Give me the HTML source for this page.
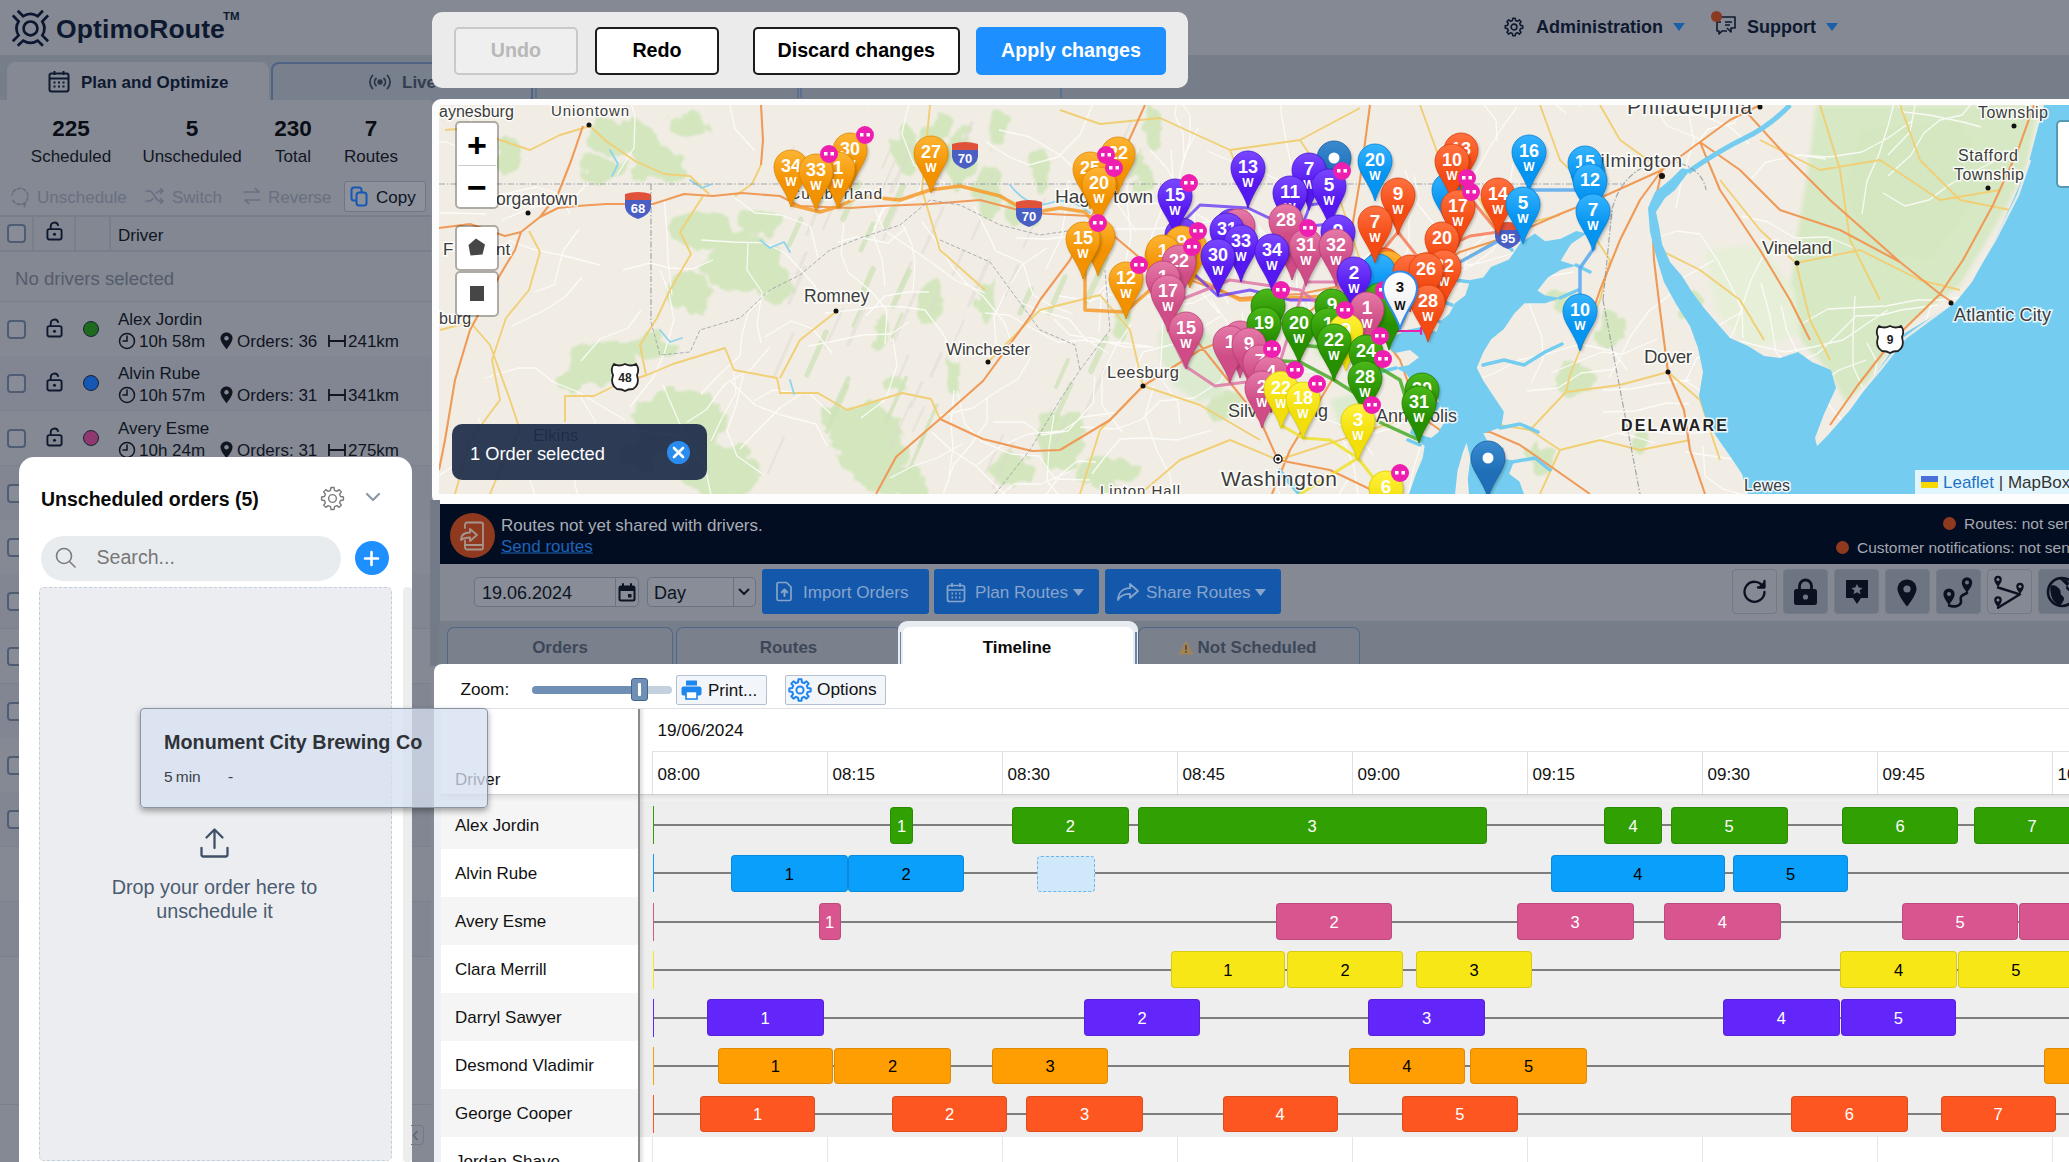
<!DOCTYPE html><html><head><meta charset="utf-8"><title>OptimoRoute</title><style>
*{box-sizing:border-box;margin:0;padding:0}
html,body{width:2069px;height:1162px;overflow:hidden;background:#848994;font-family:"Liberation Sans",sans-serif;}
.a{position:absolute}
.t{position:absolute;white-space:nowrap;line-height:1}
svg{position:absolute;overflow:visible}
</style></head><body><div id="root" style="position:relative;width:2069px;height:1162px;overflow:hidden">
<div class="a" style="left:0px;top:0px;width:2069px;height:55px;background:#848994"></div>
<div class="a" style="left:0px;top:55px;width:2069px;height:45px;background:#767e8a"></div>
<svg style="left:0px;top:0px" width="60" height="56" viewBox="0 0 60 56" fill="none" stroke="#0b1730" stroke-width="2.700" stroke-linecap="butt" stroke-linejoin="miter">
<circle cx="30.500" cy="28.400" r="6.900"/>
<path d="M17.700 10.700 L23.200 16.200 Q30.500 11.600 37.700 16.200 L42.900 10.700"/>
<path d="M17.700 45.800 L23.200 40.600 Q30.500 45.200 37.700 40.600 L42.900 45.800"/>
<path d="M12.800 15.400 L18.600 21.500 Q14.200 28.400 18.600 35.400 L12.800 41.200"/>
<path d="M48.100 15.400 L42.300 21.500 Q46.700 28.400 42.300 35.400 L48.100 41.200"/>
</svg>
<div class="t" style="left:56px;top:29px;font-size:26.5px;color:#0e1930;font-weight:bold;transform:translate(0,-50%);letter-spacing:0.1px">OptimoRoute</div>
<div class="t" style="left:223px;top:17px;font-size:11.5px;color:#0e1930;font-weight:bold;transform:translate(0,-50%);">TM</div>
<svg style="left:1504px;top:16.500px" width="20" height="20" viewBox="0 0 24 24" fill="none" stroke="#0e1930" stroke-width="1.900" stroke-linejoin="round"><circle cx="12" cy="12" r="3.500"/><path d="M10.07 4.24 L10.51 1.51 L13.49 1.51 L13.93 4.24 L16.13 5.15 L18.36 3.52 L20.48 5.64 L18.85 7.87 L19.76 10.07 L22.49 10.51 L22.49 13.49 L19.76 13.93 L18.85 16.13 L20.48 18.36 L18.36 20.48 L16.13 18.85 L13.93 19.76 L13.49 22.49 L10.51 22.49 L10.07 19.76 L7.87 18.85 L5.64 20.48 L3.52 18.36 L5.15 16.13 L4.24 13.93 L1.51 13.49 L1.51 10.51 L4.24 10.07 L5.15 7.87 L3.52 5.64 L5.64 3.52 L7.87 5.15 Z"/></svg>
<div class="t" style="left:1536px;top:27px;font-size:18px;color:#0e1930;font-weight:bold;transform:translate(0,-50%);">Administration</div>
<svg style="left:1673px;top:23px" width="12" height="8" viewBox="0 0 12 8"><path d="M0 0h12l-6 8z" fill="#1b5fa8"/></svg>
<svg style="left:1714px;top:14px" width="24" height="24" viewBox="0 0 24 24" fill="none" stroke="#0e1930" stroke-width="1.6" stroke-linejoin="round"><path d="M7 3h14v11h-4v4l-4-4"/><path d="M11 8h7M11 11h5"/><path d="M3 8h4M3 8v9h2v3l3-3h5"/></svg>
<div class="a" style="left:1711px;top:11px;width:11px;height:11px;background:#8b3a22;border-radius:50%"></div>
<div class="t" style="left:1747px;top:27px;font-size:18px;color:#0e1930;font-weight:bold;transform:translate(0,-50%);">Support</div>
<svg style="left:1826px;top:23px" width="12" height="8" viewBox="0 0 12 8"><path d="M0 0h12l-6 8z" fill="#1b5fa8"/></svg>
<div class="a" style="left:7px;top:62px;width:262px;height:40px;background:#848994;border-radius:8px 8px 0 0"></div>
<svg style="left:47px;top:69px" width="24" height="24" viewBox="0 0 24 24" fill="none" stroke="#0e1930" stroke-width="2" stroke-linejoin="round"><rect x="2.5" y="4.5" width="19" height="18" rx="2"/><path d="M2.5 9.5h19M7.5 2v4M16.5 2v4"/><path d="M6.5 13.5h2M11 13.5h2M15.5 13.5h2M6.5 17.5h2M11 17.5h2M15.5 17.5h2" stroke-width="2.2"/></svg>
<div class="t" style="left:81px;top:82px;font-size:17px;color:#0e1930;font-weight:bold;transform:translate(0,-50%);">Plan and Optimize</div>
<div class="a" style="left:271px;top:62px;width:262px;height:40px;background:#78808d;border:2px solid #4f6485;border-bottom:none;border-radius:8px 8px 0 0"></div>
<svg style="left:367px;top:72px" width="26" height="20" viewBox="0 0 26 20" fill="none" stroke="#2b3548" stroke-width="1.800" stroke-linecap="round"><circle cx="13" cy="10" r="1.800" fill="#2b3548"/><path d="M9 6.500a5 5 0 0 0 0 7M17 6.500a5 5 0 0 1 0 7M5.500 3.500a9.500 9.500 0 0 0 0 13M20.500 3.500a9.500 9.500 0 0 1 0 13"/></svg>
<div class="t" style="left:402px;top:82px;font-size:17px;color:#333d50;font-weight:bold;transform:translate(0,-50%);">Live</div>
<div class="a" style="left:535px;top:88px;width:2px;height:10px;background:#5a7090"></div>
<div class="a" style="left:800px;top:88px;width:2px;height:10px;background:#5a7090"></div>
<div class="a" style="left:1060px;top:88px;width:2px;height:10px;background:#5a7090"></div>
<div class="a" style="left:797px;top:88px;width:2px;height:10px;background:#5a7090"></div>
<div class="a" style="left:0px;top:100px;width:431px;height:1062px;background:#848994"></div>
<div class="t" style="left:71px;top:128.5px;font-size:22.5px;color:#0a0d14;font-weight:bold;transform:translate(-50%,-50%);">225</div>
<div class="t" style="left:71px;top:156px;font-size:17px;color:#12161f;font-weight:normal;transform:translate(-50%,-50%);">Scheduled</div>
<div class="t" style="left:192px;top:128.5px;font-size:22.5px;color:#0a0d14;font-weight:bold;transform:translate(-50%,-50%);">5</div>
<div class="t" style="left:192px;top:156px;font-size:17px;color:#12161f;font-weight:normal;transform:translate(-50%,-50%);">Unscheduled</div>
<div class="t" style="left:293px;top:128.5px;font-size:22.5px;color:#0a0d14;font-weight:bold;transform:translate(-50%,-50%);">230</div>
<div class="t" style="left:293px;top:156px;font-size:17px;color:#12161f;font-weight:normal;transform:translate(-50%,-50%);">Total</div>
<div class="t" style="left:371px;top:128.5px;font-size:22.5px;color:#0a0d14;font-weight:bold;transform:translate(-50%,-50%);">7</div>
<div class="t" style="left:371px;top:156px;font-size:17px;color:#12161f;font-weight:normal;transform:translate(-50%,-50%);">Routes</div>
<svg style="left:9px;top:185px" width="22" height="22" viewBox="0 0 22 22" fill="none" stroke="#687080" stroke-width="1.7" stroke-linecap="round"><path d="M4 15.5A8 8 0 1 0 3 10" stroke-dasharray="3.2 2.2"/><path d="M13 19.5l3.5-1.2-1.2 3.5" stroke-linejoin="round"/></svg>
<div class="t" style="left:37px;top:197px;font-size:17px;color:#687080;font-weight:normal;transform:translate(0,-50%);">Unschedule</div>
<svg style="left:145px;top:187px" width="20" height="18" viewBox="0 0 20 18" fill="none" stroke="#687080" stroke-width="1.7" stroke-linecap="round" stroke-linejoin="round"><path d="M1 4h3.5c4 0 6 10 10 10H18M1 14h3.5c1.3 0 2.3-1 3.2-2.3M11.5 6.2C12.400 5 13.300 4 14.500 4H18M15.500 1.500L18 4l-2.500 2.500M15.500 11.500L18 14l-2.500 2.500"/></svg>
<div class="t" style="left:172px;top:197px;font-size:17px;color:#687080;font-weight:normal;transform:translate(0,-50%);">Switch</div>
<svg style="left:242px;top:187px" width="20" height="18" viewBox="0 0 20 18" fill="none" stroke="#687080" stroke-width="1.7" stroke-linecap="round" stroke-linejoin="round"><path d="M2 5h15M13.500 1.500L17 5M18 13H3M6.500 16.500L3 13"/></svg>
<div class="t" style="left:268px;top:197px;font-size:17px;color:#687080;font-weight:normal;transform:translate(0,-50%);">Reverse</div>
<div class="a" style="left:344px;top:181px;width:82px;height:31px;background:#8c919b;border:1px solid #6f7786;border-radius:3px"></div>
<svg style="left:350px;top:186px" width="20" height="22" viewBox="0 0 20 22" fill="none" stroke="#1459b3" stroke-width="2" stroke-linejoin="round"><rect x="1.500" y="1.500" width="10" height="13" rx="2.500"/><rect x="6.500" y="6.500" width="10" height="13" rx="2.500" fill="#8c919b"/></svg>
<div class="t" style="left:376px;top:197px;font-size:17px;color:#0c1424;font-weight:normal;transform:translate(0,-50%);">Copy</div>
<div class="a" style="left:0px;top:215px;width:431px;height:37px;background:#828792;border-top:2px solid #787f8c;border-bottom:2px solid #787f8c"></div>
<div class="a" style="left:32px;top:216px;width:2px;height:35px;background:#787f8c"></div>
<div class="a" style="left:74px;top:216px;width:2px;height:35px;background:#787f8c"></div>
<div class="a" style="left:109px;top:216px;width:2px;height:35px;background:#787f8c"></div>
<div class="a" style="left:7px;top:224px;width:19px;height:19px;border:2px solid #4f5c74;border-radius:4px;background:#878c97"></div>
<svg style="left:46px;top:221px" width="17" height="20" viewBox="0 0 18 21" fill="none" stroke="#0e1930" stroke-width="2"><rect x="1.500" y="8.500" width="15" height="11" rx="2"/><path d="M5 8.500V5.500a4 4 0 0 1 7.800 -1.200" stroke-linecap="round"/><circle cx="9" cy="14" r="1.600" fill="#0e1930" stroke="none"/></svg>
<div class="t" style="left:118px;top:235px;font-size:17px;color:#10151f;font-weight:normal;transform:translate(0,-50%);">Driver</div>
<div class="a" style="left:0px;top:252px;width:431px;height:50px;background:#838893"></div>
<div class="t" style="left:15px;top:278.5px;font-size:18.6px;color:#545c6b;font-weight:normal;transform:translate(0,-50%);">No drivers selected</div>
<div class="a" style="left:0px;top:301px;width:431px;height:1px;background:#7a808c"></div>
<div class="a" style="left:0px;top:302px;width:431px;height:55px;background:#848994;border-bottom:1px solid #7a808c"></div>
<div class="a" style="left:7px;top:320px;width:19px;height:19px;border:2px solid #4f5c74;border-radius:4px;background:#878c97"></div>
<svg style="left:46px;top:318px" width="17" height="20" viewBox="0 0 18 21" fill="none" stroke="#0e1930" stroke-width="2"><rect x="1.500" y="8.500" width="15" height="11" rx="2"/><path d="M5 8.500V5.500a4 4 0 0 1 7.800 -1.200" stroke-linecap="round"/><circle cx="9" cy="14" r="1.600" fill="#0e1930" stroke="none"/></svg>
<div class="a" style="left:83px;top:320.5px;width:16px;height:16px;background:#1e6b1e;border-radius:50%;border:1px solid #1a2233"></div>
<div class="t" style="left:118px;top:319px;font-size:17px;color:#10151f;font-weight:normal;transform:translate(0,-50%);">Alex Jordin</div>
<svg style="left:118px;top:332px" width="18" height="18" viewBox="0 0 18 18" fill="none" stroke="#10151f" stroke-width="1.500"><circle cx="9" cy="9" r="7.500"/><path d="M9 4v5H5" stroke-linecap="round"/></svg>
<div class="t" style="left:139px;top:341px;font-size:17px;color:#10151f;font-weight:normal;transform:translate(0,-50%);">10h 58m</div>
<svg style="left:220px;top:332px" width="13" height="18" viewBox="0 0 13 18"><path d="M6.500 0.500C3 0.500 0.500 3 0.500 6.300c0 4 6 11 6 11s6-7 6-11C12.500 3 10 0.500 6.500 0.500z" fill="#10151f"/><circle cx="6.500" cy="6.300" r="2.200" fill="#848994"/></svg>
<div class="t" style="left:237px;top:341px;font-size:17px;color:#10151f;font-weight:normal;transform:translate(0,-50%);">Orders: 36</div>
<svg style="left:328px;top:335px" width="18" height="12" viewBox="0 0 18 12" fill="none" stroke="#10151f" stroke-width="1.800"><path d="M1 0v12M17 0v12M1 6h16"/></svg>
<div class="t" style="left:348px;top:341px;font-size:17px;color:#10151f;font-weight:normal;transform:translate(0,-50%);">241km</div>
<div class="a" style="left:0px;top:356px;width:431px;height:55px;background:#818692;border-bottom:1px solid #7a808c"></div>
<div class="a" style="left:7px;top:374px;width:19px;height:19px;border:2px solid #4f5c74;border-radius:4px;background:#878c97"></div>
<svg style="left:46px;top:372px" width="17" height="20" viewBox="0 0 18 21" fill="none" stroke="#0e1930" stroke-width="2"><rect x="1.500" y="8.500" width="15" height="11" rx="2"/><path d="M5 8.500V5.500a4 4 0 0 1 7.800 -1.200" stroke-linecap="round"/><circle cx="9" cy="14" r="1.600" fill="#0e1930" stroke="none"/></svg>
<div class="a" style="left:83px;top:374.5px;width:16px;height:16px;background:#1457b5;border-radius:50%;border:1px solid #1a2233"></div>
<div class="t" style="left:118px;top:373px;font-size:17px;color:#10151f;font-weight:normal;transform:translate(0,-50%);">Alvin Rube</div>
<svg style="left:118px;top:386px" width="18" height="18" viewBox="0 0 18 18" fill="none" stroke="#10151f" stroke-width="1.500"><circle cx="9" cy="9" r="7.500"/><path d="M9 4v5H5" stroke-linecap="round"/></svg>
<div class="t" style="left:139px;top:395px;font-size:17px;color:#10151f;font-weight:normal;transform:translate(0,-50%);">10h 57m</div>
<svg style="left:220px;top:386px" width="13" height="18" viewBox="0 0 13 18"><path d="M6.500 0.500C3 0.500 0.500 3 0.500 6.300c0 4 6 11 6 11s6-7 6-11C12.500 3 10 0.500 6.500 0.500z" fill="#10151f"/><circle cx="6.500" cy="6.300" r="2.200" fill="#848994"/></svg>
<div class="t" style="left:237px;top:395px;font-size:17px;color:#10151f;font-weight:normal;transform:translate(0,-50%);">Orders: 31</div>
<svg style="left:328px;top:389px" width="18" height="12" viewBox="0 0 18 12" fill="none" stroke="#10151f" stroke-width="1.800"><path d="M1 0v12M17 0v12M1 6h16"/></svg>
<div class="t" style="left:348px;top:395px;font-size:17px;color:#10151f;font-weight:normal;transform:translate(0,-50%);">341km</div>
<div class="a" style="left:0px;top:411px;width:431px;height:55px;background:#848994;border-bottom:1px solid #7a808c"></div>
<div class="a" style="left:7px;top:429px;width:19px;height:19px;border:2px solid #4f5c74;border-radius:4px;background:#878c97"></div>
<svg style="left:46px;top:427px" width="17" height="20" viewBox="0 0 18 21" fill="none" stroke="#0e1930" stroke-width="2"><rect x="1.500" y="8.500" width="15" height="11" rx="2"/><path d="M5 8.500V5.500a4 4 0 0 1 7.800 -1.200" stroke-linecap="round"/><circle cx="9" cy="14" r="1.600" fill="#0e1930" stroke="none"/></svg>
<div class="a" style="left:83px;top:429.5px;width:16px;height:16px;background:#8e3a70;border-radius:50%;border:1px solid #1a2233"></div>
<div class="t" style="left:118px;top:428px;font-size:17px;color:#10151f;font-weight:normal;transform:translate(0,-50%);">Avery Esme</div>
<svg style="left:118px;top:441px" width="18" height="18" viewBox="0 0 18 18" fill="none" stroke="#10151f" stroke-width="1.500"><circle cx="9" cy="9" r="7.500"/><path d="M9 4v5H5" stroke-linecap="round"/></svg>
<div class="t" style="left:139px;top:450px;font-size:17px;color:#10151f;font-weight:normal;transform:translate(0,-50%);">10h 24m</div>
<svg style="left:220px;top:441px" width="13" height="18" viewBox="0 0 13 18"><path d="M6.500 0.500C3 0.500 0.500 3 0.500 6.300c0 4 6 11 6 11s6-7 6-11C12.500 3 10 0.500 6.500 0.500z" fill="#10151f"/><circle cx="6.500" cy="6.300" r="2.200" fill="#848994"/></svg>
<div class="t" style="left:237px;top:450px;font-size:17px;color:#10151f;font-weight:normal;transform:translate(0,-50%);">Orders: 31</div>
<svg style="left:328px;top:444px" width="18" height="12" viewBox="0 0 18 12" fill="none" stroke="#10151f" stroke-width="1.800"><path d="M1 0v12M17 0v12M1 6h16"/></svg>
<div class="t" style="left:348px;top:450px;font-size:17px;color:#10151f;font-weight:normal;transform:translate(0,-50%);">275km</div>
<div class="a" style="left:0px;top:466px;width:431px;height:55px;background:#818692;border-bottom:1px solid #7a808c"></div>
<div class="a" style="left:7px;top:484px;width:19px;height:19px;border:2px solid #4f5c74;border-radius:4px;background:#878c97"></div>
<div class="a" style="left:0px;top:520px;width:431px;height:55px;background:#848994;border-bottom:1px solid #7a808c"></div>
<div class="a" style="left:7px;top:538px;width:19px;height:19px;border:2px solid #4f5c74;border-radius:4px;background:#878c97"></div>
<div class="a" style="left:0px;top:574px;width:431px;height:55px;background:#818692;border-bottom:1px solid #7a808c"></div>
<div class="a" style="left:7px;top:592px;width:19px;height:19px;border:2px solid #4f5c74;border-radius:4px;background:#878c97"></div>
<div class="a" style="left:0px;top:629px;width:431px;height:55px;background:#848994;border-bottom:1px solid #7a808c"></div>
<div class="a" style="left:7px;top:647px;width:19px;height:19px;border:2px solid #4f5c74;border-radius:4px;background:#878c97"></div>
<div class="a" style="left:0px;top:684px;width:431px;height:55px;background:#818692;border-bottom:1px solid #7a808c"></div>
<div class="a" style="left:7px;top:702px;width:19px;height:19px;border:2px solid #4f5c74;border-radius:4px;background:#878c97"></div>
<div class="a" style="left:0px;top:738px;width:431px;height:55px;background:#848994;border-bottom:1px solid #7a808c"></div>
<div class="a" style="left:7px;top:756px;width:19px;height:19px;border:2px solid #4f5c74;border-radius:4px;background:#878c97"></div>
<div class="a" style="left:0px;top:792px;width:431px;height:55px;background:#818692;border-bottom:1px solid #7a808c"></div>
<div class="a" style="left:7px;top:810px;width:19px;height:19px;border:2px solid #4f5c74;border-radius:4px;background:#878c97"></div>
<div class="a" style="left:0px;top:847px;width:431px;height:55px;background:#848994;border-bottom:1px solid #7a808c"></div>
<div class="a" style="left:0px;top:902px;width:431px;height:55px;background:#818692;border-bottom:1px solid #7a808c"></div>
<div class="a" style="left:0px;top:1105px;width:431px;height:57px;background:#848994"></div>
<div class="a" style="left:0px;top:1104px;width:431px;height:1px;background:#7a808c"></div>
<div class="a" style="left:432px;top:98.5px;width:1637px;height:406px;background:#fdfdfd;border-radius:9px 0 0 9px"></div>
<svg style="left:439px;top:105px;overflow:hidden" width="1630" height="389" viewBox="439 105 1630 389">
<defs>
<filter id="bl8"><feGaussianBlur stdDeviation="5"/></filter>
<filter id="bl3"><feGaussianBlur stdDeviation="2"/></filter>
<filter id="rough" x="-10%" y="-10%" width="120%" height="120%"><feTurbulence type="fractalNoise" baseFrequency="0.045" numOctaves="3" seed="4" result="n"/><feDisplacementMap in="SourceGraphic" in2="n" scale="26" xChannelSelector="R" yChannelSelector="G" result="d"/><feGaussianBlur in="d" stdDeviation="1.200"/></filter>
<filter id="ps" x="-30%" y="-20%" width="160%" height="150%"><feGaussianBlur stdDeviation="1.500"/></filter>

<linearGradient id="go" x1="0" y1="0" x2="0" y2="1"><stop offset="0" stop-color="#fdb534"/><stop offset="0.550" stop-color="#f39200"/><stop offset="1" stop-color="#f39200"/></linearGradient>
<linearGradient id="gp" x1="0" y1="0" x2="0" y2="1"><stop offset="0" stop-color="#7a48ff"/><stop offset="0.550" stop-color="#5518f0"/><stop offset="1" stop-color="#5518f0"/></linearGradient>
<linearGradient id="gk" x1="0" y1="0" x2="0" y2="1"><stop offset="0" stop-color="#e57aa8"/><stop offset="0.550" stop-color="#cf4c86"/><stop offset="1" stop-color="#cf4c86"/></linearGradient>
<linearGradient id="gg" x1="0" y1="0" x2="0" y2="1"><stop offset="0" stop-color="#4bb81a"/><stop offset="0.550" stop-color="#279000"/><stop offset="1" stop-color="#279000"/></linearGradient>
<linearGradient id="gy" x1="0" y1="0" x2="0" y2="1"><stop offset="0" stop-color="#fff23a"/><stop offset="0.550" stop-color="#f2de0a"/><stop offset="1" stop-color="#f2de0a"/></linearGradient>
<linearGradient id="gr" x1="0" y1="0" x2="0" y2="1"><stop offset="0" stop-color="#ff7240"/><stop offset="0.550" stop-color="#f44b14"/><stop offset="1" stop-color="#f44b14"/></linearGradient>
<linearGradient id="gb" x1="0" y1="0" x2="0" y2="1"><stop offset="0" stop-color="#36b3ff"/><stop offset="0.550" stop-color="#0594f0"/><stop offset="1" stop-color="#0594f0"/></linearGradient>
<linearGradient id="gw" x1="0" y1="0" x2="0" y2="1"><stop offset="0" stop-color="#ffffff"/><stop offset="0.550" stop-color="#f4f4f4"/><stop offset="1" stop-color="#f4f4f4"/></linearGradient>
<linearGradient id="gd" x1="0" y1="0" x2="0" y2="1"><stop offset="0" stop-color="#3a8ad0"/><stop offset="0.550" stop-color="#1f6fb8"/><stop offset="1" stop-color="#1f6fb8"/></linearGradient>
</defs>
<rect x="439" y="105" width="1630" height="389" fill="#f1ede5"/>
<g filter="url(#rough)" opacity="0.950">
<ellipse cx="509" cy="155" rx="10" ry="16" fill="#d2e6bc"/>
<ellipse cx="620" cy="135" rx="32" ry="18" fill="#d2e6bc"/>
<ellipse cx="660" cy="165" rx="28" ry="18" fill="#d2e6bc"/>
<ellipse cx="690" cy="125" rx="22" ry="13" fill="#d2e6bc"/>
<ellipse cx="600" cy="170" rx="22" ry="15" fill="#d2e6bc"/>
<ellipse cx="640" cy="150" rx="20" ry="14" fill="#d2e6bc"/>
<ellipse cx="700" cy="232" rx="30" ry="20" fill="#d2e6bc"/>
<ellipse cx="742" cy="262" rx="36" ry="30" fill="#d2e6bc"/>
<ellipse cx="690" cy="290" rx="22" ry="22" fill="#d2e6bc"/>
<ellipse cx="762" cy="222" rx="22" ry="13" fill="#d2e6bc"/>
<ellipse cx="775" cy="285" rx="18" ry="22" fill="#d2e6bc"/>
<ellipse cx="600" cy="362" rx="36" ry="22" fill="#d2e6bc"/>
<ellipse cx="650" cy="347" rx="28" ry="13" fill="#d2e6bc"/>
<ellipse cx="575" cy="380" rx="18" ry="14" fill="#d2e6bc"/>
<ellipse cx="680" cy="425" rx="46" ry="36" fill="#d2e6bc"/>
<ellipse cx="722" cy="472" rx="38" ry="26" fill="#d2e6bc"/>
<ellipse cx="640" cy="455" rx="22" ry="16" fill="#d2e6bc"/>
<ellipse cx="870" cy="445" rx="34" ry="44" fill="#d2e6bc"/>
<ellipse cx="902" cy="482" rx="26" ry="16" fill="#d2e6bc"/>
<ellipse cx="895" cy="386" rx="14" ry="9" fill="#d2e6bc"/>
<ellipse cx="835" cy="420" rx="14" ry="12" fill="#d2e6bc"/>
<ellipse cx="905" cy="150" rx="14" ry="26" fill="#d2e6bc"/>
<ellipse cx="935" cy="135" rx="12" ry="22" fill="#d2e6bc"/>
<ellipse cx="960" cy="160" rx="12" ry="30" fill="#d2e6bc"/>
<ellipse cx="990" cy="190" rx="14" ry="26" fill="#d2e6bc"/>
<ellipse cx="1000" cy="130" rx="12" ry="20" fill="#d2e6bc"/>
<ellipse cx="1040" cy="170" rx="10" ry="22" fill="#d2e6bc"/>
<ellipse cx="1020" cy="215" rx="16" ry="10" fill="#d2e6bc"/>
<ellipse cx="880" cy="330" rx="8" ry="20" fill="#d2e6bc"/>
<ellipse cx="930" cy="300" rx="8" ry="22" fill="#d2e6bc"/>
<ellipse cx="985" cy="300" rx="8" ry="20" fill="#d2e6bc"/>
<ellipse cx="950" cy="380" rx="8" ry="16" fill="#d2e6bc"/>
<ellipse cx="1142" cy="180" rx="9" ry="26" fill="#d2e6bc"/>
<ellipse cx="1150" cy="125" rx="10" ry="20" fill="#d2e6bc"/>
<ellipse cx="1120" cy="320" rx="8" ry="18" fill="#d2e6bc"/>
<ellipse cx="1060" cy="440" rx="26" ry="30" fill="#d2e6bc"/>
<ellipse cx="1105" cy="472" rx="30" ry="18" fill="#d2e6bc"/>
<ellipse cx="1010" cy="470" rx="20" ry="16" fill="#d2e6bc"/>
<ellipse cx="1180" cy="330" rx="14" ry="22" fill="#d2e6bc"/>
<ellipse cx="1225" cy="405" rx="18" ry="14" fill="#d2e6bc"/>
<ellipse cx="1560" cy="300" rx="14" ry="10" fill="#d2e6bc"/>
<ellipse cx="1575" cy="380" rx="20" ry="14" fill="#d2e6bc"/>
<ellipse cx="1610" cy="330" rx="14" ry="18" fill="#d2e6bc"/>
<ellipse cx="1540" cy="455" rx="14" ry="12" fill="#d2e6bc"/>
<ellipse cx="1640" cy="440" rx="12" ry="16" fill="#d2e6bc"/>
<ellipse cx="1690" cy="305" rx="10" ry="14" fill="#d2e6bc"/>
</g>
<g filter="url(#bl3)"><path d="M1158 332 L1184 318 L1212 336 L1226 372 L1222 396 L1198 402 L1172 384 L1160 358 Z" fill="#dcebd0"/><path d="M1300 330 L1330 322 L1345 345 L1320 360Z M1330 400 L1360 392 L1370 420 L1340 428Z" fill="#dcebd0"/></g>
<g filter="url(#bl3)"><path d="M1816 105 L2040 105 L2025 170 L2005 210 L1960 285 L1900 330 L1870 380 L1845 402 L1830 372 L1802 342 L1790 290 L1798 230 L1808 170 Z" fill="#d7e8c4"/><path d="M1705 250 L1760 245 L1795 290 L1800 335 L1750 350 L1715 310Z" fill="#e7efd8"/><path d="M1860 130 L1960 120 L1990 180 L1930 260 L1870 250 L1845 190Z" fill="#d4e7c0"/></g>
<path d="M877 201 l18 -40" stroke="#dedad2" stroke-width="2.1" opacity="0.450" stroke-linecap="round"/>
<path d="M953 274 l10 -22" stroke="#dedad2" stroke-width="3.0" opacity="0.450" stroke-linecap="round"/>
<path d="M773 297 l10 -22" stroke="#dedad2" stroke-width="2.2" opacity="0.450" stroke-linecap="round"/>
<path d="M913 431 l11 -24" stroke="#dedad2" stroke-width="2.4" opacity="0.450" stroke-linecap="round"/>
<path d="M986 472 l17 -37" stroke="#dedad2" stroke-width="2.8" opacity="0.450" stroke-linecap="round"/>
<path d="M1111 166 l21 -46" stroke="#dedad2" stroke-width="2.6" opacity="0.450" stroke-linecap="round"/>
<path d="M812 190 l13 -29" stroke="#dedad2" stroke-width="3.6" opacity="0.450" stroke-linecap="round"/>
<path d="M825 348 l18 -39" stroke="#dedad2" stroke-width="2.7" opacity="0.450" stroke-linecap="round"/>
<path d="M957 171 l10 -22" stroke="#dedad2" stroke-width="2.4" opacity="0.450" stroke-linecap="round"/>
<path d="M1005 295 l13 -29" stroke="#dedad2" stroke-width="3.2" opacity="0.450" stroke-linecap="round"/>
<path d="M923 252 l20 -44" stroke="#dedad2" stroke-width="3.4" opacity="0.450" stroke-linecap="round"/>
<path d="M848 345 l16 -36" stroke="#dedad2" stroke-width="3.8" opacity="0.450" stroke-linecap="round"/>
<path d="M1023 248 l22 -49" stroke="#dedad2" stroke-width="2.2" opacity="0.450" stroke-linecap="round"/>
<path d="M911 407 l11 -25" stroke="#dedad2" stroke-width="3.0" opacity="0.450" stroke-linecap="round"/>
<path d="M774 377 l19 -43" stroke="#dedad2" stroke-width="3.1" opacity="0.450" stroke-linecap="round"/>
<path d="M1075 257 l18 -41" stroke="#dedad2" stroke-width="3.2" opacity="0.450" stroke-linecap="round"/>
<path d="M969 305 l20 -45" stroke="#dedad2" stroke-width="3.9" opacity="0.450" stroke-linecap="round"/>
<path d="M931 376 l10 -22" stroke="#dedad2" stroke-width="3.4" opacity="0.450" stroke-linecap="round"/>
<path d="M993 488 l20 -45" stroke="#dedad2" stroke-width="2.6" opacity="0.450" stroke-linecap="round"/>
<path d="M899 377 l9 -21" stroke="#dedad2" stroke-width="2.9" opacity="0.450" stroke-linecap="round"/>
<path d="M820 190 l10 -22" stroke="#dedad2" stroke-width="3.5" opacity="0.450" stroke-linecap="round"/>
<path d="M807 234 l14 -32" stroke="#dedad2" stroke-width="3.7" opacity="0.450" stroke-linecap="round"/>
<path d="M789 303 l16 -36" stroke="#dedad2" stroke-width="3.8" opacity="0.450" stroke-linecap="round"/>
<path d="M1055 444 l13 -28" stroke="#dedad2" stroke-width="2.8" opacity="0.450" stroke-linecap="round"/>
<path d="M889 451 l22 -49" stroke="#dedad2" stroke-width="2.3" opacity="0.450" stroke-linecap="round"/>
<path d="M823 229 l12 -27" stroke="#dedad2" stroke-width="3.0" opacity="0.450" stroke-linecap="round"/>
<path d="M972 239 l9 -20" stroke="#dedad2" stroke-width="2.8" opacity="0.450" stroke-linecap="round"/>
<path d="M893 343 l22 -49" stroke="#dedad2" stroke-width="3.4" opacity="0.450" stroke-linecap="round"/>
<path d="M946 360 l18 -40" stroke="#dedad2" stroke-width="2.1" opacity="0.450" stroke-linecap="round"/>
<path d="M1084 415 l21 -46" stroke="#dedad2" stroke-width="3.6" opacity="0.450" stroke-linecap="round"/>
<path d="M901 286 l10 -23" stroke="#dedad2" stroke-width="3.3" opacity="0.450" stroke-linecap="round"/>
<path d="M782 173 l12 -26" stroke="#dedad2" stroke-width="2.3" opacity="0.450" stroke-linecap="round"/>
<path d="M882 168 l9 -20" stroke="#dedad2" stroke-width="2.3" opacity="0.450" stroke-linecap="round"/>
<path d="M797 274 l9 -21" stroke="#dedad2" stroke-width="3.7" opacity="0.450" stroke-linecap="round"/>
<path d="M981 201 l12 -28" stroke="#dedad2" stroke-width="2.7" opacity="0.450" stroke-linecap="round"/>
<path d="M891 192 l20 -45" stroke="#dedad2" stroke-width="4.0" opacity="0.450" stroke-linecap="round"/>
<path d="M928 315 l10 -23" stroke="#dedad2" stroke-width="2.2" opacity="0.450" stroke-linecap="round"/>
<path d="M883 240 l20 -45" stroke="#dedad2" stroke-width="2.3" opacity="0.450" stroke-linecap="round"/>
<path d="M768 473 l16 -36" stroke="#dedad2" stroke-width="2.3" opacity="0.450" stroke-linecap="round"/>
<path d="M956 159 l16 -36" stroke="#dedad2" stroke-width="4.0" opacity="0.450" stroke-linecap="round"/>
<path d="M1056 387 l12 -27" stroke="#cfe3b9" stroke-width="4.1" opacity="0.750" stroke-linecap="round"/>
<path d="M833 412 l15 -33" stroke="#cfe3b9" stroke-width="5.3" opacity="0.750" stroke-linecap="round"/>
<path d="M885 226 l18 -40" stroke="#cfe3b9" stroke-width="6.0" opacity="0.750" stroke-linecap="round"/>
<path d="M1053 424 l18 -40" stroke="#cfe3b9" stroke-width="5.2" opacity="0.750" stroke-linecap="round"/>
<path d="M853 326 l13 -29" stroke="#cfe3b9" stroke-width="3.1" opacity="0.750" stroke-linecap="round"/>
<path d="M789 245 l12 -26" stroke="#cfe3b9" stroke-width="5.1" opacity="0.750" stroke-linecap="round"/>
<path d="M1086 302 l20 -43" stroke="#cfe3b9" stroke-width="6.0" opacity="0.750" stroke-linecap="round"/>
<path d="M1086 274 l11 -26" stroke="#cfe3b9" stroke-width="3.7" opacity="0.750" stroke-linecap="round"/>
<path d="M843 219 l16 -36" stroke="#cfe3b9" stroke-width="5.7" opacity="0.750" stroke-linecap="round"/>
<path d="M1049 313 l16 -36" stroke="#cfe3b9" stroke-width="5.4" opacity="0.750" stroke-linecap="round"/>
<path d="M807 375 l19 -43" stroke="#cfe3b9" stroke-width="5.3" opacity="0.750" stroke-linecap="round"/>
<path d="M1020 313 l11 -24" stroke="#cfe3b9" stroke-width="5.4" opacity="0.750" stroke-linecap="round"/>
<path d="M886 422 l20 -44" stroke="#cfe3b9" stroke-width="4.2" opacity="0.750" stroke-linecap="round"/>
<path d="M908 472 l17 -38" stroke="#cfe3b9" stroke-width="3.5" opacity="0.750" stroke-linecap="round"/>
<path d="M821 201 l19 -43" stroke="#cfe3b9" stroke-width="5.4" opacity="0.750" stroke-linecap="round"/>
<path d="M827 431 l20 -45" stroke="#cfe3b9" stroke-width="5.0" opacity="0.750" stroke-linecap="round"/>
<path d="M892 337 l10 -23" stroke="#cfe3b9" stroke-width="3.0" opacity="0.750" stroke-linecap="round"/>
<path d="M1091 371 l15 -33" stroke="#cfe3b9" stroke-width="5.8" opacity="0.750" stroke-linecap="round"/>
<path d="M919 446 l18 -41" stroke="#cfe3b9" stroke-width="3.6" opacity="0.750" stroke-linecap="round"/>
<path d="M861 250 l12 -26" stroke="#cfe3b9" stroke-width="4.8" opacity="0.750" stroke-linecap="round"/>
<path d="M863 292 l10 -23" stroke="#cfe3b9" stroke-width="5.7" opacity="0.750" stroke-linecap="round"/>
<path d="M893 306 l16 -35" stroke="#cfe3b9" stroke-width="5.7" opacity="0.750" stroke-linecap="round"/>
<path d="M1096 462 L1077 461 L1061 474 L1043 499 L1025 519 M1306 410 L1328 420 L1356 431 L1373 455 M1228 304 L1217 278 L1198 251 L1194 215 L1181 192 L1166 167 L1150 150 M630 407 L653 378 L664 354 L674 320 L669 293 L660 270 M1566 113 L1545 96 L1510 89 L1497 61 L1475 49 L1442 52 L1412 39 M1073 314 L1054 307 L1033 295 L1023 263 L996 251 L985 228 L974 206 M641 310 L628 328 L600 339 L581 361 M861 418 L886 399 L897 365 L893 339 M1212 430 L1177 440 L1145 438 L1120 439 L1104 458 L1092 474 M1752 444 L1741 426 L1724 413 L1704 393 L1686 381 L1664 383 M570 214 L560 194 L536 187 L513 192 L485 197 M1465 384 L1495 373 L1519 360 L1550 353 L1580 344 L1613 351 L1627 370 M1685 382 L1697 358 L1722 353 L1734 331 L1743 306 M548 468 L566 454 L580 438 L600 424 M1962 297 L1939 300 L1917 300 L1886 306 L1866 307 L1828 309 L1803 323 M885 286 L882 259 L873 234 L882 209 L909 196 M580 396 L595 421 L591 444 L574 458 L575 485 L582 509 M932 432 L950 449 L976 466 L997 487 L1016 505 L1033 513 M1742 216 L1768 222 L1795 238 L1828 237 L1854 248 M565 468 L543 475 L523 468 L499 468 L481 448 M909 322 L891 334 L862 335 L830 342 L808 346 M1307 229 L1275 237 L1249 247 L1233 261 L1213 260 M1422 441 L1413 470 L1407 503 L1391 519 L1359 531 L1340 542 M1888 310 L1871 321 L1843 340 L1813 347 L1785 352 L1763 347 L1740 341 M832 353 L813 329 L791 321 L765 337 M874 228 L885 208 L915 199 L928 171 L937 142 M1883 193 L1905 206 L1929 200 L1949 185 L1969 174 L1995 161 M1412 342 L1435 317 L1443 295 L1460 285 L1469 251 L1495 227 L1519 226 M1900 395 L1929 412 L1949 415 L1984 415 L2008 427 L2042 430 L2062 441 M1136 231 L1118 205 L1111 188 L1081 175 L1060 155 L1030 137 L999 130 M869 106 L856 84 L856 59 L847 32 M1888 176 L1911 155 L1924 133 L1940 120 L1962 115 L1979 95 M1969 449 L1991 451 L2018 466 L2044 476 L2073 472 L2105 479 M875 209 L884 230 L912 249 L935 265 L955 280 L985 293 M1180 424 L1178 403 L1160 377 L1162 342 L1163 309 L1175 285 M1407 190 L1403 208 L1387 239 L1367 256 L1350 265 M1213 293 L1193 303 L1167 306 L1140 292 L1108 295 L1090 301 L1059 296 M1071 471 L1041 484 L1014 484 L991 503 L972 506 M1018 301 L1037 310 L1069 319 L1087 341 L1123 343 L1153 347 M1551 373 L1577 362 L1602 352 L1623 354 L1657 339 M740 449 L757 431 L781 407 L801 394 M1047 248 L1022 265 L1005 293 L994 317 L996 344 M582 277 L565 297 L543 311 L512 326 M1663 115 L1701 115 L1730 127 L1749 144 M987 399 L987 422 L970 446 L954 464 L944 492 L942 518 M1676 208 L1683 174 L1694 141 L1688 111 M1054 415 L1049 448 L1047 481 L1064 501 L1075 529 L1078 547 M492 163 L471 152 L446 142 L417 142 L388 142 L368 149 L347 145 M1690 380 L1655 384 L1632 389 L1603 390 M1447 278 L1473 265 L1493 250 L1501 232 L1513 213 L1510 185 L1513 163 M922 222 L937 242 L953 268 L967 284 L983 296 L1004 322 L1014 349 M1120 412 L1083 417 L1062 431 L1028 434 L999 447 L977 465 M1769 464 L1797 461 L1823 444 L1855 437 L1884 434 L1898 412 L1908 381 M487 159 L475 141 L468 108 L474 89 M1794 461 L1810 449 L1847 446 L1873 427 M1184 157 L1183 133 L1175 115 L1179 82 L1187 59 M1603 412 L1635 411 L1667 403 L1689 404 M754 401 L773 390 L810 394 L831 414 M687 422 L706 410 L725 384 L750 370 L770 347 M574 451 L600 447 L631 430 L652 432 L681 437 M1347 308 L1374 296 L1400 277 L1409 244 L1409 220 L1419 199 L1414 175 M1254 168 L1248 205 L1258 226 L1273 243 L1294 252 M1862 214 L1867 181 L1879 154 L1888 126 L1897 91 L1902 59 L1904 27 M1813 406 L1811 379 L1801 360 L1787 331 L1781 305 M1150 347 L1125 347 L1092 338 L1070 335 L1054 319 M1761 283 L1770 316 L1776 352 L1795 373 L1800 409 L1809 430 L1819 451 M1095 377 L1093 403 L1068 431 L1042 435 L1024 422 L993 422 M1711 162 L1698 138 L1667 126 L1654 105 L1632 93 L1600 94 L1578 106 M1108 353 L1087 340 L1058 342 L1033 329 L1009 315 L985 313 M1342 437 L1354 467 L1359 502 L1361 533 L1345 564 L1343 592 L1332 625 M1305 208 L1309 235 L1296 256 L1297 289 L1309 317 M1216 220 L1181 227 L1150 229 L1118 229 L1082 235 L1047 239 L1016 238 M1784 247 L1762 258 L1751 280 L1740 313 L1719 325 M1207 151 L1236 163 L1241 192 L1250 217 L1265 239 L1291 251 M1221 316 L1194 333 L1174 344 L1143 352 L1131 377 M1866 360 L1839 370 L1819 385 L1797 412 L1793 430 M625 420 L608 410 L576 391 L553 382 L536 368 L518 368 L485 378 M1796 155 L1829 157 L1862 152 L1888 138 L1912 121 M1828 460 L1845 450 L1865 452 L1885 466 M1198 128 L1184 157 L1179 178 L1163 206 L1152 235 L1145 264 L1129 290 M1796 387 L1820 394 L1838 416 L1860 443 L1874 457 M1099 333 L1101 298 L1116 272 L1143 260 M1219 313 L1202 293 L1195 264 L1194 242 L1181 210 L1173 180 L1171 150 M1839 449 L1817 446 L1786 456 L1762 466 L1740 460 L1705 455 L1685 452 M486 214 L449 213 L419 213 L395 199 M1637 424 L1661 433 L1679 434 L1711 432 L1744 445 L1775 462 M579 229 L563 251 L554 285 L534 292 M838 242 L857 237 L888 243 L906 228 M1905 368 L1893 388 L1886 414 L1889 434 L1887 467 L1893 501 L1917 528 M1826 159 L1801 155 L1766 162 L1751 179 M957 391 L965 424 L981 441 L1011 454 L1039 456 L1055 479 L1090 480 M769 291 L748 313 L742 335 L740 356 L720 374 L701 394 M1236 277 L1231 242 L1215 224 L1186 208 L1167 206 L1140 200 M761 343 L757 324 L762 292 L747 270 L748 242 M463 459 L437 477 L424 504 L404 526 L385 526 L352 538 M1655 443 L1635 437 L1617 433 L1596 440 M1405 170 L1416 202 L1436 227 L1450 248 M986 142 L1009 157 L1029 165 L1058 157 L1080 135 L1094 101 M1046 269 L1061 238 L1065 214 L1069 180 M1864 422 L1871 393 L1877 362 L1867 343 M945 183 L914 165 L902 134 L906 115 L914 86 M866 316 L885 296 L908 292 L929 292 M1931 305 L1923 331 L1914 366 L1905 397 L1890 417 L1871 432 L1849 450 M913 291 L915 263 L912 245 L902 223 M1308 296 L1310 317 L1332 338 L1357 346 L1374 359 M1936 392 L1944 413 L1949 447 L1973 473 L1975 503 L1972 530 M600 265 L565 256 L532 249 L508 240 M1154 386 L1145 416 L1157 451 L1170 475 L1173 501 L1190 522 L1185 545 M948 483 L953 448 L951 424 L954 390 M1574 272 L1549 276 L1521 273 L1495 273 M1335 447 L1366 435 L1397 427 L1415 408 L1419 387 L1428 364 L1451 344 M1424 309 L1433 289 L1450 268 L1480 263 L1511 254 M1517 107 L1503 126 L1490 147 L1473 177 M1336 265 L1356 278 L1392 284 L1418 289 L1448 299 M664 198 L667 233 L668 260 L672 295 M1349 478 L1334 503 L1311 511 L1287 505 L1269 477 M818 257 L810 226 L781 215 L755 213 L735 198 M962 444 L937 458 L913 466 L890 478 M478 418 L492 446 L517 461 L530 480 L541 514 M764 475 L737 456 L727 431 L736 406 L743 376 M1497 141 L1496 120 L1476 95 L1469 75 L1473 39 L1494 22 L1510 9 M1714 260 L1683 278 L1671 294 L1649 311 L1630 337 L1619 360 L1609 378 M1864 391 L1853 366 L1853 333 L1855 296 M1320 194 L1294 177 L1287 146 L1281 111 L1279 74 L1283 50 M1652 239 L1677 231 L1700 234 L1718 261 L1734 292 L1742 310 L1743 338 M1888 155 L1910 132 L1916 100 L1913 63 M701 240 L733 242 L765 243 L785 253 L802 271 L819 291 M623 270 L650 263 L669 268 L692 269 L713 260 M1138 149 L1126 174 L1128 211 L1131 236 L1125 266 L1104 287 L1089 303 M885 344 L887 311 L873 293 L848 272 L841 253 L844 223 M1031 357 L1018 379 L999 390 L973 408 L938 416 M1211 299 L1224 318 L1239 339 L1270 359 L1288 373 L1318 371 M1237 161 L1261 172 L1290 185 L1302 204 M1131 324 L1115 348 L1102 375 L1102 405 L1122 432 M957 361 L943 334 L925 310 L903 307 L883 306 L854 310 L825 313 M617 175 L634 148 L635 116 L626 88 M1527 391 L1558 388 L1581 373 L1618 369 M1938 305 L1901 310 L1882 315 L1856 316 L1832 340 L1817 354 L1797 361 M754 150 L735 129 L728 96 L710 72 L706 53 L706 24 M1693 149 L1708 129 L1735 123 L1746 94 L1750 70 M1512 253 L1530 281 L1530 306 L1542 338 L1543 359 L1531 383 M1182 167 L1190 139 L1190 115 L1176 95 L1174 71 L1171 46 L1162 25 M827 446 L816 424 L781 415 L755 405 L729 380 M588 183 L569 203 L533 207 L502 220 M1233 352 L1221 381 L1194 398 L1160 401 L1141 420 L1116 429 L1080 427 M663 385 L676 415 L686 438 L705 466 L712 500 L721 532 M1292 400 L1282 377 L1258 355 L1244 331 L1242 311 M1703 446 L1705 476 L1723 489 L1754 498 L1780 515 M711 441 L723 416 L736 393 L733 364 M1981 127 L1963 122 L1929 115 L1904 112 L1887 91 L1870 71" stroke="#fdfcfa" stroke-width="1.300" fill="none" stroke-linejoin="round" opacity="0.900"/>
<path d="M590 126 L606 141 L635 161 L664 174 L690 176 L709 194 M590 126 L560 135 L530 150 L500 140 L470 128 L445 130 M529 231 L540 252 L529 290 L506 318 L492 360 L500 400 L470 440 L455 494 M703 196 L680 232 L691 254 L670 290 L657 318 L640 345 L646 375 M565 422 L565 396 L594 396 L618 384 L647 375 L673 364 L725 348 L734 370 L777 378 L780 393 L818 393 L847 410 L902 393 L931 399 L940 419 M761 165 L752 184 L735 196 M440 330 L470 322 L490 345 L510 400 L520 430 L500 470 L490 494 M837 311 L800 340 L780 378 M988 362 L1040 310 L1100 295 L1130 330 L1143 386 M1143 386 L1200 405 L1260 440 M930 105 L922 190 L940 250 L985 290 M1060 110 L1100 124 L1160 118 L1230 150 L1300 140 L1360 108 M1230 150 L1250 200 L1230 260 M1300 140 L1340 200 L1360 260 M1420 105 L1440 160 L1480 200 L1500 240 M1540 105 L1560 160 L1600 200 M1600 105 L1620 140 L1662 170 M1580 350 L1570 375 L1566 392 L1620 385 L1668 372 L1700 400 L1720 460 M1500 425 L1530 430 L1566 392 M1540 494 L1560 450 L1530 430 M1560 450 L1600 440 L1640 450 L1690 440 M1720 180 L1760 230 L1796 263 L1810 320 L1830 360 M1796 263 L1860 250 L1920 280 L1960 290 M1760 140 L1820 170 L1880 160 L1940 200 L2000 190 M1820 105 L1840 170 L1850 240 L1880 300 M1900 105 L1920 160 L1960 200 L2010 210 M1278 460 L1340 440 L1400 420 L1420 416 M1278 460 L1230 440 L1180 460 L1140 494 M1143 386 L1100 430 L1080 494 M1660 250 L1700 270 L1740 300 L1764 340 M1590 230 L1610 260 L1600 300 L1580 350 M1460 262 L1480 250 L1520 225 L1560 215" stroke="#f0cf75" stroke-width="1.900" fill="none" stroke-linejoin="round"/>
<path d="M439 228 L470 224 L505 236 L521 232 L540 217 L558 208 L577 206 L606 204 L653 204 L684 194 L713 196 L742 193 L780 196 L800 206 L850 208 L880 206 L930 204 L980 200 L1030 213 L1090 216 L1140 258 L1190 280 L1240 298 L1300 294 L1340 286 M583 126 L571 161 L558 194 L540 217 L521 232 L515 250 L500 275 L470 330 L455 380 L445 440 L439 470 M761 105 L763 140 L761 165 M1145 105 L1120 160 L1100 200 L1070 260 L1040 300 L1032 314 L983 381 L940 419 L896 457 L876 494 M940 419 L983 439 L1032 451 L1060 450 M1272 494 L1290 450 L1320 400 L1350 350 L1380 310 L1410 285 L1460 252 L1510 236 L1560 214 L1600 198 L1662 170 L1700 142 L1730 120 L1760 105 M1140 258 L1180 320 L1220 370 L1260 420 L1278 460 M1700 142 L1740 170 L1780 210 L1840 230 L1900 262 L1940 294 L1952 302 M2034 105 L2018 150 L1993 205 L1963 260 L1940 294 L1893 340 L1858 385 L1830 425 M1662 170 L1652 215 L1654 260 L1660 310 L1668 372 L1684 410 L1690 450 L1705 494 M1700 142 L1720 190 L1760 250 L1790 300 L1810 340 M1740 105 L1790 160 L1830 200 L1900 262 M1340 286 L1370 320 L1400 360 L1420 416 L1440 430 L1490 432 L1520 445 L1570 480 L1590 494 M1060 450 L1110 420 L1143 386 L1200 350 L1250 330 L1300 320 L1340 286 M1340 286 L1350 240 L1360 180 L1370 105 M1278 460 L1330 470 L1380 494 M1662 170 L1640 200 L1620 240 L1600 290 L1580 350" stroke="#f09a58" stroke-width="2.100" fill="none" stroke-linejoin="round"/>
<path fill="#74cdf0" d="M2069 105 L2044 105 L2036 135 L2028 165 L2014 198 L1992 245 L1972 282 L1955 303 L1930 318 L1905 333 L1888 356 L1868 385 L1850 410 L1828 435 L1817 446 L1815 438 L1824 414 L1836 388 L1831 370 L1812 362 L1798 352 L1780 358 L1764 356 L1748 346 L1730 338 L1716 322 L1704 308 L1692 292 L1682 276 L1670 262 L1662 244 L1659 226 L1656 212 L1665 198 L1675 190 L1684 178 L1690 170 L1682 168 L1670 180 L1655 192 L1648 208 L1650 232 L1656 256 L1664 282 L1676 304 L1690 326 L1698 348 L1703 372 L1699 396 L1705 416 L1716 436 L1730 456 L1742 474 L1748 494 L2069 494 Z"/>
<path d="M1688 172 Q1720 150 1745 138 T1790 105" stroke="#74cdf0" stroke-width="5" fill="none"/>
<path d="M2030 160 L2018 195 L1995 240 L1972 278 M1950 305 L1905 338 L1880 370 L1850 405" stroke="#f1ede5" stroke-width="2.500" fill="none" opacity="0.900"/>
<path fill="#74cdf0" d="M1520.7 242.6 L1509.1 259.4 L1491.0 267.1 L1483.3 277.5 L1470.4 280.0 L1465.2 295.5 L1454.9 303.3 L1449.7 313.6 L1440.7 321.3 L1435.5 334.3 L1426.5 344.6 L1418.7 357.5 L1408.4 365.2 L1395.5 367.8 L1405.8 373.0 L1411.0 380.7 L1423.9 375.6 L1435.5 391.0 L1440.7 406.5 L1444.5 422.0 L1438.1 432.4 L1425.2 442.7 L1422.6 458.2 L1416.1 473.7 L1408.4 495.6 L1454.9 495.6 L1457.5 471.1 L1462.6 453.0 L1466.5 442.7 L1470.4 458.2 L1467.8 478.8 L1469.1 495.6 L1524.6 495.6 L1519.4 481.4 L1509.1 473.7 L1514.3 460.8 L1501.3 458.2 L1503.9 447.8 L1491.0 447.8 L1483.3 433.6 L1501.3 427.2 L1503.9 411.7 L1493.6 396.2 L1483.3 380.7 L1476.8 367.8 L1483.3 352.3 L1491.0 339.4 L1503.9 329.1 L1514.3 313.6 L1524.6 303.3 L1545.2 303.3 L1560.7 298.1 L1545.2 295.5 L1537.5 290.4 L1547.8 277.5 L1560.7 269.7 L1576.2 265.8 L1560.7 260.7 L1571.0 243.9 L1586.5 233.6 L1576.2 231.0 L1560.7 238.7 L1545.2 241.3 L1534.9 233.6 Z"/>
<path d="M1483 365 L1504 360 L1524 365 L1545 352 L1562 344 M1560 298 L1578 290 M1576 265 L1590 272 M1586 233 L1600 225 M1512 250 L1500 240 M1470 282 L1455 280 M1452 305 L1438 300 M1440 322 L1428 316 M1500 428 L1520 424 L1538 432 M1512 462 L1535 458 L1550 470 M1396 368 L1380 372 M1420 445 L1408 440 M1470 330 L1485 322 M1455 350 L1470 345" stroke="#74cdf0" stroke-width="3.500" fill="none" stroke-linecap="round" stroke-linejoin="round"/>
<path fill="#74cdf0" d="M1437 332 L1422 327 L1406 330 L1393 337 L1387 346 L1395 353 L1410 350 L1420 358 L1432 364 Z M1442 404 L1428 396 L1414 386 L1410 390 L1422 400 L1436 412 Z M1440 440 L1424 436 L1412 428 L1410 433 L1422 442 L1436 448Z"/>
<path d="M1278 470 Q1290 482 1300 494" stroke="#74cdf0" stroke-width="5" fill="none"/>
<path d="M1420 440 L1436 452 L1428 470 L1440 494" stroke="#74cdf0" stroke-width="4" fill="none"/>
<path d="M610 150 l8 14 l-6 12 M760 240 l10 8 l14 -6 l6 10 M660 330 l10 12 l12 -4 M690 180 l12 8 l10 -4 M1010 185 q20 25 40 18 t40 10 M790 380 l4 14" stroke="#8fd3ee" stroke-width="1.800" fill="none" stroke-linecap="round" stroke-linejoin="round"/>
<path d="M439 184 L1625 184 M651 184 L651 322 M1603 300 L1640 494 M1603 300 L1612 210 Q1622 168 1665 160 Q1702 165 1706 190" stroke="#8d949e" stroke-width="1.200" stroke-dasharray="6 2 1.500 2" fill="none" opacity="0.800"/>
<path d="M651 322 L660 355 L690 352 L700 330 L740 318 L770 290 L800 275 L830 250 L860 238 L900 225 L930 200 L960 205 L1000 225 L1040 235 L1075 230 L1100 240 M940 240 L990 262 L1040 330 L1075 345 L1080 370 M995 494 L1030 450 L1060 400 L1080 370 L1110 330 L1105 270" stroke="#9da1a8" stroke-width="1" stroke-dasharray="4 2" fill="none" opacity="0.850"/>
<path d="M792 205 L820 212 L840 206 L860 196 L900 200 L930 190 L960 186 L1000 196 L1030 213 L1060 208 L1085 212 L1100 230 L1085 270 L1085 310 L1125 312 L1150 290 L1180 270 L1240 300 L1330 296" stroke="#f79a2a" stroke-width="3.5" fill="none" opacity="0.85" stroke-linejoin="round" stroke-linecap="round"/>
<path d="M1175 230 L1200 205 L1248 208 L1290 228 L1330 224 L1340 200 L1310 205 L1300 232 L1340 262 L1354 300 L1290 300 L1250 290 L1218 296 L1190 270 L1175 230" stroke="#6a3cf5" stroke-width="3" fill="none" opacity="0.8" stroke-linejoin="round" stroke-linecap="round"/>
<path d="M1168 330 L1185 366 L1215 386 L1262 380 L1262 420 L1290 330 L1306 282 L1336 282 L1366 340 L1300 290 L1230 280 L1180 300 L1168 330" stroke="#dd6fa3" stroke-width="3" fill="none" opacity="0.8" stroke-linejoin="round" stroke-linecap="round"/>
<path d="M1264 360 L1300 362 L1334 380 L1366 400 L1366 416 L1419 440 L1400 380 L1350 350 L1300 345" stroke="#3fa51c" stroke-width="3.5" fill="none" opacity="0.8" stroke-linejoin="round" stroke-linecap="round"/>
<path d="M1281 425 L1303 438 L1330 440 L1358 458 L1386 494 M1358 458 L1300 494" stroke="#efe02a" stroke-width="3" fill="none" opacity="0.85" stroke-linejoin="round" stroke-linecap="round"/>
<path d="M1375 260 L1398 232 L1428 270 L1442 276 L1458 244 L1452 200 L1462 188 L1498 232 L1470 236 L1440 250 L1400 260" stroke="#f7734a" stroke-width="3" fill="none" opacity="0.8" stroke-linejoin="round" stroke-linecap="round"/>
<path d="M1380 300 L1420 292 L1460 262 L1500 240 L1523 240 L1530 190 L1590 190 L1594 248 L1580 268 L1580 348" stroke="#58a8f0" stroke-width="3.5" fill="none" opacity="0.85" stroke-linejoin="round" stroke-linecap="round"/>
<path d="M1380 265 L1416 265 M1382 331 L1421 331 M1416 262 L1416 268 M1421 328 L1421 334" stroke="#ee22aa" stroke-width="2.2" fill="none" opacity="1" stroke-linejoin="round" stroke-linecap="round"/>
<text x="436" y="117" font-family="Liberation Sans, sans-serif" font-size="16" font-weight="normal" fill="#3c3c3c" stroke="#ffffff" stroke-width="3" stroke-opacity="0.850" paint-order="stroke" >'aynesburg</text>
<text x="551" y="116" font-family="Liberation Sans, sans-serif" font-size="15" font-weight="normal" fill="#3c3c3c" stroke="#ffffff" stroke-width="3" stroke-opacity="0.850" paint-order="stroke" textLength="78">Uniontown</text>
<circle cx="589" cy="125" r="2.5" fill="#111"/>
<text x="496" y="205" font-family="Liberation Sans, sans-serif" font-size="17.5" font-weight="normal" fill="#3c3c3c" stroke="#ffffff" stroke-width="3" stroke-opacity="0.850" paint-order="stroke" >organtown</text>
<circle cx="528" cy="213" r="2.5" fill="#111"/>
<text x="443" y="255" font-family="Liberation Sans, sans-serif" font-size="17" font-weight="normal" fill="#3c3c3c" stroke="#ffffff" stroke-width="3" stroke-opacity="0.850" paint-order="stroke" >F</text>
<text x="496" y="255" font-family="Liberation Sans, sans-serif" font-size="17" font-weight="normal" fill="#3c3c3c" stroke="#ffffff" stroke-width="3" stroke-opacity="0.850" paint-order="stroke" >nt</text>
<text x="439" y="324" font-family="Liberation Sans, sans-serif" font-size="16" font-weight="normal" fill="#3c3c3c" stroke="#ffffff" stroke-width="3" stroke-opacity="0.850" paint-order="stroke" >burg</text>
<text x="804" y="302" font-family="Liberation Sans, sans-serif" font-size="17.5" font-weight="normal" fill="#3c3c3c" stroke="#ffffff" stroke-width="3" stroke-opacity="0.850" paint-order="stroke" >Romney</text>
<circle cx="836" cy="311" r="2.5" fill="#111"/>
<text x="946" y="355" font-family="Liberation Sans, sans-serif" font-size="17" font-weight="normal" fill="#3c3c3c" stroke="#ffffff" stroke-width="3" stroke-opacity="0.850" paint-order="stroke" textLength="84">Winchester</text>
<circle cx="988" cy="362" r="2.5" fill="#111"/>
<text x="1107" y="378" font-family="Liberation Sans, sans-serif" font-size="16.5" font-weight="normal" fill="#3c3c3c" stroke="#ffffff" stroke-width="3" stroke-opacity="0.850" paint-order="stroke" textLength="72">Leesburg</text>
<circle cx="1143" cy="386" r="2.5" fill="#111"/>
<text x="1221" y="486" font-family="Liberation Sans, sans-serif" font-size="21" font-weight="normal" fill="#3c3c3c" stroke="#ffffff" stroke-width="3" stroke-opacity="0.850" paint-order="stroke" textLength="116">Washington</text>
<circle cx="1278" cy="459" r="4" fill="#fff" stroke="#111" stroke-width="1.300"/><circle cx="1278" cy="459" r="1.800" fill="#111"/>
<text x="1100" y="496" font-family="Liberation Sans, sans-serif" font-size="15" font-weight="normal" fill="#3c3c3c" stroke="#ffffff" stroke-width="3" stroke-opacity="0.850" paint-order="stroke" textLength="80">Linton Hall</text>
<text x="533" y="441" font-family="Liberation Sans, sans-serif" font-size="17" font-weight="normal" fill="#3c3c3c" stroke="#ffffff" stroke-width="3" stroke-opacity="0.850" paint-order="stroke" >Elkins</text>
<text x="1055" y="203" font-family="Liberation Sans, sans-serif" font-size="19" font-weight="normal" fill="#3c3c3c" stroke="#ffffff" stroke-width="3" stroke-opacity="0.850" paint-order="stroke" >Hag</text>
<text x="1113" y="203" font-family="Liberation Sans, sans-serif" font-size="19" font-weight="normal" fill="#3c3c3c" stroke="#ffffff" stroke-width="3" stroke-opacity="0.850" paint-order="stroke" >town</text>
<text x="789" y="199" font-family="Liberation Sans, sans-serif" font-size="15.5" font-weight="normal" fill="#3c3c3c" stroke="#ffffff" stroke-width="3" stroke-opacity="0.850" paint-order="stroke" textLength="93">Cumberland</text>
<text x="1582" y="167" font-family="Liberation Sans, sans-serif" font-size="19" font-weight="normal" fill="#3c3c3c" stroke="#ffffff" stroke-width="3" stroke-opacity="0.850" paint-order="stroke" textLength="100">Wilmington</text>
<circle cx="1662" cy="176" r="3" fill="#111"/>
<text x="1627" y="114" font-family="Liberation Sans, sans-serif" font-size="21" font-weight="normal" fill="#3c3c3c" stroke="#ffffff" stroke-width="3" stroke-opacity="0.850" paint-order="stroke" textLength="125">Philadelphia</text>
<circle cx="1760" cy="107" r="2.5" fill="#111"/>
<text x="1762" y="254" font-family="Liberation Sans, sans-serif" font-size="19" font-weight="normal" fill="#3c3c3c" stroke="#ffffff" stroke-width="3" stroke-opacity="0.850" paint-order="stroke" textLength="70">Vineland</text>
<circle cx="1797" cy="263" r="2.5" fill="#111"/>
<text x="1644" y="363" font-family="Liberation Sans, sans-serif" font-size="19" font-weight="normal" fill="#3c3c3c" stroke="#ffffff" stroke-width="3" stroke-opacity="0.850" paint-order="stroke" textLength="48">Dover</text>
<circle cx="1668" cy="372" r="2.5" fill="#111"/>
<text x="1621" y="431" font-family="Liberation Sans, sans-serif" font-size="16" font-weight="bold" fill="#222" stroke="#ffffff" stroke-width="3" stroke-opacity="0.850" paint-order="stroke" textLength="106">DELAWARE</text>
<text x="1954" y="321" font-family="Liberation Sans, sans-serif" font-size="18" font-weight="normal" fill="#3c3c3c" stroke="#ffffff" stroke-width="3" stroke-opacity="0.850" paint-order="stroke" textLength="97">Atlantic City</text>
<circle cx="1951" cy="303" r="2.5" fill="#111"/>
<text x="1958" y="161" font-family="Liberation Sans, sans-serif" font-size="16" font-weight="normal" fill="#3c3c3c" stroke="#ffffff" stroke-width="3" stroke-opacity="0.850" paint-order="stroke" textLength="60">Stafford</text>
<text x="1954" y="180" font-family="Liberation Sans, sans-serif" font-size="16" font-weight="normal" fill="#3c3c3c" stroke="#ffffff" stroke-width="3" stroke-opacity="0.850" paint-order="stroke" textLength="70">Township</text>
<circle cx="1988" cy="188" r="2.5" fill="#111"/>
<text x="1978" y="118" font-family="Liberation Sans, sans-serif" font-size="16" font-weight="normal" fill="#3c3c3c" stroke="#ffffff" stroke-width="3" stroke-opacity="0.850" paint-order="stroke" textLength="70">Township</text>
<circle cx="2014" cy="126" r="2.5" fill="#111"/>
<text x="1744" y="491" font-family="Liberation Sans, sans-serif" font-size="16" font-weight="normal" fill="#3c3c3c" stroke="#ffffff" stroke-width="3" stroke-opacity="0.850" paint-order="stroke" textLength="46">Lewes</text>
<text x="1228" y="417" font-family="Liberation Sans, sans-serif" font-size="18" font-weight="normal" fill="#3c3c3c" stroke="#ffffff" stroke-width="3" stroke-opacity="0.850" paint-order="stroke" >Silv</text>
<text x="1308" y="417" font-family="Liberation Sans, sans-serif" font-size="18" font-weight="normal" fill="#3c3c3c" stroke="#ffffff" stroke-width="3" stroke-opacity="0.850" paint-order="stroke" >ng</text>
<text x="1376" y="422" font-family="Liberation Sans, sans-serif" font-size="18" font-weight="normal" fill="#3c3c3c" stroke="#ffffff" stroke-width="3" stroke-opacity="0.850" paint-order="stroke" >Ann</text>
<text x="1430" y="422" font-family="Liberation Sans, sans-serif" font-size="18" font-weight="normal" fill="#3c3c3c" stroke="#ffffff" stroke-width="3" stroke-opacity="0.850" paint-order="stroke" >olis</text>
<g transform="translate(638,205)"><path d="M-13 -11 Q0 -6 13 -11 L13 2 Q12 10 0 14 Q-12 10 -13 2Z" fill="#4a5fc4"/><path d="M-13 -11 Q0 -15 13 -11 L13 -5 L-13 -5Z" fill="#e0523a"/><text x="0" y="8" text-anchor="middle" font-family="Liberation Sans" font-weight="bold" font-size="13" fill="#fff">68</text></g>
<g transform="translate(965,155)"><path d="M-13 -11 Q0 -6 13 -11 L13 2 Q12 10 0 14 Q-12 10 -13 2Z" fill="#4a5fc4"/><path d="M-13 -11 Q0 -15 13 -11 L13 -5 L-13 -5Z" fill="#e0523a"/><text x="0" y="8" text-anchor="middle" font-family="Liberation Sans" font-weight="bold" font-size="13" fill="#fff">70</text></g>
<g transform="translate(1029,213)"><path d="M-13 -11 Q0 -6 13 -11 L13 2 Q12 10 0 14 Q-12 10 -13 2Z" fill="#4a5fc4"/><path d="M-13 -11 Q0 -15 13 -11 L13 -5 L-13 -5Z" fill="#e0523a"/><text x="0" y="8" text-anchor="middle" font-family="Liberation Sans" font-weight="bold" font-size="13" fill="#fff">70</text></g>
<g transform="translate(1508,235)"><path d="M-13 -11 Q0 -6 13 -11 L13 2 Q12 10 0 14 Q-12 10 -13 2Z" fill="#4a5fc4"/><path d="M-13 -11 Q0 -15 13 -11 L13 -5 L-13 -5Z" fill="#e0523a"/><text x="0" y="8" text-anchor="middle" font-family="Liberation Sans" font-weight="bold" font-size="13" fill="#fff">95</text></g>
<g transform="translate(625,377)"><path d="M-11 -13 Q-6 -10 0 -13 Q6 -10 11 -13 Q15 -8 12 -2 Q15 8 8 12 Q3 12 0 14 Q-3 12 -8 12 Q-15 8 -12 -2 Q-15 -8 -11 -13Z" fill="#fff" stroke="#222" stroke-width="1.800"/><text x="0" y="5" text-anchor="middle" font-family="Liberation Sans" font-weight="bold" font-size="12" fill="#222">48</text></g>
<g transform="translate(1890,339)"><path d="M-11 -13 Q-6 -10 0 -13 Q6 -10 11 -13 Q15 -8 12 -2 Q15 8 8 12 Q3 12 0 14 Q-3 12 -8 12 Q-15 8 -12 -2 Q-15 -8 -11 -13Z" fill="#fff" stroke="#222" stroke-width="1.800"/><text x="0" y="5" text-anchor="middle" font-family="Liberation Sans" font-weight="bold" font-size="12" fill="#222">9</text></g>
<g transform="translate(1588.0,172.0)"><path d="M0 40 C-2.500 31 -7 24 -11.500 16 C-15 10 -17 5.500 -17 0 A17 17 0 1 1 17 0 C17 5.500 15 10 11.500 16 C7 24 2.500 31 0 40Z" fill="#000" opacity="0.250" transform="translate(1.500,2)" filter="url(#ps)"/><path d="M0 40 C-2.500 31 -7 24 -11.500 16 C-15 10 -17 5.500 -17 0 A17 17 0 1 1 17 0 C17 5.500 15 10 11.500 16 C7 24 2.500 31 0 40Z" fill="url(#gb)" stroke="#0482d8" stroke-width="0.8"/></g>
<g transform="translate(1449.0,190.0)"><path d="M0 40 C-2.500 31 -7 24 -11.500 16 C-15 10 -17 5.500 -17 0 A17 17 0 1 1 17 0 C17 5.500 15 10 11.500 16 C7 24 2.500 31 0 40Z" fill="#000" opacity="0.250" transform="translate(1.500,2)" filter="url(#ps)"/><path d="M0 40 C-2.500 31 -7 24 -11.500 16 C-15 10 -17 5.500 -17 0 A17 17 0 1 1 17 0 C17 5.500 15 10 11.500 16 C7 24 2.500 31 0 40Z" fill="url(#gb)" stroke="#0482d8" stroke-width="0.8"/></g>
<g transform="translate(1232.0,226.0)"><path d="M0 40 C-2.500 31 -7 24 -11.500 16 C-15 10 -17 5.500 -17 0 A17 17 0 1 1 17 0 C17 5.500 15 10 11.500 16 C7 24 2.500 31 0 40Z" fill="#000" opacity="0.250" transform="translate(1.500,2)" filter="url(#ps)"/><path d="M0 40 C-2.500 31 -7 24 -11.500 16 C-15 10 -17 5.500 -17 0 A17 17 0 1 1 17 0 C17 5.500 15 10 11.500 16 C7 24 2.500 31 0 40Z" fill="url(#gp)" stroke="#4a14d6" stroke-width="0.8"/></g>
<g transform="translate(1238.0,226.0)"><path d="M0 40 C-2.500 31 -7 24 -11.500 16 C-15 10 -17 5.500 -17 0 A17 17 0 1 1 17 0 C17 5.500 15 10 11.500 16 C7 24 2.500 31 0 40Z" fill="#000" opacity="0.250" transform="translate(1.500,2)" filter="url(#ps)"/><path d="M0 40 C-2.500 31 -7 24 -11.500 16 C-15 10 -17 5.500 -17 0 A17 17 0 1 1 17 0 C17 5.500 15 10 11.500 16 C7 24 2.500 31 0 40Z" fill="url(#gk)" stroke="#bd3f77" stroke-width="0.8"/></g>
<g transform="translate(1182.0,235.0)"><path d="M0 40 C-2.500 31 -7 24 -11.500 16 C-15 10 -17 5.500 -17 0 A17 17 0 1 1 17 0 C17 5.500 15 10 11.500 16 C7 24 2.500 31 0 40Z" fill="#000" opacity="0.250" transform="translate(1.500,2)" filter="url(#ps)"/><path d="M0 40 C-2.500 31 -7 24 -11.500 16 C-15 10 -17 5.500 -17 0 A17 17 0 1 1 17 0 C17 5.500 15 10 11.500 16 C7 24 2.500 31 0 40Z" fill="url(#gp)" stroke="#4a14d6" stroke-width="0.8"/></g>
<g transform="translate(1098.0,236.0)"><path d="M0 40 C-2.500 31 -7 24 -11.500 16 C-15 10 -17 5.500 -17 0 A17 17 0 1 1 17 0 C17 5.500 15 10 11.500 16 C7 24 2.500 31 0 40Z" fill="#000" opacity="0.250" transform="translate(1.500,2)" filter="url(#ps)"/><path d="M0 40 C-2.500 31 -7 24 -11.500 16 C-15 10 -17 5.500 -17 0 A17 17 0 1 1 17 0 C17 5.500 15 10 11.500 16 C7 24 2.500 31 0 40Z" fill="url(#go)" stroke="#e08600" stroke-width="0.8"/></g>
<g transform="translate(1292.0,240.0)"><path d="M0 40 C-2.500 31 -7 24 -11.500 16 C-15 10 -17 5.500 -17 0 A17 17 0 1 1 17 0 C17 5.500 15 10 11.500 16 C7 24 2.500 31 0 40Z" fill="#000" opacity="0.250" transform="translate(1.500,2)" filter="url(#ps)"/><path d="M0 40 C-2.500 31 -7 24 -11.500 16 C-15 10 -17 5.500 -17 0 A17 17 0 1 1 17 0 C17 5.500 15 10 11.500 16 C7 24 2.500 31 0 40Z" fill="url(#gk)" stroke="#bd3f77" stroke-width="0.8"/></g>
<g transform="translate(1190.0,248.0)"><path d="M0 40 C-2.500 31 -7 24 -11.500 16 C-15 10 -17 5.500 -17 0 A17 17 0 1 1 17 0 C17 5.500 15 10 11.500 16 C7 24 2.500 31 0 40Z" fill="#000" opacity="0.250" transform="translate(1.500,2)" filter="url(#ps)"/><path d="M0 40 C-2.500 31 -7 24 -11.500 16 C-15 10 -17 5.500 -17 0 A17 17 0 1 1 17 0 C17 5.500 15 10 11.500 16 C7 24 2.500 31 0 40Z" fill="url(#go)" stroke="#e08600" stroke-width="0.8"/></g>
<g transform="translate(1162.0,256.0)"><path d="M0 40 C-2.500 31 -7 24 -11.500 16 C-15 10 -17 5.500 -17 0 A17 17 0 1 1 17 0 C17 5.500 15 10 11.500 16 C7 24 2.500 31 0 40Z" fill="#000" opacity="0.250" transform="translate(1.500,2)" filter="url(#ps)"/><path d="M0 40 C-2.500 31 -7 24 -11.500 16 C-15 10 -17 5.500 -17 0 A17 17 0 1 1 17 0 C17 5.500 15 10 11.500 16 C7 24 2.500 31 0 40Z" fill="url(#go)" stroke="#e08600" stroke-width="0.8"/></g>
<g transform="translate(1384.0,265.0)"><path d="M0 40 C-2.500 31 -7 24 -11.500 16 C-15 10 -17 5.500 -17 0 A17 17 0 1 1 17 0 C17 5.500 15 10 11.500 16 C7 24 2.500 31 0 40Z" fill="#000" opacity="0.250" transform="translate(1.500,2)" filter="url(#ps)"/><path d="M0 40 C-2.500 31 -7 24 -11.500 16 C-15 10 -17 5.500 -17 0 A17 17 0 1 1 17 0 C17 5.500 15 10 11.500 16 C7 24 2.500 31 0 40Z" fill="url(#gr)" stroke="#dd3e0b" stroke-width="0.8"/></g>
<g transform="translate(1388.0,268.0)"><path d="M0 40 C-2.500 31 -7 24 -11.500 16 C-15 10 -17 5.500 -17 0 A17 17 0 1 1 17 0 C17 5.500 15 10 11.500 16 C7 24 2.500 31 0 40Z" fill="#000" opacity="0.250" transform="translate(1.500,2)" filter="url(#ps)"/><path d="M0 40 C-2.500 31 -7 24 -11.500 16 C-15 10 -17 5.500 -17 0 A17 17 0 1 1 17 0 C17 5.500 15 10 11.500 16 C7 24 2.500 31 0 40Z" fill="url(#go)" stroke="#e08600" stroke-width="0.8"/></g>
<g transform="translate(1378.0,271.0)"><path d="M0 40 C-2.500 31 -7 24 -11.500 16 C-15 10 -17 5.500 -17 0 A17 17 0 1 1 17 0 C17 5.500 15 10 11.500 16 C7 24 2.500 31 0 40Z" fill="#000" opacity="0.250" transform="translate(1.500,2)" filter="url(#ps)"/><path d="M0 40 C-2.500 31 -7 24 -11.500 16 C-15 10 -17 5.500 -17 0 A17 17 0 1 1 17 0 C17 5.500 15 10 11.500 16 C7 24 2.500 31 0 40Z" fill="url(#gb)" stroke="#0482d8" stroke-width="0.8"/></g>
<g transform="translate(1410.0,272.0)"><path d="M0 40 C-2.500 31 -7 24 -11.500 16 C-15 10 -17 5.500 -17 0 A17 17 0 1 1 17 0 C17 5.500 15 10 11.500 16 C7 24 2.500 31 0 40Z" fill="#000" opacity="0.250" transform="translate(1.500,2)" filter="url(#ps)"/><path d="M0 40 C-2.500 31 -7 24 -11.500 16 C-15 10 -17 5.500 -17 0 A17 17 0 1 1 17 0 C17 5.500 15 10 11.500 16 C7 24 2.500 31 0 40Z" fill="url(#gr)" stroke="#dd3e0b" stroke-width="0.8"/></g>
<g transform="translate(1380.0,300.0)"><path d="M0 40 C-2.500 31 -7 24 -11.500 16 C-15 10 -17 5.500 -17 0 A17 17 0 1 1 17 0 C17 5.500 15 10 11.500 16 C7 24 2.500 31 0 40Z" fill="#000" opacity="0.250" transform="translate(1.500,2)" filter="url(#ps)"/><path d="M0 40 C-2.500 31 -7 24 -11.500 16 C-15 10 -17 5.500 -17 0 A17 17 0 1 1 17 0 C17 5.500 15 10 11.500 16 C7 24 2.500 31 0 40Z" fill="url(#gg)" stroke="#1f7d00" stroke-width="0.8"/></g>
<g transform="translate(1268.0,306.0)"><path d="M0 40 C-2.500 31 -7 24 -11.500 16 C-15 10 -17 5.500 -17 0 A17 17 0 1 1 17 0 C17 5.500 15 10 11.500 16 C7 24 2.500 31 0 40Z" fill="#000" opacity="0.250" transform="translate(1.500,2)" filter="url(#ps)"/><path d="M0 40 C-2.500 31 -7 24 -11.500 16 C-15 10 -17 5.500 -17 0 A17 17 0 1 1 17 0 C17 5.500 15 10 11.500 16 C7 24 2.500 31 0 40Z" fill="url(#gg)" stroke="#1f7d00" stroke-width="0.8"/></g>
<g transform="translate(1389.0,310.0)"><path d="M0 40 C-2.500 31 -7 24 -11.500 16 C-15 10 -17 5.500 -17 0 A17 17 0 1 1 17 0 C17 5.500 15 10 11.500 16 C7 24 2.500 31 0 40Z" fill="#000" opacity="0.250" transform="translate(1.500,2)" filter="url(#ps)"/><path d="M0 40 C-2.500 31 -7 24 -11.500 16 C-15 10 -17 5.500 -17 0 A17 17 0 1 1 17 0 C17 5.500 15 10 11.500 16 C7 24 2.500 31 0 40Z" fill="url(#gg)" stroke="#1f7d00" stroke-width="0.8"/></g>
<g transform="translate(1240.0,338.0)"><path d="M0 40 C-2.500 31 -7 24 -11.500 16 C-15 10 -17 5.500 -17 0 A17 17 0 1 1 17 0 C17 5.500 15 10 11.500 16 C7 24 2.500 31 0 40Z" fill="#000" opacity="0.250" transform="translate(1.500,2)" filter="url(#ps)"/><path d="M0 40 C-2.500 31 -7 24 -11.500 16 C-15 10 -17 5.500 -17 0 A17 17 0 1 1 17 0 C17 5.500 15 10 11.500 16 C7 24 2.500 31 0 40Z" fill="url(#gk)" stroke="#bd3f77" stroke-width="0.8"/></g>
<g transform="translate(850.0,150.0)"><path d="M0 40 C-2.500 31 -7 24 -11.500 16 C-15 10 -17 5.500 -17 0 A17 17 0 1 1 17 0 C17 5.500 15 10 11.500 16 C7 24 2.500 31 0 40Z" fill="#000" opacity="0.250" transform="translate(1.500,2)" filter="url(#ps)"/><path d="M0 40 C-2.500 31 -7 24 -11.500 16 C-15 10 -17 5.500 -17 0 A17 17 0 1 1 17 0 C17 5.500 15 10 11.500 16 C7 24 2.500 31 0 40Z" fill="url(#go)" stroke="#e08600" stroke-width="0.8"/><text x="0" y="5" text-anchor="middle" font-family="Liberation Sans" font-weight="bold" font-size="19" fill="#fff" textLength='20' lengthAdjust='spacingAndGlyphs'>30</text><text x="0" y="19" text-anchor="middle" font-family="Liberation Sans" font-weight="bold" font-size="12" fill="#fff">W</text></g>
<g transform="translate(1461.0,150.0)"><path d="M0 40 C-2.500 31 -7 24 -11.500 16 C-15 10 -17 5.500 -17 0 A17 17 0 1 1 17 0 C17 5.500 15 10 11.500 16 C7 24 2.500 31 0 40Z" fill="#000" opacity="0.250" transform="translate(1.500,2)" filter="url(#ps)"/><path d="M0 40 C-2.500 31 -7 24 -11.500 16 C-15 10 -17 5.500 -17 0 A17 17 0 1 1 17 0 C17 5.500 15 10 11.500 16 C7 24 2.500 31 0 40Z" fill="url(#gr)" stroke="#dd3e0b" stroke-width="0.8"/><text x="0" y="5" text-anchor="middle" font-family="Liberation Sans" font-weight="bold" font-size="19" fill="#fff" textLength='20' lengthAdjust='spacingAndGlyphs'>13</text></g>
<g transform="translate(1529.0,152.0)"><path d="M0 40 C-2.500 31 -7 24 -11.500 16 C-15 10 -17 5.500 -17 0 A17 17 0 1 1 17 0 C17 5.500 15 10 11.500 16 C7 24 2.500 31 0 40Z" fill="#000" opacity="0.250" transform="translate(1.500,2)" filter="url(#ps)"/><path d="M0 40 C-2.500 31 -7 24 -11.500 16 C-15 10 -17 5.500 -17 0 A17 17 0 1 1 17 0 C17 5.500 15 10 11.500 16 C7 24 2.500 31 0 40Z" fill="url(#gb)" stroke="#0482d8" stroke-width="0.8"/><text x="0" y="5" text-anchor="middle" font-family="Liberation Sans" font-weight="bold" font-size="19" fill="#fff" textLength='20' lengthAdjust='spacingAndGlyphs'>16</text><text x="0" y="19" text-anchor="middle" font-family="Liberation Sans" font-weight="bold" font-size="12" fill="#fff">W</text></g>
<g transform="translate(931.0,153.0)"><path d="M0 40 C-2.500 31 -7 24 -11.500 16 C-15 10 -17 5.500 -17 0 A17 17 0 1 1 17 0 C17 5.500 15 10 11.500 16 C7 24 2.500 31 0 40Z" fill="#000" opacity="0.250" transform="translate(1.500,2)" filter="url(#ps)"/><path d="M0 40 C-2.500 31 -7 24 -11.500 16 C-15 10 -17 5.500 -17 0 A17 17 0 1 1 17 0 C17 5.500 15 10 11.500 16 C7 24 2.500 31 0 40Z" fill="url(#go)" stroke="#e08600" stroke-width="0.8"/><text x="0" y="5" text-anchor="middle" font-family="Liberation Sans" font-weight="bold" font-size="19" fill="#fff" textLength='20' lengthAdjust='spacingAndGlyphs'>27</text><text x="0" y="19" text-anchor="middle" font-family="Liberation Sans" font-weight="bold" font-size="12" fill="#fff">W</text></g>
<g transform="translate(1118.0,154.0)"><path d="M0 40 C-2.500 31 -7 24 -11.500 16 C-15 10 -17 5.500 -17 0 A17 17 0 1 1 17 0 C17 5.500 15 10 11.500 16 C7 24 2.500 31 0 40Z" fill="#000" opacity="0.250" transform="translate(1.500,2)" filter="url(#ps)"/><path d="M0 40 C-2.500 31 -7 24 -11.500 16 C-15 10 -17 5.500 -17 0 A17 17 0 1 1 17 0 C17 5.500 15 10 11.500 16 C7 24 2.500 31 0 40Z" fill="url(#go)" stroke="#e08600" stroke-width="0.8"/><text x="0" y="5" text-anchor="middle" font-family="Liberation Sans" font-weight="bold" font-size="19" fill="#fff" textLength='20' lengthAdjust='spacingAndGlyphs'>22</text></g>
<g transform="translate(1334.0,158.0)"><path d="M0 40 C-2.500 31 -7 24 -11.500 16 C-15 10 -17 5.500 -17 0 A17 17 0 1 1 17 0 C17 5.500 15 10 11.500 16 C7 24 2.500 31 0 40Z" fill="#000" opacity="0.250" transform="translate(1.500,2)" filter="url(#ps)"/><path d="M0 40 C-2.500 31 -7 24 -11.500 16 C-15 10 -17 5.500 -17 0 A17 17 0 1 1 17 0 C17 5.500 15 10 11.500 16 C7 24 2.500 31 0 40Z" fill="url(#gd)" stroke="#1b5e9e" stroke-width="0.8"/><circle cx="0" cy="0" r="5.500" fill="#fff"/></g>
<g transform="translate(1452.0,161.0)"><path d="M0 40 C-2.500 31 -7 24 -11.500 16 C-15 10 -17 5.500 -17 0 A17 17 0 1 1 17 0 C17 5.500 15 10 11.500 16 C7 24 2.500 31 0 40Z" fill="#000" opacity="0.250" transform="translate(1.500,2)" filter="url(#ps)"/><path d="M0 40 C-2.500 31 -7 24 -11.500 16 C-15 10 -17 5.500 -17 0 A17 17 0 1 1 17 0 C17 5.500 15 10 11.500 16 C7 24 2.500 31 0 40Z" fill="url(#gr)" stroke="#dd3e0b" stroke-width="0.8"/><text x="0" y="5" text-anchor="middle" font-family="Liberation Sans" font-weight="bold" font-size="19" fill="#fff" textLength='20' lengthAdjust='spacingAndGlyphs'>10</text><text x="0" y="19" text-anchor="middle" font-family="Liberation Sans" font-weight="bold" font-size="12" fill="#fff">W</text></g>
<g transform="translate(1375.0,161.0)"><path d="M0 40 C-2.500 31 -7 24 -11.500 16 C-15 10 -17 5.500 -17 0 A17 17 0 1 1 17 0 C17 5.500 15 10 11.500 16 C7 24 2.500 31 0 40Z" fill="#000" opacity="0.250" transform="translate(1.500,2)" filter="url(#ps)"/><path d="M0 40 C-2.500 31 -7 24 -11.500 16 C-15 10 -17 5.500 -17 0 A17 17 0 1 1 17 0 C17 5.500 15 10 11.500 16 C7 24 2.500 31 0 40Z" fill="url(#gb)" stroke="#0482d8" stroke-width="0.8"/><text x="0" y="5" text-anchor="middle" font-family="Liberation Sans" font-weight="bold" font-size="19" fill="#fff" textLength='20' lengthAdjust='spacingAndGlyphs'>20</text><text x="0" y="19" text-anchor="middle" font-family="Liberation Sans" font-weight="bold" font-size="12" fill="#fff">W</text></g>
<g transform="translate(1585.0,163.0)"><path d="M0 40 C-2.500 31 -7 24 -11.500 16 C-15 10 -17 5.500 -17 0 A17 17 0 1 1 17 0 C17 5.500 15 10 11.500 16 C7 24 2.500 31 0 40Z" fill="#000" opacity="0.250" transform="translate(1.500,2)" filter="url(#ps)"/><path d="M0 40 C-2.500 31 -7 24 -11.500 16 C-15 10 -17 5.500 -17 0 A17 17 0 1 1 17 0 C17 5.500 15 10 11.500 16 C7 24 2.500 31 0 40Z" fill="url(#gb)" stroke="#0482d8" stroke-width="0.8"/><text x="0" y="5" text-anchor="middle" font-family="Liberation Sans" font-weight="bold" font-size="19" fill="#fff" textLength='20' lengthAdjust='spacingAndGlyphs'>15</text></g>
<g transform="translate(791.0,167.0)"><path d="M0 40 C-2.500 31 -7 24 -11.500 16 C-15 10 -17 5.500 -17 0 A17 17 0 1 1 17 0 C17 5.500 15 10 11.500 16 C7 24 2.500 31 0 40Z" fill="#000" opacity="0.250" transform="translate(1.500,2)" filter="url(#ps)"/><path d="M0 40 C-2.500 31 -7 24 -11.500 16 C-15 10 -17 5.500 -17 0 A17 17 0 1 1 17 0 C17 5.500 15 10 11.500 16 C7 24 2.500 31 0 40Z" fill="url(#go)" stroke="#e08600" stroke-width="0.8"/><text x="0" y="5" text-anchor="middle" font-family="Liberation Sans" font-weight="bold" font-size="19" fill="#fff" textLength='20' lengthAdjust='spacingAndGlyphs'>34</text><text x="0" y="19" text-anchor="middle" font-family="Liberation Sans" font-weight="bold" font-size="12" fill="#fff">W</text></g>
<g transform="translate(1248.0,168.0)"><path d="M0 40 C-2.500 31 -7 24 -11.500 16 C-15 10 -17 5.500 -17 0 A17 17 0 1 1 17 0 C17 5.500 15 10 11.500 16 C7 24 2.500 31 0 40Z" fill="#000" opacity="0.250" transform="translate(1.500,2)" filter="url(#ps)"/><path d="M0 40 C-2.500 31 -7 24 -11.500 16 C-15 10 -17 5.500 -17 0 A17 17 0 1 1 17 0 C17 5.500 15 10 11.500 16 C7 24 2.500 31 0 40Z" fill="url(#gp)" stroke="#4a14d6" stroke-width="0.8"/><text x="0" y="5" text-anchor="middle" font-family="Liberation Sans" font-weight="bold" font-size="19" fill="#fff" textLength='20' lengthAdjust='spacingAndGlyphs'>13</text><text x="0" y="19" text-anchor="middle" font-family="Liberation Sans" font-weight="bold" font-size="12" fill="#fff">W</text></g>
<g transform="translate(838.0,169.0)"><path d="M0 40 C-2.500 31 -7 24 -11.500 16 C-15 10 -17 5.500 -17 0 A17 17 0 1 1 17 0 C17 5.500 15 10 11.500 16 C7 24 2.500 31 0 40Z" fill="#000" opacity="0.250" transform="translate(1.500,2)" filter="url(#ps)"/><path d="M0 40 C-2.500 31 -7 24 -11.500 16 C-15 10 -17 5.500 -17 0 A17 17 0 1 1 17 0 C17 5.500 15 10 11.500 16 C7 24 2.500 31 0 40Z" fill="url(#go)" stroke="#e08600" stroke-width="0.8"/><text x="0" y="5" text-anchor="middle" font-family="Liberation Sans" font-weight="bold" font-size="19" fill="#fff" >1</text><text x="0" y="19" text-anchor="middle" font-family="Liberation Sans" font-weight="bold" font-size="12" fill="#fff">W</text></g>
<g transform="translate(1090.0,169.0)"><path d="M0 40 C-2.500 31 -7 24 -11.500 16 C-15 10 -17 5.500 -17 0 A17 17 0 1 1 17 0 C17 5.500 15 10 11.500 16 C7 24 2.500 31 0 40Z" fill="#000" opacity="0.250" transform="translate(1.500,2)" filter="url(#ps)"/><path d="M0 40 C-2.500 31 -7 24 -11.500 16 C-15 10 -17 5.500 -17 0 A17 17 0 1 1 17 0 C17 5.500 15 10 11.500 16 C7 24 2.500 31 0 40Z" fill="url(#go)" stroke="#e08600" stroke-width="0.8"/><text x="0" y="5" text-anchor="middle" font-family="Liberation Sans" font-weight="bold" font-size="19" fill="#fff" textLength='20' lengthAdjust='spacingAndGlyphs'>25</text></g>
<g transform="translate(1309.0,170.0)"><path d="M0 40 C-2.500 31 -7 24 -11.500 16 C-15 10 -17 5.500 -17 0 A17 17 0 1 1 17 0 C17 5.500 15 10 11.500 16 C7 24 2.500 31 0 40Z" fill="#000" opacity="0.250" transform="translate(1.500,2)" filter="url(#ps)"/><path d="M0 40 C-2.500 31 -7 24 -11.500 16 C-15 10 -17 5.500 -17 0 A17 17 0 1 1 17 0 C17 5.500 15 10 11.500 16 C7 24 2.500 31 0 40Z" fill="url(#gp)" stroke="#4a14d6" stroke-width="0.8"/><text x="0" y="5" text-anchor="middle" font-family="Liberation Sans" font-weight="bold" font-size="19" fill="#fff" >7</text><text x="0" y="19" text-anchor="middle" font-family="Liberation Sans" font-weight="bold" font-size="12" fill="#fff">W</text></g>
<g transform="translate(816.0,171.0)"><path d="M0 40 C-2.500 31 -7 24 -11.500 16 C-15 10 -17 5.500 -17 0 A17 17 0 1 1 17 0 C17 5.500 15 10 11.500 16 C7 24 2.500 31 0 40Z" fill="#000" opacity="0.250" transform="translate(1.500,2)" filter="url(#ps)"/><path d="M0 40 C-2.500 31 -7 24 -11.500 16 C-15 10 -17 5.500 -17 0 A17 17 0 1 1 17 0 C17 5.500 15 10 11.500 16 C7 24 2.500 31 0 40Z" fill="url(#go)" stroke="#e08600" stroke-width="0.8"/><text x="0" y="5" text-anchor="middle" font-family="Liberation Sans" font-weight="bold" font-size="19" fill="#fff" textLength='20' lengthAdjust='spacingAndGlyphs'>33</text><text x="0" y="19" text-anchor="middle" font-family="Liberation Sans" font-weight="bold" font-size="12" fill="#fff">W</text></g>
<g transform="translate(1590.0,181.0)"><path d="M0 40 C-2.500 31 -7 24 -11.500 16 C-15 10 -17 5.500 -17 0 A17 17 0 1 1 17 0 C17 5.500 15 10 11.500 16 C7 24 2.500 31 0 40Z" fill="#000" opacity="0.250" transform="translate(1.500,2)" filter="url(#ps)"/><path d="M0 40 C-2.500 31 -7 24 -11.500 16 C-15 10 -17 5.500 -17 0 A17 17 0 1 1 17 0 C17 5.500 15 10 11.500 16 C7 24 2.500 31 0 40Z" fill="url(#gb)" stroke="#0482d8" stroke-width="0.8"/><text x="0" y="5" text-anchor="middle" font-family="Liberation Sans" font-weight="bold" font-size="19" fill="#fff" textLength='20' lengthAdjust='spacingAndGlyphs'>12</text></g>
<g transform="translate(1099.0,184.0)"><path d="M0 40 C-2.500 31 -7 24 -11.500 16 C-15 10 -17 5.500 -17 0 A17 17 0 1 1 17 0 C17 5.500 15 10 11.500 16 C7 24 2.500 31 0 40Z" fill="#000" opacity="0.250" transform="translate(1.500,2)" filter="url(#ps)"/><path d="M0 40 C-2.500 31 -7 24 -11.500 16 C-15 10 -17 5.500 -17 0 A17 17 0 1 1 17 0 C17 5.500 15 10 11.500 16 C7 24 2.500 31 0 40Z" fill="url(#go)" stroke="#e08600" stroke-width="0.8"/><text x="0" y="5" text-anchor="middle" font-family="Liberation Sans" font-weight="bold" font-size="19" fill="#fff" textLength='20' lengthAdjust='spacingAndGlyphs'>20</text><text x="0" y="19" text-anchor="middle" font-family="Liberation Sans" font-weight="bold" font-size="12" fill="#fff">W</text></g>
<g transform="translate(1329.0,186.0)"><path d="M0 40 C-2.500 31 -7 24 -11.500 16 C-15 10 -17 5.500 -17 0 A17 17 0 1 1 17 0 C17 5.500 15 10 11.500 16 C7 24 2.500 31 0 40Z" fill="#000" opacity="0.250" transform="translate(1.500,2)" filter="url(#ps)"/><path d="M0 40 C-2.500 31 -7 24 -11.500 16 C-15 10 -17 5.500 -17 0 A17 17 0 1 1 17 0 C17 5.500 15 10 11.500 16 C7 24 2.500 31 0 40Z" fill="url(#gp)" stroke="#4a14d6" stroke-width="0.8"/><text x="0" y="5" text-anchor="middle" font-family="Liberation Sans" font-weight="bold" font-size="19" fill="#fff" >5</text><text x="0" y="19" text-anchor="middle" font-family="Liberation Sans" font-weight="bold" font-size="12" fill="#fff">W</text></g>
<g transform="translate(1290.0,193.0)"><path d="M0 40 C-2.500 31 -7 24 -11.500 16 C-15 10 -17 5.500 -17 0 A17 17 0 1 1 17 0 C17 5.500 15 10 11.500 16 C7 24 2.500 31 0 40Z" fill="#000" opacity="0.250" transform="translate(1.500,2)" filter="url(#ps)"/><path d="M0 40 C-2.500 31 -7 24 -11.500 16 C-15 10 -17 5.500 -17 0 A17 17 0 1 1 17 0 C17 5.500 15 10 11.500 16 C7 24 2.500 31 0 40Z" fill="url(#gp)" stroke="#4a14d6" stroke-width="0.8"/><text x="0" y="5" text-anchor="middle" font-family="Liberation Sans" font-weight="bold" font-size="19" fill="#fff" textLength='20' lengthAdjust='spacingAndGlyphs'>11</text><text x="0" y="19" text-anchor="middle" font-family="Liberation Sans" font-weight="bold" font-size="12" fill="#fff">W</text></g>
<g transform="translate(1398.0,195.0)"><path d="M0 40 C-2.500 31 -7 24 -11.500 16 C-15 10 -17 5.500 -17 0 A17 17 0 1 1 17 0 C17 5.500 15 10 11.500 16 C7 24 2.500 31 0 40Z" fill="#000" opacity="0.250" transform="translate(1.500,2)" filter="url(#ps)"/><path d="M0 40 C-2.500 31 -7 24 -11.500 16 C-15 10 -17 5.500 -17 0 A17 17 0 1 1 17 0 C17 5.500 15 10 11.500 16 C7 24 2.500 31 0 40Z" fill="url(#gr)" stroke="#dd3e0b" stroke-width="0.8"/><text x="0" y="5" text-anchor="middle" font-family="Liberation Sans" font-weight="bold" font-size="19" fill="#fff" >9</text><text x="0" y="19" text-anchor="middle" font-family="Liberation Sans" font-weight="bold" font-size="12" fill="#fff">W</text></g>
<g transform="translate(1498.0,195.0)"><path d="M0 40 C-2.500 31 -7 24 -11.500 16 C-15 10 -17 5.500 -17 0 A17 17 0 1 1 17 0 C17 5.500 15 10 11.500 16 C7 24 2.500 31 0 40Z" fill="#000" opacity="0.250" transform="translate(1.500,2)" filter="url(#ps)"/><path d="M0 40 C-2.500 31 -7 24 -11.500 16 C-15 10 -17 5.500 -17 0 A17 17 0 1 1 17 0 C17 5.500 15 10 11.500 16 C7 24 2.500 31 0 40Z" fill="url(#gr)" stroke="#dd3e0b" stroke-width="0.8"/><text x="0" y="5" text-anchor="middle" font-family="Liberation Sans" font-weight="bold" font-size="19" fill="#fff" textLength='20' lengthAdjust='spacingAndGlyphs'>14</text><text x="0" y="19" text-anchor="middle" font-family="Liberation Sans" font-weight="bold" font-size="12" fill="#fff">W</text></g>
<g transform="translate(1175.0,196.0)"><path d="M0 40 C-2.500 31 -7 24 -11.500 16 C-15 10 -17 5.500 -17 0 A17 17 0 1 1 17 0 C17 5.500 15 10 11.500 16 C7 24 2.500 31 0 40Z" fill="#000" opacity="0.250" transform="translate(1.500,2)" filter="url(#ps)"/><path d="M0 40 C-2.500 31 -7 24 -11.500 16 C-15 10 -17 5.500 -17 0 A17 17 0 1 1 17 0 C17 5.500 15 10 11.500 16 C7 24 2.500 31 0 40Z" fill="url(#gp)" stroke="#4a14d6" stroke-width="0.8"/><text x="0" y="5" text-anchor="middle" font-family="Liberation Sans" font-weight="bold" font-size="19" fill="#fff" textLength='20' lengthAdjust='spacingAndGlyphs'>15</text><text x="0" y="19" text-anchor="middle" font-family="Liberation Sans" font-weight="bold" font-size="12" fill="#fff">W</text></g>
<g transform="translate(1523.0,204.0)"><path d="M0 40 C-2.500 31 -7 24 -11.500 16 C-15 10 -17 5.500 -17 0 A17 17 0 1 1 17 0 C17 5.500 15 10 11.500 16 C7 24 2.500 31 0 40Z" fill="#000" opacity="0.250" transform="translate(1.500,2)" filter="url(#ps)"/><path d="M0 40 C-2.500 31 -7 24 -11.500 16 C-15 10 -17 5.500 -17 0 A17 17 0 1 1 17 0 C17 5.500 15 10 11.500 16 C7 24 2.500 31 0 40Z" fill="url(#gb)" stroke="#0482d8" stroke-width="0.8"/><text x="0" y="5" text-anchor="middle" font-family="Liberation Sans" font-weight="bold" font-size="19" fill="#fff" >5</text><text x="0" y="19" text-anchor="middle" font-family="Liberation Sans" font-weight="bold" font-size="12" fill="#fff">W</text></g>
<g transform="translate(1458.0,207.0)"><path d="M0 40 C-2.500 31 -7 24 -11.500 16 C-15 10 -17 5.500 -17 0 A17 17 0 1 1 17 0 C17 5.500 15 10 11.500 16 C7 24 2.500 31 0 40Z" fill="#000" opacity="0.250" transform="translate(1.500,2)" filter="url(#ps)"/><path d="M0 40 C-2.500 31 -7 24 -11.500 16 C-15 10 -17 5.500 -17 0 A17 17 0 1 1 17 0 C17 5.500 15 10 11.500 16 C7 24 2.500 31 0 40Z" fill="url(#gr)" stroke="#dd3e0b" stroke-width="0.8"/><text x="0" y="5" text-anchor="middle" font-family="Liberation Sans" font-weight="bold" font-size="19" fill="#fff" textLength='20' lengthAdjust='spacingAndGlyphs'>17</text><text x="0" y="19" text-anchor="middle" font-family="Liberation Sans" font-weight="bold" font-size="12" fill="#fff">W</text></g>
<g transform="translate(1593.0,211.0)"><path d="M0 40 C-2.500 31 -7 24 -11.500 16 C-15 10 -17 5.500 -17 0 A17 17 0 1 1 17 0 C17 5.500 15 10 11.500 16 C7 24 2.500 31 0 40Z" fill="#000" opacity="0.250" transform="translate(1.500,2)" filter="url(#ps)"/><path d="M0 40 C-2.500 31 -7 24 -11.500 16 C-15 10 -17 5.500 -17 0 A17 17 0 1 1 17 0 C17 5.500 15 10 11.500 16 C7 24 2.500 31 0 40Z" fill="url(#gb)" stroke="#0482d8" stroke-width="0.8"/><text x="0" y="5" text-anchor="middle" font-family="Liberation Sans" font-weight="bold" font-size="19" fill="#fff" >7</text><text x="0" y="19" text-anchor="middle" font-family="Liberation Sans" font-weight="bold" font-size="12" fill="#fff">W</text></g>
<g transform="translate(1286.0,221.0)"><path d="M0 40 C-2.500 31 -7 24 -11.500 16 C-15 10 -17 5.500 -17 0 A17 17 0 1 1 17 0 C17 5.500 15 10 11.500 16 C7 24 2.500 31 0 40Z" fill="#000" opacity="0.250" transform="translate(1.500,2)" filter="url(#ps)"/><path d="M0 40 C-2.500 31 -7 24 -11.500 16 C-15 10 -17 5.500 -17 0 A17 17 0 1 1 17 0 C17 5.500 15 10 11.500 16 C7 24 2.500 31 0 40Z" fill="url(#gk)" stroke="#bd3f77" stroke-width="0.8"/><text x="0" y="5" text-anchor="middle" font-family="Liberation Sans" font-weight="bold" font-size="19" fill="#fff" textLength='20' lengthAdjust='spacingAndGlyphs'>28</text></g>
<g transform="translate(1375.0,223.0)"><path d="M0 40 C-2.500 31 -7 24 -11.500 16 C-15 10 -17 5.500 -17 0 A17 17 0 1 1 17 0 C17 5.500 15 10 11.500 16 C7 24 2.500 31 0 40Z" fill="#000" opacity="0.250" transform="translate(1.500,2)" filter="url(#ps)"/><path d="M0 40 C-2.500 31 -7 24 -11.500 16 C-15 10 -17 5.500 -17 0 A17 17 0 1 1 17 0 C17 5.500 15 10 11.500 16 C7 24 2.500 31 0 40Z" fill="url(#gr)" stroke="#dd3e0b" stroke-width="0.8"/><text x="0" y="5" text-anchor="middle" font-family="Liberation Sans" font-weight="bold" font-size="19" fill="#fff" >7</text><text x="0" y="19" text-anchor="middle" font-family="Liberation Sans" font-weight="bold" font-size="12" fill="#fff">W</text></g>
<g transform="translate(1227.0,230.0)"><path d="M0 40 C-2.500 31 -7 24 -11.500 16 C-15 10 -17 5.500 -17 0 A17 17 0 1 1 17 0 C17 5.500 15 10 11.500 16 C7 24 2.500 31 0 40Z" fill="#000" opacity="0.250" transform="translate(1.500,2)" filter="url(#ps)"/><path d="M0 40 C-2.500 31 -7 24 -11.500 16 C-15 10 -17 5.500 -17 0 A17 17 0 1 1 17 0 C17 5.500 15 10 11.500 16 C7 24 2.500 31 0 40Z" fill="url(#gp)" stroke="#4a14d6" stroke-width="0.8"/><text x="0" y="5" text-anchor="middle" font-family="Liberation Sans" font-weight="bold" font-size="19" fill="#fff" textLength='20' lengthAdjust='spacingAndGlyphs'>31</text></g>
<g transform="translate(1338.0,232.0)"><path d="M0 40 C-2.500 31 -7 24 -11.500 16 C-15 10 -17 5.500 -17 0 A17 17 0 1 1 17 0 C17 5.500 15 10 11.500 16 C7 24 2.500 31 0 40Z" fill="#000" opacity="0.250" transform="translate(1.500,2)" filter="url(#ps)"/><path d="M0 40 C-2.500 31 -7 24 -11.500 16 C-15 10 -17 5.500 -17 0 A17 17 0 1 1 17 0 C17 5.500 15 10 11.500 16 C7 24 2.500 31 0 40Z" fill="url(#gp)" stroke="#4a14d6" stroke-width="0.8"/><text x="0" y="5" text-anchor="middle" font-family="Liberation Sans" font-weight="bold" font-size="19" fill="#fff" >9</text></g>
<g transform="translate(1083.0,239.0)"><path d="M0 40 C-2.500 31 -7 24 -11.500 16 C-15 10 -17 5.500 -17 0 A17 17 0 1 1 17 0 C17 5.500 15 10 11.500 16 C7 24 2.500 31 0 40Z" fill="#000" opacity="0.250" transform="translate(1.500,2)" filter="url(#ps)"/><path d="M0 40 C-2.500 31 -7 24 -11.500 16 C-15 10 -17 5.500 -17 0 A17 17 0 1 1 17 0 C17 5.500 15 10 11.500 16 C7 24 2.500 31 0 40Z" fill="url(#go)" stroke="#e08600" stroke-width="0.8"/><text x="0" y="5" text-anchor="middle" font-family="Liberation Sans" font-weight="bold" font-size="19" fill="#fff" textLength='20' lengthAdjust='spacingAndGlyphs'>15</text><text x="0" y="19" text-anchor="middle" font-family="Liberation Sans" font-weight="bold" font-size="12" fill="#fff">W</text></g>
<g transform="translate(1442.0,239.0)"><path d="M0 40 C-2.500 31 -7 24 -11.500 16 C-15 10 -17 5.500 -17 0 A17 17 0 1 1 17 0 C17 5.500 15 10 11.500 16 C7 24 2.500 31 0 40Z" fill="#000" opacity="0.250" transform="translate(1.500,2)" filter="url(#ps)"/><path d="M0 40 C-2.500 31 -7 24 -11.500 16 C-15 10 -17 5.500 -17 0 A17 17 0 1 1 17 0 C17 5.500 15 10 11.500 16 C7 24 2.500 31 0 40Z" fill="url(#gr)" stroke="#dd3e0b" stroke-width="0.8"/><text x="0" y="5" text-anchor="middle" font-family="Liberation Sans" font-weight="bold" font-size="19" fill="#fff" textLength='20' lengthAdjust='spacingAndGlyphs'>20</text></g>
<g transform="translate(1241.0,242.0)"><path d="M0 40 C-2.500 31 -7 24 -11.500 16 C-15 10 -17 5.500 -17 0 A17 17 0 1 1 17 0 C17 5.500 15 10 11.500 16 C7 24 2.500 31 0 40Z" fill="#000" opacity="0.250" transform="translate(1.500,2)" filter="url(#ps)"/><path d="M0 40 C-2.500 31 -7 24 -11.500 16 C-15 10 -17 5.500 -17 0 A17 17 0 1 1 17 0 C17 5.500 15 10 11.500 16 C7 24 2.500 31 0 40Z" fill="url(#gp)" stroke="#4a14d6" stroke-width="0.8"/><text x="0" y="5" text-anchor="middle" font-family="Liberation Sans" font-weight="bold" font-size="19" fill="#fff" textLength='20' lengthAdjust='spacingAndGlyphs'>33</text><text x="0" y="19" text-anchor="middle" font-family="Liberation Sans" font-weight="bold" font-size="12" fill="#fff">W</text></g>
<g transform="translate(1182.0,243.0)"><path d="M0 40 C-2.500 31 -7 24 -11.500 16 C-15 10 -17 5.500 -17 0 A17 17 0 1 1 17 0 C17 5.500 15 10 11.500 16 C7 24 2.500 31 0 40Z" fill="#000" opacity="0.250" transform="translate(1.500,2)" filter="url(#ps)"/><path d="M0 40 C-2.500 31 -7 24 -11.500 16 C-15 10 -17 5.500 -17 0 A17 17 0 1 1 17 0 C17 5.500 15 10 11.500 16 C7 24 2.500 31 0 40Z" fill="url(#go)" stroke="#e08600" stroke-width="0.8"/><text x="0" y="5" text-anchor="middle" font-family="Liberation Sans" font-weight="bold" font-size="19" fill="#fff" >9</text></g>
<g transform="translate(1306.0,246.0)"><path d="M0 40 C-2.500 31 -7 24 -11.500 16 C-15 10 -17 5.500 -17 0 A17 17 0 1 1 17 0 C17 5.500 15 10 11.500 16 C7 24 2.500 31 0 40Z" fill="#000" opacity="0.250" transform="translate(1.500,2)" filter="url(#ps)"/><path d="M0 40 C-2.500 31 -7 24 -11.500 16 C-15 10 -17 5.500 -17 0 A17 17 0 1 1 17 0 C17 5.500 15 10 11.500 16 C7 24 2.500 31 0 40Z" fill="url(#gk)" stroke="#bd3f77" stroke-width="0.8"/><text x="0" y="5" text-anchor="middle" font-family="Liberation Sans" font-weight="bold" font-size="19" fill="#fff" textLength='20' lengthAdjust='spacingAndGlyphs'>31</text><text x="0" y="19" text-anchor="middle" font-family="Liberation Sans" font-weight="bold" font-size="12" fill="#fff">W</text></g>
<g transform="translate(1336.0,246.0)"><path d="M0 40 C-2.500 31 -7 24 -11.500 16 C-15 10 -17 5.500 -17 0 A17 17 0 1 1 17 0 C17 5.500 15 10 11.500 16 C7 24 2.500 31 0 40Z" fill="#000" opacity="0.250" transform="translate(1.500,2)" filter="url(#ps)"/><path d="M0 40 C-2.500 31 -7 24 -11.500 16 C-15 10 -17 5.500 -17 0 A17 17 0 1 1 17 0 C17 5.500 15 10 11.500 16 C7 24 2.500 31 0 40Z" fill="url(#gk)" stroke="#bd3f77" stroke-width="0.8"/><text x="0" y="5" text-anchor="middle" font-family="Liberation Sans" font-weight="bold" font-size="19" fill="#fff" textLength='20' lengthAdjust='spacingAndGlyphs'>32</text><text x="0" y="19" text-anchor="middle" font-family="Liberation Sans" font-weight="bold" font-size="12" fill="#fff">W</text></g>
<g transform="translate(1272.0,251.0)"><path d="M0 40 C-2.500 31 -7 24 -11.500 16 C-15 10 -17 5.500 -17 0 A17 17 0 1 1 17 0 C17 5.500 15 10 11.500 16 C7 24 2.500 31 0 40Z" fill="#000" opacity="0.250" transform="translate(1.500,2)" filter="url(#ps)"/><path d="M0 40 C-2.500 31 -7 24 -11.500 16 C-15 10 -17 5.500 -17 0 A17 17 0 1 1 17 0 C17 5.500 15 10 11.500 16 C7 24 2.500 31 0 40Z" fill="url(#gp)" stroke="#4a14d6" stroke-width="0.8"/><text x="0" y="5" text-anchor="middle" font-family="Liberation Sans" font-weight="bold" font-size="19" fill="#fff" textLength='20' lengthAdjust='spacingAndGlyphs'>34</text><text x="0" y="19" text-anchor="middle" font-family="Liberation Sans" font-weight="bold" font-size="12" fill="#fff">W</text></g>
<g transform="translate(1163.0,252.0)"><path d="M0 40 C-2.500 31 -7 24 -11.500 16 C-15 10 -17 5.500 -17 0 A17 17 0 1 1 17 0 C17 5.500 15 10 11.500 16 C7 24 2.500 31 0 40Z" fill="#000" opacity="0.250" transform="translate(1.500,2)" filter="url(#ps)"/><path d="M0 40 C-2.500 31 -7 24 -11.500 16 C-15 10 -17 5.500 -17 0 A17 17 0 1 1 17 0 C17 5.500 15 10 11.500 16 C7 24 2.500 31 0 40Z" fill="url(#go)" stroke="#e08600" stroke-width="0.8"/><text x="0" y="5" text-anchor="middle" font-family="Liberation Sans" font-weight="bold" font-size="19" fill="#fff" >1</text></g>
<g transform="translate(1218.0,256.0)"><path d="M0 40 C-2.500 31 -7 24 -11.500 16 C-15 10 -17 5.500 -17 0 A17 17 0 1 1 17 0 C17 5.500 15 10 11.500 16 C7 24 2.500 31 0 40Z" fill="#000" opacity="0.250" transform="translate(1.500,2)" filter="url(#ps)"/><path d="M0 40 C-2.500 31 -7 24 -11.500 16 C-15 10 -17 5.500 -17 0 A17 17 0 1 1 17 0 C17 5.500 15 10 11.500 16 C7 24 2.500 31 0 40Z" fill="url(#gp)" stroke="#4a14d6" stroke-width="0.8"/><text x="0" y="5" text-anchor="middle" font-family="Liberation Sans" font-weight="bold" font-size="19" fill="#fff" textLength='20' lengthAdjust='spacingAndGlyphs'>30</text><text x="0" y="19" text-anchor="middle" font-family="Liberation Sans" font-weight="bold" font-size="12" fill="#fff">W</text></g>
<g transform="translate(1179.0,262.0)"><path d="M0 40 C-2.500 31 -7 24 -11.500 16 C-15 10 -17 5.500 -17 0 A17 17 0 1 1 17 0 C17 5.500 15 10 11.500 16 C7 24 2.500 31 0 40Z" fill="#000" opacity="0.250" transform="translate(1.500,2)" filter="url(#ps)"/><path d="M0 40 C-2.500 31 -7 24 -11.500 16 C-15 10 -17 5.500 -17 0 A17 17 0 1 1 17 0 C17 5.500 15 10 11.500 16 C7 24 2.500 31 0 40Z" fill="url(#gk)" stroke="#bd3f77" stroke-width="0.8"/><text x="0" y="5" text-anchor="middle" font-family="Liberation Sans" font-weight="bold" font-size="19" fill="#fff" textLength='20' lengthAdjust='spacingAndGlyphs'>22</text></g>
<g transform="translate(1444.0,267.0)"><path d="M0 40 C-2.500 31 -7 24 -11.500 16 C-15 10 -17 5.500 -17 0 A17 17 0 1 1 17 0 C17 5.500 15 10 11.500 16 C7 24 2.500 31 0 40Z" fill="#000" opacity="0.250" transform="translate(1.500,2)" filter="url(#ps)"/><path d="M0 40 C-2.500 31 -7 24 -11.500 16 C-15 10 -17 5.500 -17 0 A17 17 0 1 1 17 0 C17 5.500 15 10 11.500 16 C7 24 2.500 31 0 40Z" fill="url(#gr)" stroke="#dd3e0b" stroke-width="0.8"/><text x="0" y="5" text-anchor="middle" font-family="Liberation Sans" font-weight="bold" font-size="19" fill="#fff" textLength='20' lengthAdjust='spacingAndGlyphs'>22</text><text x="0" y="19" text-anchor="middle" font-family="Liberation Sans" font-weight="bold" font-size="12" fill="#fff">W</text></g>
<g transform="translate(1426.0,270.0)"><path d="M0 40 C-2.500 31 -7 24 -11.500 16 C-15 10 -17 5.500 -17 0 A17 17 0 1 1 17 0 C17 5.500 15 10 11.500 16 C7 24 2.500 31 0 40Z" fill="#000" opacity="0.250" transform="translate(1.500,2)" filter="url(#ps)"/><path d="M0 40 C-2.500 31 -7 24 -11.500 16 C-15 10 -17 5.500 -17 0 A17 17 0 1 1 17 0 C17 5.500 15 10 11.500 16 C7 24 2.500 31 0 40Z" fill="url(#gr)" stroke="#dd3e0b" stroke-width="0.8"/><text x="0" y="5" text-anchor="middle" font-family="Liberation Sans" font-weight="bold" font-size="19" fill="#fff" textLength='20' lengthAdjust='spacingAndGlyphs'>26</text></g>
<g transform="translate(1354.0,274.0)"><path d="M0 40 C-2.500 31 -7 24 -11.500 16 C-15 10 -17 5.500 -17 0 A17 17 0 1 1 17 0 C17 5.500 15 10 11.500 16 C7 24 2.500 31 0 40Z" fill="#000" opacity="0.250" transform="translate(1.500,2)" filter="url(#ps)"/><path d="M0 40 C-2.500 31 -7 24 -11.500 16 C-15 10 -17 5.500 -17 0 A17 17 0 1 1 17 0 C17 5.500 15 10 11.500 16 C7 24 2.500 31 0 40Z" fill="url(#gp)" stroke="#4a14d6" stroke-width="0.8"/><text x="0" y="5" text-anchor="middle" font-family="Liberation Sans" font-weight="bold" font-size="19" fill="#fff" >2</text><text x="0" y="19" text-anchor="middle" font-family="Liberation Sans" font-weight="bold" font-size="12" fill="#fff">W</text></g>
<g transform="translate(1163.0,278.0)"><path d="M0 40 C-2.500 31 -7 24 -11.500 16 C-15 10 -17 5.500 -17 0 A17 17 0 1 1 17 0 C17 5.500 15 10 11.500 16 C7 24 2.500 31 0 40Z" fill="#000" opacity="0.250" transform="translate(1.500,2)" filter="url(#ps)"/><path d="M0 40 C-2.500 31 -7 24 -11.500 16 C-15 10 -17 5.500 -17 0 A17 17 0 1 1 17 0 C17 5.500 15 10 11.500 16 C7 24 2.500 31 0 40Z" fill="url(#gk)" stroke="#bd3f77" stroke-width="0.8"/><text x="0" y="5" text-anchor="middle" font-family="Liberation Sans" font-weight="bold" font-size="19" fill="#fff" >1</text></g>
<g transform="translate(1126.0,279.0)"><path d="M0 40 C-2.500 31 -7 24 -11.500 16 C-15 10 -17 5.500 -17 0 A17 17 0 1 1 17 0 C17 5.500 15 10 11.500 16 C7 24 2.500 31 0 40Z" fill="#000" opacity="0.250" transform="translate(1.500,2)" filter="url(#ps)"/><path d="M0 40 C-2.500 31 -7 24 -11.500 16 C-15 10 -17 5.500 -17 0 A17 17 0 1 1 17 0 C17 5.500 15 10 11.500 16 C7 24 2.500 31 0 40Z" fill="url(#go)" stroke="#e08600" stroke-width="0.8"/><text x="0" y="5" text-anchor="middle" font-family="Liberation Sans" font-weight="bold" font-size="19" fill="#fff" textLength='20' lengthAdjust='spacingAndGlyphs'>12</text><text x="0" y="19" text-anchor="middle" font-family="Liberation Sans" font-weight="bold" font-size="12" fill="#fff">W</text></g>
<g transform="translate(1168.0,292.0)"><path d="M0 40 C-2.500 31 -7 24 -11.500 16 C-15 10 -17 5.500 -17 0 A17 17 0 1 1 17 0 C17 5.500 15 10 11.500 16 C7 24 2.500 31 0 40Z" fill="#000" opacity="0.250" transform="translate(1.500,2)" filter="url(#ps)"/><path d="M0 40 C-2.500 31 -7 24 -11.500 16 C-15 10 -17 5.500 -17 0 A17 17 0 1 1 17 0 C17 5.500 15 10 11.500 16 C7 24 2.500 31 0 40Z" fill="url(#gk)" stroke="#bd3f77" stroke-width="0.8"/><text x="0" y="5" text-anchor="middle" font-family="Liberation Sans" font-weight="bold" font-size="19" fill="#fff" textLength='20' lengthAdjust='spacingAndGlyphs'>17</text><text x="0" y="19" text-anchor="middle" font-family="Liberation Sans" font-weight="bold" font-size="12" fill="#fff">W</text></g>
<g transform="translate(1428.0,302.0)"><path d="M0 40 C-2.500 31 -7 24 -11.500 16 C-15 10 -17 5.500 -17 0 A17 17 0 1 1 17 0 C17 5.500 15 10 11.500 16 C7 24 2.500 31 0 40Z" fill="#000" opacity="0.250" transform="translate(1.500,2)" filter="url(#ps)"/><path d="M0 40 C-2.500 31 -7 24 -11.500 16 C-15 10 -17 5.500 -17 0 A17 17 0 1 1 17 0 C17 5.500 15 10 11.500 16 C7 24 2.500 31 0 40Z" fill="url(#gr)" stroke="#dd3e0b" stroke-width="0.8"/><text x="0" y="5" text-anchor="middle" font-family="Liberation Sans" font-weight="bold" font-size="19" fill="#fff" textLength='20' lengthAdjust='spacingAndGlyphs'>28</text><text x="0" y="19" text-anchor="middle" font-family="Liberation Sans" font-weight="bold" font-size="12" fill="#fff">W</text></g>
<g transform="translate(1332.0,306.0)"><path d="M0 40 C-2.500 31 -7 24 -11.500 16 C-15 10 -17 5.500 -17 0 A17 17 0 1 1 17 0 C17 5.500 15 10 11.500 16 C7 24 2.500 31 0 40Z" fill="#000" opacity="0.250" transform="translate(1.500,2)" filter="url(#ps)"/><path d="M0 40 C-2.500 31 -7 24 -11.500 16 C-15 10 -17 5.500 -17 0 A17 17 0 1 1 17 0 C17 5.500 15 10 11.500 16 C7 24 2.500 31 0 40Z" fill="url(#gg)" stroke="#1f7d00" stroke-width="0.8"/><text x="0" y="5" text-anchor="middle" font-family="Liberation Sans" font-weight="bold" font-size="19" fill="#fff" >9</text></g>
<g transform="translate(1367.0,309.0)"><path d="M0 40 C-2.500 31 -7 24 -11.500 16 C-15 10 -17 5.500 -17 0 A17 17 0 1 1 17 0 C17 5.500 15 10 11.500 16 C7 24 2.500 31 0 40Z" fill="#000" opacity="0.250" transform="translate(1.500,2)" filter="url(#ps)"/><path d="M0 40 C-2.500 31 -7 24 -11.500 16 C-15 10 -17 5.500 -17 0 A17 17 0 1 1 17 0 C17 5.500 15 10 11.500 16 C7 24 2.500 31 0 40Z" fill="url(#gk)" stroke="#bd3f77" stroke-width="0.8"/><text x="0" y="5" text-anchor="middle" font-family="Liberation Sans" font-weight="bold" font-size="19" fill="#fff" >1</text><text x="0" y="19" text-anchor="middle" font-family="Liberation Sans" font-weight="bold" font-size="12" fill="#fff">W</text></g>
<g transform="translate(1580.0,311.0)"><path d="M0 40 C-2.500 31 -7 24 -11.500 16 C-15 10 -17 5.500 -17 0 A17 17 0 1 1 17 0 C17 5.500 15 10 11.500 16 C7 24 2.500 31 0 40Z" fill="#000" opacity="0.250" transform="translate(1.500,2)" filter="url(#ps)"/><path d="M0 40 C-2.500 31 -7 24 -11.500 16 C-15 10 -17 5.500 -17 0 A17 17 0 1 1 17 0 C17 5.500 15 10 11.500 16 C7 24 2.500 31 0 40Z" fill="url(#gb)" stroke="#0482d8" stroke-width="0.8"/><text x="0" y="5" text-anchor="middle" font-family="Liberation Sans" font-weight="bold" font-size="19" fill="#fff" textLength='20' lengthAdjust='spacingAndGlyphs'>10</text><text x="0" y="19" text-anchor="middle" font-family="Liberation Sans" font-weight="bold" font-size="12" fill="#fff">W</text></g>
<g transform="translate(1264.0,324.0)"><path d="M0 40 C-2.500 31 -7 24 -11.500 16 C-15 10 -17 5.500 -17 0 A17 17 0 1 1 17 0 C17 5.500 15 10 11.500 16 C7 24 2.500 31 0 40Z" fill="#000" opacity="0.250" transform="translate(1.500,2)" filter="url(#ps)"/><path d="M0 40 C-2.500 31 -7 24 -11.500 16 C-15 10 -17 5.500 -17 0 A17 17 0 1 1 17 0 C17 5.500 15 10 11.500 16 C7 24 2.500 31 0 40Z" fill="url(#gg)" stroke="#1f7d00" stroke-width="0.8"/><text x="0" y="5" text-anchor="middle" font-family="Liberation Sans" font-weight="bold" font-size="19" fill="#fff" textLength='20' lengthAdjust='spacingAndGlyphs'>19</text></g>
<g transform="translate(1299.0,324.0)"><path d="M0 40 C-2.500 31 -7 24 -11.500 16 C-15 10 -17 5.500 -17 0 A17 17 0 1 1 17 0 C17 5.500 15 10 11.500 16 C7 24 2.500 31 0 40Z" fill="#000" opacity="0.250" transform="translate(1.500,2)" filter="url(#ps)"/><path d="M0 40 C-2.500 31 -7 24 -11.500 16 C-15 10 -17 5.500 -17 0 A17 17 0 1 1 17 0 C17 5.500 15 10 11.500 16 C7 24 2.500 31 0 40Z" fill="url(#gg)" stroke="#1f7d00" stroke-width="0.8"/><text x="0" y="5" text-anchor="middle" font-family="Liberation Sans" font-weight="bold" font-size="19" fill="#fff" textLength='20' lengthAdjust='spacingAndGlyphs'>20</text><text x="0" y="19" text-anchor="middle" font-family="Liberation Sans" font-weight="bold" font-size="12" fill="#fff">W</text></g>
<g transform="translate(1328.0,325.0)"><path d="M0 40 C-2.500 31 -7 24 -11.500 16 C-15 10 -17 5.500 -17 0 A17 17 0 1 1 17 0 C17 5.500 15 10 11.500 16 C7 24 2.500 31 0 40Z" fill="#000" opacity="0.250" transform="translate(1.500,2)" filter="url(#ps)"/><path d="M0 40 C-2.500 31 -7 24 -11.500 16 C-15 10 -17 5.500 -17 0 A17 17 0 1 1 17 0 C17 5.500 15 10 11.500 16 C7 24 2.500 31 0 40Z" fill="url(#gg)" stroke="#1f7d00" stroke-width="0.8"/><text x="0" y="5" text-anchor="middle" font-family="Liberation Sans" font-weight="bold" font-size="19" fill="#fff" >1</text></g>
<g transform="translate(1186.0,329.0)"><path d="M0 40 C-2.500 31 -7 24 -11.500 16 C-15 10 -17 5.500 -17 0 A17 17 0 1 1 17 0 C17 5.500 15 10 11.500 16 C7 24 2.500 31 0 40Z" fill="#000" opacity="0.250" transform="translate(1.500,2)" filter="url(#ps)"/><path d="M0 40 C-2.500 31 -7 24 -11.500 16 C-15 10 -17 5.500 -17 0 A17 17 0 1 1 17 0 C17 5.500 15 10 11.500 16 C7 24 2.500 31 0 40Z" fill="url(#gk)" stroke="#bd3f77" stroke-width="0.8"/><text x="0" y="5" text-anchor="middle" font-family="Liberation Sans" font-weight="bold" font-size="19" fill="#fff" textLength='20' lengthAdjust='spacingAndGlyphs'>15</text><text x="0" y="19" text-anchor="middle" font-family="Liberation Sans" font-weight="bold" font-size="12" fill="#fff">W</text></g>
<g transform="translate(1346.0,331.0)"><path d="M0 40 C-2.500 31 -7 24 -11.500 16 C-15 10 -17 5.500 -17 0 A17 17 0 1 1 17 0 C17 5.500 15 10 11.500 16 C7 24 2.500 31 0 40Z" fill="#000" opacity="0.250" transform="translate(1.500,2)" filter="url(#ps)"/><path d="M0 40 C-2.500 31 -7 24 -11.500 16 C-15 10 -17 5.500 -17 0 A17 17 0 1 1 17 0 C17 5.500 15 10 11.500 16 C7 24 2.500 31 0 40Z" fill="url(#gy)" stroke="#dcca00" stroke-width="0.8"/><text x="0" y="5" text-anchor="middle" font-family="Liberation Sans" font-weight="bold" font-size="19" fill="#fff" >9</text></g>
<g transform="translate(1334.0,341.0)"><path d="M0 40 C-2.500 31 -7 24 -11.500 16 C-15 10 -17 5.500 -17 0 A17 17 0 1 1 17 0 C17 5.500 15 10 11.500 16 C7 24 2.500 31 0 40Z" fill="#000" opacity="0.250" transform="translate(1.500,2)" filter="url(#ps)"/><path d="M0 40 C-2.500 31 -7 24 -11.500 16 C-15 10 -17 5.500 -17 0 A17 17 0 1 1 17 0 C17 5.500 15 10 11.500 16 C7 24 2.500 31 0 40Z" fill="url(#gg)" stroke="#1f7d00" stroke-width="0.8"/><text x="0" y="5" text-anchor="middle" font-family="Liberation Sans" font-weight="bold" font-size="19" fill="#fff" textLength='20' lengthAdjust='spacingAndGlyphs'>22</text><text x="0" y="19" text-anchor="middle" font-family="Liberation Sans" font-weight="bold" font-size="12" fill="#fff">W</text></g>
<g transform="translate(1230.0,343.0)"><path d="M0 40 C-2.500 31 -7 24 -11.500 16 C-15 10 -17 5.500 -17 0 A17 17 0 1 1 17 0 C17 5.500 15 10 11.500 16 C7 24 2.500 31 0 40Z" fill="#000" opacity="0.250" transform="translate(1.500,2)" filter="url(#ps)"/><path d="M0 40 C-2.500 31 -7 24 -11.500 16 C-15 10 -17 5.500 -17 0 A17 17 0 1 1 17 0 C17 5.500 15 10 11.500 16 C7 24 2.500 31 0 40Z" fill="url(#gk)" stroke="#bd3f77" stroke-width="0.8"/><text x="0" y="5" text-anchor="middle" font-family="Liberation Sans" font-weight="bold" font-size="19" fill="#fff" >1</text></g>
<g transform="translate(1249.0,345.0)"><path d="M0 40 C-2.500 31 -7 24 -11.500 16 C-15 10 -17 5.500 -17 0 A17 17 0 1 1 17 0 C17 5.500 15 10 11.500 16 C7 24 2.500 31 0 40Z" fill="#000" opacity="0.250" transform="translate(1.500,2)" filter="url(#ps)"/><path d="M0 40 C-2.500 31 -7 24 -11.500 16 C-15 10 -17 5.500 -17 0 A17 17 0 1 1 17 0 C17 5.500 15 10 11.500 16 C7 24 2.500 31 0 40Z" fill="url(#gk)" stroke="#bd3f77" stroke-width="0.8"/><text x="0" y="5" text-anchor="middle" font-family="Liberation Sans" font-weight="bold" font-size="19" fill="#fff" >9</text></g>
<g transform="translate(1366.0,352.0)"><path d="M0 40 C-2.500 31 -7 24 -11.500 16 C-15 10 -17 5.500 -17 0 A17 17 0 1 1 17 0 C17 5.500 15 10 11.500 16 C7 24 2.500 31 0 40Z" fill="#000" opacity="0.250" transform="translate(1.500,2)" filter="url(#ps)"/><path d="M0 40 C-2.500 31 -7 24 -11.500 16 C-15 10 -17 5.500 -17 0 A17 17 0 1 1 17 0 C17 5.500 15 10 11.500 16 C7 24 2.500 31 0 40Z" fill="url(#gg)" stroke="#1f7d00" stroke-width="0.8"/><text x="0" y="5" text-anchor="middle" font-family="Liberation Sans" font-weight="bold" font-size="19" fill="#fff" textLength='20' lengthAdjust='spacingAndGlyphs'>24</text></g>
<g transform="translate(1260.0,362.0)"><path d="M0 40 C-2.500 31 -7 24 -11.500 16 C-15 10 -17 5.500 -17 0 A17 17 0 1 1 17 0 C17 5.500 15 10 11.500 16 C7 24 2.500 31 0 40Z" fill="#000" opacity="0.250" transform="translate(1.500,2)" filter="url(#ps)"/><path d="M0 40 C-2.500 31 -7 24 -11.500 16 C-15 10 -17 5.500 -17 0 A17 17 0 1 1 17 0 C17 5.500 15 10 11.500 16 C7 24 2.500 31 0 40Z" fill="url(#gk)" stroke="#bd3f77" stroke-width="0.8"/><text x="0" y="5" text-anchor="middle" font-family="Liberation Sans" font-weight="bold" font-size="19" fill="#fff" >7</text></g>
<g transform="translate(1271.0,373.0)"><path d="M0 40 C-2.500 31 -7 24 -11.500 16 C-15 10 -17 5.500 -17 0 A17 17 0 1 1 17 0 C17 5.500 15 10 11.500 16 C7 24 2.500 31 0 40Z" fill="#000" opacity="0.250" transform="translate(1.500,2)" filter="url(#ps)"/><path d="M0 40 C-2.500 31 -7 24 -11.500 16 C-15 10 -17 5.500 -17 0 A17 17 0 1 1 17 0 C17 5.500 15 10 11.500 16 C7 24 2.500 31 0 40Z" fill="url(#gk)" stroke="#bd3f77" stroke-width="0.8"/><text x="0" y="5" text-anchor="middle" font-family="Liberation Sans" font-weight="bold" font-size="19" fill="#fff" >4</text></g>
<g transform="translate(1365.0,378.0)"><path d="M0 40 C-2.500 31 -7 24 -11.500 16 C-15 10 -17 5.500 -17 0 A17 17 0 1 1 17 0 C17 5.500 15 10 11.500 16 C7 24 2.500 31 0 40Z" fill="#000" opacity="0.250" transform="translate(1.500,2)" filter="url(#ps)"/><path d="M0 40 C-2.500 31 -7 24 -11.500 16 C-15 10 -17 5.500 -17 0 A17 17 0 1 1 17 0 C17 5.500 15 10 11.500 16 C7 24 2.500 31 0 40Z" fill="url(#gg)" stroke="#1f7d00" stroke-width="0.8"/><text x="0" y="5" text-anchor="middle" font-family="Liberation Sans" font-weight="bold" font-size="19" fill="#fff" textLength='20' lengthAdjust='spacingAndGlyphs'>28</text><text x="0" y="19" text-anchor="middle" font-family="Liberation Sans" font-weight="bold" font-size="12" fill="#fff">W</text></g>
<g transform="translate(1262.0,388.0)"><path d="M0 40 C-2.500 31 -7 24 -11.500 16 C-15 10 -17 5.500 -17 0 A17 17 0 1 1 17 0 C17 5.500 15 10 11.500 16 C7 24 2.500 31 0 40Z" fill="#000" opacity="0.250" transform="translate(1.500,2)" filter="url(#ps)"/><path d="M0 40 C-2.500 31 -7 24 -11.500 16 C-15 10 -17 5.500 -17 0 A17 17 0 1 1 17 0 C17 5.500 15 10 11.500 16 C7 24 2.500 31 0 40Z" fill="url(#gk)" stroke="#bd3f77" stroke-width="0.8"/><text x="0" y="5" text-anchor="middle" font-family="Liberation Sans" font-weight="bold" font-size="19" fill="#fff" >2</text><text x="0" y="19" text-anchor="middle" font-family="Liberation Sans" font-weight="bold" font-size="12" fill="#fff">W</text></g>
<g transform="translate(1281.0,388.5)"><path d="M0 40 C-2.500 31 -7 24 -11.500 16 C-15 10 -17 5.500 -17 0 A17 17 0 1 1 17 0 C17 5.500 15 10 11.500 16 C7 24 2.500 31 0 40Z" fill="#000" opacity="0.250" transform="translate(1.500,2)" filter="url(#ps)"/><path d="M0 40 C-2.500 31 -7 24 -11.500 16 C-15 10 -17 5.500 -17 0 A17 17 0 1 1 17 0 C17 5.500 15 10 11.500 16 C7 24 2.500 31 0 40Z" fill="url(#gy)" stroke="#dcca00" stroke-width="0.8"/><text x="0" y="5" text-anchor="middle" font-family="Liberation Sans" font-weight="bold" font-size="19" fill="#fff" textLength='20' lengthAdjust='spacingAndGlyphs'>22</text><text x="0" y="19" text-anchor="middle" font-family="Liberation Sans" font-weight="bold" font-size="12" fill="#fff">W</text></g>
<g transform="translate(1422.0,390.0)"><path d="M0 40 C-2.500 31 -7 24 -11.500 16 C-15 10 -17 5.500 -17 0 A17 17 0 1 1 17 0 C17 5.500 15 10 11.500 16 C7 24 2.500 31 0 40Z" fill="#000" opacity="0.250" transform="translate(1.500,2)" filter="url(#ps)"/><path d="M0 40 C-2.500 31 -7 24 -11.500 16 C-15 10 -17 5.500 -17 0 A17 17 0 1 1 17 0 C17 5.500 15 10 11.500 16 C7 24 2.500 31 0 40Z" fill="url(#gg)" stroke="#1f7d00" stroke-width="0.8"/><text x="0" y="5" text-anchor="middle" font-family="Liberation Sans" font-weight="bold" font-size="19" fill="#fff" textLength='20' lengthAdjust='spacingAndGlyphs'>30</text></g>
<g transform="translate(1303.0,399.0)"><path d="M0 40 C-2.500 31 -7 24 -11.500 16 C-15 10 -17 5.500 -17 0 A17 17 0 1 1 17 0 C17 5.500 15 10 11.500 16 C7 24 2.500 31 0 40Z" fill="#000" opacity="0.250" transform="translate(1.500,2)" filter="url(#ps)"/><path d="M0 40 C-2.500 31 -7 24 -11.500 16 C-15 10 -17 5.500 -17 0 A17 17 0 1 1 17 0 C17 5.500 15 10 11.500 16 C7 24 2.500 31 0 40Z" fill="url(#gy)" stroke="#dcca00" stroke-width="0.8"/><text x="0" y="5" text-anchor="middle" font-family="Liberation Sans" font-weight="bold" font-size="19" fill="#fff" textLength='20' lengthAdjust='spacingAndGlyphs'>18</text><text x="0" y="19" text-anchor="middle" font-family="Liberation Sans" font-weight="bold" font-size="12" fill="#fff">W</text></g>
<g transform="translate(1419.0,403.0)"><path d="M0 40 C-2.500 31 -7 24 -11.500 16 C-15 10 -17 5.500 -17 0 A17 17 0 1 1 17 0 C17 5.500 15 10 11.500 16 C7 24 2.500 31 0 40Z" fill="#000" opacity="0.250" transform="translate(1.500,2)" filter="url(#ps)"/><path d="M0 40 C-2.500 31 -7 24 -11.500 16 C-15 10 -17 5.500 -17 0 A17 17 0 1 1 17 0 C17 5.500 15 10 11.500 16 C7 24 2.500 31 0 40Z" fill="url(#gg)" stroke="#1f7d00" stroke-width="0.8"/><text x="0" y="5" text-anchor="middle" font-family="Liberation Sans" font-weight="bold" font-size="19" fill="#fff" textLength='20' lengthAdjust='spacingAndGlyphs'>31</text><text x="0" y="19" text-anchor="middle" font-family="Liberation Sans" font-weight="bold" font-size="12" fill="#fff">W</text></g>
<g transform="translate(1358.0,421.0)"><path d="M0 40 C-2.500 31 -7 24 -11.500 16 C-15 10 -17 5.500 -17 0 A17 17 0 1 1 17 0 C17 5.500 15 10 11.500 16 C7 24 2.500 31 0 40Z" fill="#000" opacity="0.250" transform="translate(1.500,2)" filter="url(#ps)"/><path d="M0 40 C-2.500 31 -7 24 -11.500 16 C-15 10 -17 5.500 -17 0 A17 17 0 1 1 17 0 C17 5.500 15 10 11.500 16 C7 24 2.500 31 0 40Z" fill="url(#gy)" stroke="#dcca00" stroke-width="0.8"/><text x="0" y="5" text-anchor="middle" font-family="Liberation Sans" font-weight="bold" font-size="19" fill="#fff" >3</text><text x="0" y="19" text-anchor="middle" font-family="Liberation Sans" font-weight="bold" font-size="12" fill="#fff">W</text></g>
<g transform="translate(1488.0,458.0)"><path d="M0 40 C-2.500 31 -7 24 -11.500 16 C-15 10 -17 5.500 -17 0 A17 17 0 1 1 17 0 C17 5.500 15 10 11.500 16 C7 24 2.500 31 0 40Z" fill="#000" opacity="0.250" transform="translate(1.500,2)" filter="url(#ps)"/><path d="M0 40 C-2.500 31 -7 24 -11.500 16 C-15 10 -17 5.500 -17 0 A17 17 0 1 1 17 0 C17 5.500 15 10 11.500 16 C7 24 2.500 31 0 40Z" fill="url(#gd)" stroke="#1b5e9e" stroke-width="0.8"/><circle cx="0" cy="0" r="5.500" fill="#fff"/></g>
<g transform="translate(1386.0,488.0)"><path d="M0 40 C-2.500 31 -7 24 -11.500 16 C-15 10 -17 5.500 -17 0 A17 17 0 1 1 17 0 C17 5.500 15 10 11.500 16 C7 24 2.500 31 0 40Z" fill="#000" opacity="0.250" transform="translate(1.500,2)" filter="url(#ps)"/><path d="M0 40 C-2.500 31 -7 24 -11.500 16 C-15 10 -17 5.500 -17 0 A17 17 0 1 1 17 0 C17 5.500 15 10 11.500 16 C7 24 2.500 31 0 40Z" fill="url(#gy)" stroke="#dcca00" stroke-width="0.8"/><text x="0" y="5" text-anchor="middle" font-family="Liberation Sans" font-weight="bold" font-size="19" fill="#fff" >6</text></g>
<g transform="translate(1106.0,155.0)"><circle r="9" fill="#ee1fb0"/><rect x="-5" y="-2" width="3.500" height="3.500" fill="#fff"/><rect x="1.500" y="-2" width="3.500" height="3.500" fill="#fff"/></g>
<g transform="translate(1114.0,168.0)"><circle r="9" fill="#ee1fb0"/><rect x="-5" y="-2" width="3.500" height="3.500" fill="#fff"/><rect x="1.500" y="-2" width="3.500" height="3.500" fill="#fff"/></g>
<g transform="translate(1189.0,183.0)"><circle r="9" fill="#ee1fb0"/><rect x="-5" y="-2" width="3.500" height="3.500" fill="#fff"/><rect x="1.500" y="-2" width="3.500" height="3.500" fill="#fff"/></g>
<g transform="translate(1098.0,223.0)"><circle r="9" fill="#ee1fb0"/><rect x="-5" y="-2" width="3.500" height="3.500" fill="#fff"/><rect x="1.500" y="-2" width="3.500" height="3.500" fill="#fff"/></g>
<g transform="translate(1198.0,231.0)"><circle r="9" fill="#ee1fb0"/><rect x="-5" y="-2" width="3.500" height="3.500" fill="#fff"/><rect x="1.500" y="-2" width="3.500" height="3.500" fill="#fff"/></g>
<g transform="translate(1192.0,247.0)"><circle r="9" fill="#ee1fb0"/><rect x="-5" y="-2" width="3.500" height="3.500" fill="#fff"/><rect x="1.500" y="-2" width="3.500" height="3.500" fill="#fff"/></g>
<g transform="translate(1139.0,265.0)"><circle r="9" fill="#ee1fb0"/><rect x="-5" y="-2" width="3.500" height="3.500" fill="#fff"/><rect x="1.500" y="-2" width="3.500" height="3.500" fill="#fff"/></g>
<g transform="translate(1342.0,171.0)"><circle r="9" fill="#ee1fb0"/><rect x="-5" y="-2" width="3.500" height="3.500" fill="#fff"/><rect x="1.500" y="-2" width="3.500" height="3.500" fill="#fff"/></g>
<g transform="translate(1467.0,178.0)"><circle r="9" fill="#ee1fb0"/><rect x="-5" y="-2" width="3.500" height="3.500" fill="#fff"/><rect x="1.500" y="-2" width="3.500" height="3.500" fill="#fff"/></g>
<g transform="translate(1471.0,192.0)"><circle r="9" fill="#ee1fb0"/><rect x="-5" y="-2" width="3.500" height="3.500" fill="#fff"/><rect x="1.500" y="-2" width="3.500" height="3.500" fill="#fff"/></g>
<g transform="translate(1308.0,228.0)"><circle r="9" fill="#ee1fb0"/><rect x="-5" y="-2" width="3.500" height="3.500" fill="#fff"/><rect x="1.500" y="-2" width="3.500" height="3.500" fill="#fff"/></g>
<g transform="translate(1281.0,290.0)"><circle r="9" fill="#ee1fb0"/><rect x="-5" y="-2" width="3.500" height="3.500" fill="#fff"/><rect x="1.500" y="-2" width="3.500" height="3.500" fill="#fff"/></g>
<g transform="translate(1384.0,290.0)"><circle r="9" fill="#ee1fb0"/><rect x="-5" y="-2" width="3.500" height="3.500" fill="#fff"/><rect x="1.500" y="-2" width="3.500" height="3.500" fill="#fff"/></g>
<g transform="translate(1345.0,310.0)"><circle r="9" fill="#ee1fb0"/><rect x="-5" y="-2" width="3.500" height="3.500" fill="#fff"/><rect x="1.500" y="-2" width="3.500" height="3.500" fill="#fff"/></g>
<g transform="translate(1380.0,336.0)"><circle r="9" fill="#ee1fb0"/><rect x="-5" y="-2" width="3.500" height="3.500" fill="#fff"/><rect x="1.500" y="-2" width="3.500" height="3.500" fill="#fff"/></g>
<g transform="translate(1272.0,349.0)"><circle r="9" fill="#ee1fb0"/><rect x="-5" y="-2" width="3.500" height="3.500" fill="#fff"/><rect x="1.500" y="-2" width="3.500" height="3.500" fill="#fff"/></g>
<g transform="translate(1383.0,359.0)"><circle r="9" fill="#ee1fb0"/><rect x="-5" y="-2" width="3.500" height="3.500" fill="#fff"/><rect x="1.500" y="-2" width="3.500" height="3.500" fill="#fff"/></g>
<g transform="translate(1295.0,370.0)"><circle r="9" fill="#ee1fb0"/><rect x="-5" y="-2" width="3.500" height="3.500" fill="#fff"/><rect x="1.500" y="-2" width="3.500" height="3.500" fill="#fff"/></g>
<g transform="translate(1317.0,384.0)"><circle r="9" fill="#ee1fb0"/><rect x="-5" y="-2" width="3.500" height="3.500" fill="#fff"/><rect x="1.500" y="-2" width="3.500" height="3.500" fill="#fff"/></g>
<g transform="translate(1372.0,405.0)"><circle r="9" fill="#ee1fb0"/><rect x="-5" y="-2" width="3.500" height="3.500" fill="#fff"/><rect x="1.500" y="-2" width="3.500" height="3.500" fill="#fff"/></g>
<g transform="translate(1400.0,473.0)"><circle r="9" fill="#ee1fb0"/><rect x="-5" y="-2" width="3.500" height="3.500" fill="#fff"/><rect x="1.500" y="-2" width="3.500" height="3.500" fill="#fff"/></g>
<g transform="translate(829.0,154.0)"><circle r="9" fill="#ee1fb0"/><rect x="-5" y="-2" width="3.500" height="3.500" fill="#fff"/><rect x="1.500" y="-2" width="3.500" height="3.500" fill="#fff"/></g>
<g transform="translate(865.0,135.0)"><circle r="9" fill="#ee1fb0"/><rect x="-5" y="-2" width="3.500" height="3.500" fill="#fff"/><rect x="1.500" y="-2" width="3.500" height="3.500" fill="#fff"/></g>
<g transform="translate(1400.0,288.5)"><path d="M0 40 C-2.500 31 -7 24 -11.500 16 C-15 10 -17 5.500 -17 0 A17 17 0 1 1 17 0 C17 5.500 15 10 11.500 16 C7 24 2.500 31 0 40Z" fill="#000" opacity="0.250" transform="translate(1.500,2)" filter="url(#ps)"/><path d="M0 40 C-2.500 31 -7 24 -11.500 16 C-15 10 -17 5.500 -17 0 A17 17 0 1 1 17 0 C17 5.500 15 10 11.500 16 C7 24 2.500 31 0 40Z" fill="url(#gw)" stroke="#2b8cf0" stroke-width="2"/><text x="0" y="3" text-anchor="middle" font-family="Liberation Sans" font-weight="bold" font-size="15" fill="#111" >3</text><text x="0" y="21" text-anchor="middle" font-family="Liberation Sans" font-weight="bold" font-size="12" fill="#111">W</text></g>
</svg>
<div class="a" style="left:455px;top:121px;width:44px;height:88px;background:#fff;border-radius:5px;border:2.500px solid rgba(0,0,0,0.280);background-clip:padding-box"></div>
<div class="a" style="left:458px;top:165px;width:38px;height:1px;background:#ccc"></div>
<div class="t" style="left:477px;top:145px;font-size:34px;color:#000;font-weight:bold;transform:translate(-50%,-50%);">+</div>
<div class="t" style="left:477px;top:187px;font-size:34px;color:#000;font-weight:bold;transform:translate(-50%,-50%);">&minus;</div>
<div class="a" style="left:455px;top:225px;width:44px;height:46px;background:#fff;border-radius:5px;border:2.500px solid rgba(0,0,0,0.280);background-clip:padding-box"></div>
<div class="a" style="left:455px;top:271px;width:44px;height:46px;background:#fff;border-radius:5px;border:2.500px solid rgba(0,0,0,0.280);background-clip:padding-box"></div>
<svg style="left:467px;top:237px" width="20" height="20" viewBox="0 0 20 20"><path d="M9 1.500 L18 7.500 L15.500 17.500 L3.500 18.500 L1.500 8Z" fill="#464646"/></svg>
<div class="a" style="left:470px;top:286px;width:14px;height:15px;background:#464646"></div>
<div class="a" style="left:2056px;top:119.5px;width:20px;height:68px;background:#fff;border-radius:5px;border:2px solid rgba(0,0,0,0.250);background-clip:padding-box"></div>
<div class="a" style="left:452px;top:424px;width:255px;height:56px;background:rgba(28,43,73,0.920);border-radius:10px"></div>
<div class="t" style="left:470px;top:453.5px;font-size:18.25px;color:#fff;font-weight:normal;transform:translate(0,-50%);">1 Order selected</div>
<div class="a" style="left:667px;top:441px;width:23px;height:23px;background:#2b8cf0;border-radius:50%"></div>
<svg style="left:672px;top:446px" width="13" height="13" viewBox="0 0 13 13" stroke="#fff" stroke-width="2.600" stroke-linecap="round"><path d="M2 2L11 11M11 2L2 11"/></svg>
<div class="a" style="left:1915px;top:470px;width:154px;height:24px;background:rgba(255,255,255,0.800)"></div>
<div class="a" style="left:1921px;top:476px;width:17px;height:6px;background:#4a6fd8"></div>
<div class="a" style="left:1921px;top:482px;width:17px;height:6px;background:#f5d800"></div>
<div class="t" style="left:1943px;top:482px;font-size:17px;color:#333;font-weight:normal;transform:translate(0,-50%);"><span style="color:#1a73c7">Leaflet</span> <span style="color:#333">| MapBox</span></div>
<div class="a" style="left:439px;top:504px;width:1630px;height:60px;background:#030d21"></div>
<div class="a" style="left:450px;top:513px;width:45px;height:45px;background:#8f3a1f;border-radius:50%"></div>
<svg style="left:458px;top:520px" width="30" height="32" viewBox="0 0 30 32" fill="none" stroke="#a8948e" stroke-width="1.800" stroke-linejoin="round" stroke-linecap="round"><path d="M11 2.500h12a2 2 0 0 1 2 2v23a2 2 0 0 1-2 2H9a2 2 0 0 1-2-2v-7M7 8V4.500a2 2 0 0 1 2-2h2"/><path d="M7 25h18"/><path d="M3 20c0-5 3-7.500 9-7.500v-3.500l7 6-7 6v-3.500c-4 0-6.500 0.500-9 2.500z"/></svg>
<div class="t" style="left:501px;top:525px;font-size:17px;color:#a9adb6;font-weight:normal;transform:translate(0,-50%);">Routes not yet shared with drivers.</div>
<div class="t" style="left:501px;top:546px;font-size:17px;color:#1c64ba;font-weight:normal;transform:translate(0,-50%);"><span style="text-decoration:underline">Send routes</span></div>
<div class="a" style="left:1943px;top:517px;width:13px;height:13px;background:#8f3a1f;border-radius:50%"></div>
<div class="t" style="left:1964px;top:524px;font-size:15.5px;color:#a3a7b0;font-weight:normal;transform:translate(0,-50%);">Routes: not sent</div>
<div class="a" style="left:1836px;top:541px;width:13px;height:13px;background:#8f3a1f;border-radius:50%"></div>
<div class="t" style="left:1857px;top:548px;font-size:15.5px;color:#a3a7b0;font-weight:normal;transform:translate(0,-50%);">Customer notifications: not sent</div>
<div class="a" style="left:439px;top:564px;width:1630px;height:57px;background:#848994"></div>
<div class="a" style="left:430px;top:500px;width:9.5px;height:166px;background:#747b88"></div>
<div class="a" style="left:474px;top:577px;width:165px;height:30px;border:1px solid #6a7382;border-radius:5px;background:#888d98"></div>
<div class="a" style="left:615px;top:578px;width:1px;height:28px;background:#6a7382"></div>
<div class="t" style="left:482px;top:593px;font-size:18px;color:#0d1422;font-weight:normal;transform:translate(0,-50%);">19.06.2024</div>
<svg style="left:618px;top:583px" width="18" height="19" viewBox="0 0 18 19" fill="none" stroke="#0d1422" stroke-width="2"><rect x="1.500" y="3.500" width="15" height="14" rx="1.500"/><rect x="1.500" y="3.500" width="15" height="4.500" fill="#0d1422" stroke="none"/><path d="M5 1v3M13 1v3" stroke-linecap="round"/><rect x="10" y="11" width="3.500" height="3.500" fill="#0d1422" stroke="none"/></svg>
<div class="a" style="left:647px;top:577px;width:109px;height:30px;border:1px solid #6a7382;border-radius:5px;background:#888d98"></div>
<div class="a" style="left:733px;top:578px;width:1px;height:28px;background:#6a7382"></div>
<div class="t" style="left:654px;top:593px;font-size:18px;color:#0d1422;font-weight:normal;transform:translate(0,-50%);">Day</div>
<svg style="left:738px;top:588px" width="12" height="8" viewBox="0 0 12 8" fill="none" stroke="#0d1422" stroke-width="1.800" stroke-linecap="round" stroke-linejoin="round"><path d="M1.500 1.500L6 6l4.500-4.500"/></svg>
<div class="a" style="left:762px;top:569px;width:167px;height:45px;background:#1458ac;border-radius:3px"></div>
<svg style="left:776px;top:581px" width="17" height="21" viewBox="0 0 17 21" fill="none" stroke="#86a4cc" stroke-width="1.700" stroke-linejoin="round"><path d="M2.500 1.500h8l4.500 4.500v12a1.500 1.500 0 0 1-1.500 1.500h-11a1.500 1.500 0 0 1-1.500-1.500v-15a1.500 1.500 0 0 1 1.500-1.500z"/><path d="M8.500 15v-6M5.800 11.300l2.700-2.800 2.700 2.800" stroke-linecap="round" stroke-width="2"/></svg>
<div class="t" style="left:803px;top:593px;font-size:17.1px;color:#86a4cc;font-weight:normal;transform:translate(0,-50%);">Import Orders</div>
<div class="a" style="left:934px;top:569px;width:165px;height:45px;background:#1458ac;border-radius:3px"></div>
<svg style="left:946px;top:582px" width="20" height="21" viewBox="0 0 20 21" fill="none" stroke="#86a4cc" stroke-width="1.700" stroke-linejoin="round"><rect x="1.500" y="3.500" width="17" height="16" rx="2"/><path d="M1.500 8h17M6 1v4M14 1v4"/><path d="M5.500 11.500h1.500M9.300 11.500h1.500M13 11.500h1.500M5.500 15.500h1.500M9.300 15.500h1.500M13 15.500h1.500" stroke-width="2"/></svg>
<div class="t" style="left:975px;top:593px;font-size:17.1px;color:#86a4cc;font-weight:normal;transform:translate(0,-50%);">Plan Routes</div>
<svg style="left:1073px;top:589px" width="11" height="7" viewBox="0 0 11 7"><path d="M0 0h11L5.500 7z" fill="#86a4cc"/></svg>
<div class="a" style="left:1105px;top:569px;width:176px;height:45px;background:#1458ac;border-radius:3px"></div>
<svg style="left:1116px;top:582px" width="24" height="20" viewBox="0 0 24 20" fill="none" stroke="#86a4cc" stroke-width="1.800" stroke-linejoin="round" stroke-linecap="round"><path d="M14 2l8 7-8 7v-4.200C7.500 11.800 4 13.500 2 18c0-6.500 4-11.500 12-11.800z"/></svg>
<div class="t" style="left:1146px;top:593px;font-size:17.1px;color:#86a4cc;font-weight:normal;transform:translate(0,-50%);">Share Routes</div>
<svg style="left:1255px;top:589px" width="11" height="7" viewBox="0 0 11 7"><path d="M0 0h11L5.500 7z" fill="#86a4cc"/></svg>
<div class="a" style="left:1732px;top:569px;width:45px;height:45px;background:#848994;border:1px solid #717887;border-radius:4px"></div>
<div class="a" style="left:1783px;top:569px;width:45px;height:45px;background:#6e7582;border:1px solid #747b88;border-radius:4px"></div>
<div class="a" style="left:1834px;top:569px;width:45px;height:45px;background:#6e7582;border:1px solid #747b88;border-radius:4px"></div>
<div class="a" style="left:1885px;top:569px;width:45px;height:45px;background:#6e7582;border:1px solid #747b88;border-radius:4px"></div>
<div class="a" style="left:1936px;top:569px;width:45px;height:45px;background:#6e7582;border:1px solid #747b88;border-radius:4px"></div>
<div class="a" style="left:1987px;top:569px;width:45px;height:45px;background:#848994;border:1px solid #717887;border-radius:4px"></div>
<div class="a" style="left:2038px;top:569px;width:45px;height:45px;background:#6e7582;border:1px solid #747b88;border-radius:4px"></div>
<svg style="left:1741px;top:578px" width="27" height="27" viewBox="0 0 27 27" fill="none" stroke="#0b1120" stroke-width="2.300" stroke-linecap="round"><path d="M22 8.500A10 10 0 1 0 23.500 14"/><path d="M23.500 3v6.500h-6.500" fill="#0b1120" stroke-linejoin="round"/></svg>
<svg style="left:1793px;top:579px" width="25" height="27" viewBox="0 0 25 27"><rect x="1" y="10" width="23" height="16" rx="2.500" fill="#0b1120"/><path d="M6.500 10V7a6 6 0 0 1 12 0v3" fill="none" stroke="#0b1120" stroke-width="2.800"/><circle cx="12.500" cy="18" r="2.600" fill="#6e7582"/></svg>
<svg style="left:1845px;top:579px" width="24" height="27" viewBox="0 0 24 27"><path d="M1 1h22v18h-7l-4 6-4-6H1z" fill="#0b1120"/><path d="M12 5l1.700 3.600 3.800 0.400-2.900 2.500 0.900 3.800L12 13.300 8.500 15.300l0.900-3.800L6.500 9l3.800-0.400z" fill="#6e7582"/></svg>
<svg style="left:1897px;top:579px" width="20" height="28" viewBox="0 0 20 28"><path d="M10 0.500C4.700 0.500 0.500 4.600 0.500 9.800 0.500 16.500 10 27.500 10 27.500s9.500-11 9.500-17.700C19.500 4.600 15.300 0.500 10 0.500z" fill="#0b1120"/><circle cx="10" cy="10" r="3.600" fill="#6e7582"/></svg>
<svg style="left:1940px;top:574px" width="36" height="36" viewBox="0 0 36 36"><path d="M9 31.479999999999997 C7.04 27.56 3.4000000000000004 24.2 3.4000000000000004 20 A5.6 5.6 0 1 1 14.6 20 C14.6 24.2 10.959999999999999 27.56 9 31.479999999999997Z" fill="#0b1120"/><circle cx="9" cy="20" r="2.1" fill="#6e7582"/><path d="M27 19.16 C25.18 15.52 21.8 12.4 21.8 8.5 A5.2 5.2 0 1 1 32.2 8.5 C32.2 12.4 28.82 15.52 27 19.16Z" fill="#0b1120"/><circle cx="27" cy="8.5" r="2" fill="#6e7582"/><path d="M9 31.500 C14 33.500 21 32 21 27.500 C21 24 18.500 22.500 27 19" fill="none" stroke="#0b1120" stroke-width="2.600" stroke-linecap="round"/></svg>
<svg style="left:1990px;top:573px" width="38" height="38" viewBox="0 0 38 38"><path d="M8 14.29 C6.67 11.629999999999999 4.2 9.35 4.2 6.5 A3.8 3.8 0 1 1 11.8 6.5 C11.8 9.35 9.33 11.629999999999999 8 14.29Z" fill="#0b1120"/><circle cx="8" cy="6.5" r="1.5" fill="#848994"/><path d="M30 21.29 C28.67 18.63 26.2 16.35 26.2 13.5 A3.8 3.8 0 1 1 33.8 13.5 C33.8 16.35 31.33 18.63 30 21.29Z" fill="#0b1120"/><circle cx="30" cy="13.5" r="1.5" fill="#848994"/><path d="M8 34.79 C6.67 32.13 4.2 29.85 4.2 27 A3.8 3.8 0 1 1 11.8 27 C11.8 29.85 9.33 32.13 8 34.79Z" fill="#0b1120"/><circle cx="8" cy="27" r="1.5" fill="#848994"/><path d="M8 14.500 L30 21.300 L8 34.800" fill="none" stroke="#0b1120" stroke-width="2.400" stroke-linecap="round" stroke-linejoin="round"/></svg>
<svg style="left:2046px;top:576px" width="32" height="32" viewBox="0 0 32 32"><circle cx="16" cy="16" r="14" fill="none" stroke="#0b1120" stroke-width="2.600"/><path d="M5 10c4-1 6 1 8 3s0 5 3 7 1 6-2 9c-6-2-10-8-9-19zM14 3c3 1 6 0 8 3s-3 4-1 7 7 2 9 6" fill="#0b1120" stroke="#0b1120" stroke-width="1"/></svg>
<div class="a" style="left:439px;top:621px;width:1630px;height:44px;background:#767e8a"></div>
<div class="a" style="left:447px;top:627px;width:226px;height:40px;background:#7a818d;border:1.500px solid #51678a;border-bottom:none;border-radius:7px 7px 0 0"></div>
<div class="t" style="left:560.0px;top:647px;font-size:17px;color:#3d4757;font-weight:bold;transform:translate(-50%,-50%);">Orders</div>
<div class="a" style="left:676px;top:627px;width:225px;height:40px;background:#7a818d;border:1.500px solid #51678a;border-bottom:none;border-radius:7px 7px 0 0"></div>
<div class="t" style="left:788.5px;top:647px;font-size:17px;color:#3d4757;font-weight:bold;transform:translate(-50%,-50%);">Routes</div>
<div class="a" style="left:1138px;top:627px;width:222px;height:40px;background:#7a818d;border:1.500px solid #51678a;border-bottom:none;border-radius:7px 7px 0 0"></div>
<svg style="left:1178px;top:640px" width="16" height="15" viewBox="0 0 16 15"><path d="M8 0.500L15.500 14.500H0.500z" fill="#a08458"/><rect x="7.200" y="5" width="1.600" height="5" fill="#5a4630"/><rect x="7.200" y="11" width="1.600" height="1.800" fill="#5a4630"/></svg>
<div class="t" style="left:1257.0px;top:647px;font-size:17px;color:#3d4757;font-weight:bold;transform:translate(-50%,-50%);">Not Scheduled</div>
<div class="a" style="left:898px;top:621px;width:240px;height:46px;background:#e7ecf1;border-radius:9px 9px 0 0"></div>
<div class="a" style="left:899.5px;top:632px;width:1.5px;height:33px;background:#6f85a6"></div>
<div class="a" style="left:1135px;top:632px;width:1.5px;height:33px;background:#6f85a6"></div>
<div class="a" style="left:903px;top:627px;width:230px;height:40px;background:#fff;border-radius:6px 6px 0 0"></div>
<div class="t" style="left:1017px;top:647px;font-size:17px;color:#0a0a0a;font-weight:bold;transform:translate(-50%,-50%);">Timeline</div>
<div class="a" style="left:434px;top:664px;width:1635px;height:498px;background:#fff;border-radius:8px 0 0 0"></div>
<div class="t" style="left:460.5px;top:690px;font-size:17.2px;color:#111;font-weight:normal;transform:translate(0,-50%);">Zoom:</div>
<div class="a" style="left:532px;top:686px;width:140px;height:8px;background:#c3d1df;border-radius:4px"></div>
<div class="a" style="left:532px;top:686px;width:105px;height:8px;background:#6f8fb5;border-radius:4px"></div>
<div class="a" style="left:631px;top:678px;width:17px;height:23px;background:#6f8fb5;border:1.500px solid #45658f;border-radius:3px"></div>
<div class="a" style="left:638px;top:683px;width:3px;height:13px;background:#fff;border-radius:1px"></div>
<div class="a" style="left:676px;top:675px;width:91px;height:30px;background:#f2f5f9;border:1px solid #b3c0d2;border-radius:2px"></div>
<svg style="left:681px;top:680px" width="21" height="20" viewBox="0 0 21 20"><rect x="5" y="0.500" width="11" height="5" rx="0.500" fill="#1f86f0"/><rect x="0.500" y="6.500" width="20" height="9" rx="2" fill="#1f86f0"/><rect x="5" y="11.500" width="11" height="7.500" fill="#fff" stroke="#1f86f0" stroke-width="1.600"/></svg>
<div class="t" style="left:708px;top:690px;font-size:17px;color:#111;font-weight:normal;transform:translate(0,-50%);">Print...</div>
<div class="a" style="left:785px;top:675px;width:101px;height:30px;background:#f2f5f9;border:1px solid #b3c0d2;border-radius:2px"></div>
<svg style="left:788px;top:678px" width="24" height="24" viewBox="0 0 24 24" fill="none" stroke="#1f86f0" stroke-width="2" stroke-linejoin="round"><circle cx="12" cy="12" r="3.600"/><path d="M10.07 4.24 L10.48 1.31 L13.52 1.31 L13.93 4.24 L16.13 5.15 L18.48 3.36 L20.64 5.52 L18.85 7.87 L19.76 10.07 L22.69 10.48 L22.69 13.52 L19.76 13.93 L18.85 16.13 L20.64 18.48 L18.48 20.64 L16.13 18.85 L13.93 19.76 L13.52 22.69 L10.48 22.69 L10.07 19.76 L7.87 18.85 L5.52 20.64 L3.36 18.48 L5.15 16.13 L4.24 13.93 L1.31 13.52 L1.31 10.48 L4.24 10.07 L5.15 7.87 L3.36 5.52 L5.52 3.36 L7.87 5.15 Z"/></svg>
<div class="t" style="left:817px;top:690px;font-size:17.3px;color:#111;font-weight:normal;transform:translate(0,-50%);">Options</div>
<div class="a" style="left:434px;top:708px;width:1635px;height:1px;background:#dfe3e8"></div>
<div class="a" style="left:434px;top:709px;width:7px;height:453px;background:#eef1f5"></div>
<div class="a" style="left:652px;top:751px;width:1417px;height:1px;background:#e4e4e4"></div>
<div class="t" style="left:657.5px;top:731px;font-size:17.2px;color:#111;font-weight:normal;transform:translate(0,-50%);">19/06/2024</div>
<div class="a" style="left:652px;top:751px;width:1px;height:44px;background:#e0e0e0"></div>
<div class="a" style="left:652px;top:1137px;width:1px;height:25px;background:#e6e6e6"></div>
<div class="t" style="left:657.5px;top:774px;font-size:17px;color:#111;font-weight:normal;transform:translate(0,-50%);">08:00</div>
<div class="a" style="left:827px;top:751px;width:1px;height:44px;background:#e0e0e0"></div>
<div class="a" style="left:827px;top:1137px;width:1px;height:25px;background:#e6e6e6"></div>
<div class="t" style="left:832.5px;top:774px;font-size:17px;color:#111;font-weight:normal;transform:translate(0,-50%);">08:15</div>
<div class="a" style="left:1002px;top:751px;width:1px;height:44px;background:#e0e0e0"></div>
<div class="a" style="left:1002px;top:1137px;width:1px;height:25px;background:#e6e6e6"></div>
<div class="t" style="left:1007.5px;top:774px;font-size:17px;color:#111;font-weight:normal;transform:translate(0,-50%);">08:30</div>
<div class="a" style="left:1177px;top:751px;width:1px;height:44px;background:#e0e0e0"></div>
<div class="a" style="left:1177px;top:1137px;width:1px;height:25px;background:#e6e6e6"></div>
<div class="t" style="left:1182.5px;top:774px;font-size:17px;color:#111;font-weight:normal;transform:translate(0,-50%);">08:45</div>
<div class="a" style="left:1352px;top:751px;width:1px;height:44px;background:#e0e0e0"></div>
<div class="a" style="left:1352px;top:1137px;width:1px;height:25px;background:#e6e6e6"></div>
<div class="t" style="left:1357.5px;top:774px;font-size:17px;color:#111;font-weight:normal;transform:translate(0,-50%);">09:00</div>
<div class="a" style="left:1527px;top:751px;width:1px;height:44px;background:#e0e0e0"></div>
<div class="a" style="left:1527px;top:1137px;width:1px;height:25px;background:#e6e6e6"></div>
<div class="t" style="left:1532.5px;top:774px;font-size:17px;color:#111;font-weight:normal;transform:translate(0,-50%);">09:15</div>
<div class="a" style="left:1702px;top:751px;width:1px;height:44px;background:#e0e0e0"></div>
<div class="a" style="left:1702px;top:1137px;width:1px;height:25px;background:#e6e6e6"></div>
<div class="t" style="left:1707.5px;top:774px;font-size:17px;color:#111;font-weight:normal;transform:translate(0,-50%);">09:30</div>
<div class="a" style="left:1877px;top:751px;width:1px;height:44px;background:#e0e0e0"></div>
<div class="a" style="left:1877px;top:1137px;width:1px;height:25px;background:#e6e6e6"></div>
<div class="t" style="left:1882.5px;top:774px;font-size:17px;color:#111;font-weight:normal;transform:translate(0,-50%);">09:45</div>
<div class="a" style="left:2052px;top:751px;width:1px;height:44px;background:#e0e0e0"></div>
<div class="a" style="left:2052px;top:1137px;width:1px;height:25px;background:#e6e6e6"></div>
<div class="t" style="left:2057.5px;top:774px;font-size:17px;color:#111;font-weight:normal;transform:translate(0,-50%);">10:00</div>
<div class="t" style="left:455px;top:779px;font-size:17px;color:#111;font-weight:normal;transform:translate(0,-50%);">Driver</div>
<div class="a" style="left:441px;top:794px;width:1628px;height:1px;background:#cfcfcf"></div>
<div class="a" style="left:441px;top:795px;width:1628px;height:6px;background:linear-gradient(#e2e2e2,#f3f3f3)"></div>
<div class="a" style="left:640px;top:801px;width:1429px;height:336px;background:#eeeeee"></div>
<div class="a" style="left:441px;top:801px;width:198px;height:48px;background:#f5f5f5"></div>
<div class="t" style="left:455px;top:825px;font-size:17px;color:#111;font-weight:normal;transform:translate(0,-50%);">Alex Jordin</div>
<div class="a" style="left:441px;top:849px;width:198px;height:48px;background:#ffffff"></div>
<div class="t" style="left:455px;top:873px;font-size:17px;color:#111;font-weight:normal;transform:translate(0,-50%);">Alvin Rube</div>
<div class="a" style="left:441px;top:897px;width:198px;height:48px;background:#f5f5f5"></div>
<div class="t" style="left:455px;top:921px;font-size:17px;color:#111;font-weight:normal;transform:translate(0,-50%);">Avery Esme</div>
<div class="a" style="left:441px;top:945px;width:198px;height:48px;background:#ffffff"></div>
<div class="t" style="left:455px;top:969px;font-size:17px;color:#111;font-weight:normal;transform:translate(0,-50%);">Clara Merrill</div>
<div class="a" style="left:441px;top:993px;width:198px;height:48px;background:#f5f5f5"></div>
<div class="t" style="left:455px;top:1017px;font-size:17px;color:#111;font-weight:normal;transform:translate(0,-50%);">Darryl Sawyer</div>
<div class="a" style="left:441px;top:1041px;width:198px;height:48px;background:#ffffff"></div>
<div class="t" style="left:455px;top:1065px;font-size:17px;color:#111;font-weight:normal;transform:translate(0,-50%);">Desmond Vladimir</div>
<div class="a" style="left:441px;top:1089px;width:198px;height:48px;background:#f5f5f5"></div>
<div class="t" style="left:455px;top:1113px;font-size:17px;color:#111;font-weight:normal;transform:translate(0,-50%);">George Cooper</div>
<div class="a" style="left:441px;top:1137px;width:198px;height:48px;background:#ffffff"></div>
<div class="t" style="left:455px;top:1161px;font-size:17px;color:#111;font-weight:normal;transform:translate(0,-50%);">Jordan Shave</div>
<div class="a" style="left:638px;top:709px;width:2px;height:453px;background:#8a8a8a"></div>
<div class="a" style="left:640px;top:709px;width:5px;height:453px;background:linear-gradient(90deg,rgba(0,0,0,0.120),rgba(0,0,0,0))"></div>
<div class="a" style="left:640px;top:801px;width:1429px;height:361px;overflow:hidden">
<div class="a" style="left:13.0px;top:23.3px;width:1420.0px;height:2.0px;background:#7d7d7d"></div>
<div class="a" style="left:12.5px;top:5.3px;width:1.5px;height:38.0px;background:#31a003"></div>
<div class="a" style="left:250.1px;top:6.0px;width:23.1px;height:36.6px;background:#31a003;border-radius:4px;box-shadow:inset 0 0 0 1px rgba(0,0,0,0.120)"></div>
<div class="t" style="left:261.7px;top:24.8px;transform:translate(-50%,-50%);font-size:16.500px;color:#fff">1</div>
<div class="a" style="left:371.8px;top:6.0px;width:117.3px;height:36.6px;background:#31a003;border-radius:4px;box-shadow:inset 0 0 0 1px rgba(0,0,0,0.120)"></div>
<div class="t" style="left:430.4px;top:24.8px;transform:translate(-50%,-50%);font-size:16.500px;color:#fff">2</div>
<div class="a" style="left:497.9px;top:6.0px;width:348.7px;height:36.6px;background:#31a003;border-radius:4px;box-shadow:inset 0 0 0 1px rgba(0,0,0,0.120)"></div>
<div class="t" style="left:672.2px;top:24.8px;transform:translate(-50%,-50%);font-size:16.500px;color:#fff">3</div>
<div class="a" style="left:964.2px;top:6.0px;width:57.7px;height:36.6px;background:#31a003;border-radius:4px;box-shadow:inset 0 0 0 1px rgba(0,0,0,0.120)"></div>
<div class="t" style="left:993.1px;top:24.8px;transform:translate(-50%,-50%);font-size:16.500px;color:#fff">4</div>
<div class="a" style="left:1030.6px;top:6.0px;width:117.3px;height:36.6px;background:#31a003;border-radius:4px;box-shadow:inset 0 0 0 1px rgba(0,0,0,0.120)"></div>
<div class="t" style="left:1089.2px;top:24.8px;transform:translate(-50%,-50%);font-size:16.500px;color:#fff">5</div>
<div class="a" style="left:1201.6px;top:6.0px;width:116.9px;height:36.6px;background:#31a003;border-radius:4px;box-shadow:inset 0 0 0 1px rgba(0,0,0,0.120)"></div>
<div class="t" style="left:1260.0px;top:24.8px;transform:translate(-50%,-50%);font-size:16.500px;color:#fff">6</div>
<div class="a" style="left:1334.4px;top:6.0px;width:115.6px;height:36.6px;background:#31a003;border-radius:4px;box-shadow:inset 0 0 0 1px rgba(0,0,0,0.120)"></div>
<div class="t" style="left:1392.2px;top:24.8px;transform:translate(-50%,-50%);font-size:16.500px;color:#fff">7</div>
<div class="a" style="left:13.0px;top:71.4px;width:1420.0px;height:2.0px;background:#7d7d7d"></div>
<div class="a" style="left:12.5px;top:53.4px;width:1.5px;height:38.0px;background:#0a9ffb"></div>
<div class="a" style="left:91.0px;top:54.1px;width:116.6px;height:36.6px;background:#0a9ffb;border-radius:4px;box-shadow:inset 0 0 0 1px rgba(0,0,0,0.120)"></div>
<div class="t" style="left:149.3px;top:72.9px;transform:translate(-50%,-50%);font-size:16.500px;color:#000">1</div>
<div class="a" style="left:208.3px;top:54.1px;width:115.4px;height:36.6px;background:#0a9ffb;border-radius:4px;box-shadow:inset 0 0 0 1px rgba(0,0,0,0.120)"></div>
<div class="t" style="left:266.0px;top:72.9px;transform:translate(-50%,-50%);font-size:16.500px;color:#000">2</div>
<div class="a" style="left:910.6px;top:54.1px;width:174.5px;height:36.6px;background:#0a9ffb;border-radius:4px;box-shadow:inset 0 0 0 1px rgba(0,0,0,0.120)"></div>
<div class="t" style="left:997.8px;top:72.9px;transform:translate(-50%,-50%);font-size:16.500px;color:#000">4</div>
<div class="a" style="left:1093.0px;top:54.1px;width:115.3px;height:36.6px;background:#0a9ffb;border-radius:4px;box-shadow:inset 0 0 0 1px rgba(0,0,0,0.120)"></div>
<div class="t" style="left:1150.7px;top:72.9px;transform:translate(-50%,-50%);font-size:16.500px;color:#000">5</div>
<div class="a" style="left:13.0px;top:119.5px;width:1420.0px;height:2.0px;background:#7d7d7d"></div>
<div class="a" style="left:12.5px;top:101.5px;width:1.5px;height:38.0px;background:#d8558f"></div>
<div class="a" style="left:178.5px;top:102.2px;width:22.3px;height:36.6px;background:#d8558f;border-radius:4px;box-shadow:inset 0 0 0 1px rgba(0,0,0,0.120)"></div>
<div class="t" style="left:189.6px;top:121.0px;transform:translate(-50%,-50%);font-size:16.500px;color:#fff">1</div>
<div class="a" style="left:636.2px;top:102.2px;width:115.7px;height:36.6px;background:#d8558f;border-radius:4px;box-shadow:inset 0 0 0 1px rgba(0,0,0,0.120)"></div>
<div class="t" style="left:694.1px;top:121.0px;transform:translate(-50%,-50%);font-size:16.500px;color:#fff">2</div>
<div class="a" style="left:876.8px;top:102.2px;width:116.9px;height:36.6px;background:#d8558f;border-radius:4px;box-shadow:inset 0 0 0 1px rgba(0,0,0,0.120)"></div>
<div class="t" style="left:935.2px;top:121.0px;transform:translate(-50%,-50%);font-size:16.500px;color:#fff">3</div>
<div class="a" style="left:1023.9px;top:102.2px;width:116.9px;height:36.6px;background:#d8558f;border-radius:4px;box-shadow:inset 0 0 0 1px rgba(0,0,0,0.120)"></div>
<div class="t" style="left:1082.3px;top:121.0px;transform:translate(-50%,-50%);font-size:16.500px;color:#fff">4</div>
<div class="a" style="left:1262.4px;top:102.2px;width:115.3px;height:36.6px;background:#d8558f;border-radius:4px;box-shadow:inset 0 0 0 1px rgba(0,0,0,0.120)"></div>
<div class="t" style="left:1320.1px;top:121.0px;transform:translate(-50%,-50%);font-size:16.500px;color:#fff">5</div>
<div class="a" style="left:1378.9px;top:102.2px;width:116.1px;height:36.6px;background:#d8558f;border-radius:4px;box-shadow:inset 0 0 0 1px rgba(0,0,0,0.120)"></div>
<div class="t" style="left:1436.9px;top:121.0px;transform:translate(-50%,-50%);font-size:16.500px;color:#fff">6</div>
<div class="a" style="left:13.0px;top:167.6px;width:1420.0px;height:2.0px;background:#7d7d7d"></div>
<div class="a" style="left:12.5px;top:149.6px;width:1.5px;height:38.0px;background:#f7e716"></div>
<div class="a" style="left:530.5px;top:150.3px;width:114.5px;height:36.6px;background:#f7e716;border-radius:4px;box-shadow:inset 0 0 0 1px rgba(0,0,0,0.120)"></div>
<div class="t" style="left:587.8px;top:169.1px;transform:translate(-50%,-50%);font-size:16.500px;color:#000">1</div>
<div class="a" style="left:647.0px;top:150.3px;width:116.1px;height:36.6px;background:#f7e716;border-radius:4px;box-shadow:inset 0 0 0 1px rgba(0,0,0,0.120)"></div>
<div class="t" style="left:705.0px;top:169.1px;transform:translate(-50%,-50%);font-size:16.500px;color:#000">2</div>
<div class="a" style="left:776.2px;top:150.3px;width:115.7px;height:36.6px;background:#f7e716;border-radius:4px;box-shadow:inset 0 0 0 1px rgba(0,0,0,0.120)"></div>
<div class="t" style="left:834.1px;top:169.1px;transform:translate(-50%,-50%);font-size:16.500px;color:#000">3</div>
<div class="a" style="left:1200.4px;top:150.3px;width:116.5px;height:36.6px;background:#f7e716;border-radius:4px;box-shadow:inset 0 0 0 1px rgba(0,0,0,0.120)"></div>
<div class="t" style="left:1258.7px;top:169.1px;transform:translate(-50%,-50%);font-size:16.500px;color:#000">4</div>
<div class="a" style="left:1318.1px;top:150.3px;width:115.4px;height:36.6px;background:#f7e716;border-radius:4px;box-shadow:inset 0 0 0 1px rgba(0,0,0,0.120)"></div>
<div class="t" style="left:1375.8px;top:169.1px;transform:translate(-50%,-50%);font-size:16.500px;color:#000">5</div>
<div class="a" style="left:13.0px;top:215.7px;width:1420.0px;height:2.0px;background:#7d7d7d"></div>
<div class="a" style="left:12.5px;top:197.7px;width:1.5px;height:38.0px;background:#6225fa"></div>
<div class="a" style="left:66.8px;top:198.4px;width:116.9px;height:36.6px;background:#6225fa;border-radius:4px;box-shadow:inset 0 0 0 1px rgba(0,0,0,0.120)"></div>
<div class="t" style="left:125.2px;top:217.2px;transform:translate(-50%,-50%);font-size:16.500px;color:#fff">1</div>
<div class="a" style="left:444.2px;top:198.4px;width:115.7px;height:36.6px;background:#6225fa;border-radius:4px;box-shadow:inset 0 0 0 1px rgba(0,0,0,0.120)"></div>
<div class="t" style="left:502.1px;top:217.2px;transform:translate(-50%,-50%);font-size:16.500px;color:#fff">2</div>
<div class="a" style="left:728.1px;top:198.4px;width:116.9px;height:36.6px;background:#6225fa;border-radius:4px;box-shadow:inset 0 0 0 1px rgba(0,0,0,0.120)"></div>
<div class="t" style="left:786.5px;top:217.2px;transform:translate(-50%,-50%);font-size:16.500px;color:#fff">3</div>
<div class="a" style="left:1082.7px;top:198.4px;width:117.3px;height:36.6px;background:#6225fa;border-radius:4px;box-shadow:inset 0 0 0 1px rgba(0,0,0,0.120)"></div>
<div class="t" style="left:1141.3px;top:217.2px;transform:translate(-50%,-50%);font-size:16.500px;color:#fff">4</div>
<div class="a" style="left:1200.8px;top:198.4px;width:115.3px;height:36.6px;background:#6225fa;border-radius:4px;box-shadow:inset 0 0 0 1px rgba(0,0,0,0.120)"></div>
<div class="t" style="left:1258.4px;top:217.2px;transform:translate(-50%,-50%);font-size:16.500px;color:#fff">5</div>
<div class="a" style="left:13.0px;top:263.8px;width:1420.0px;height:2.0px;background:#7d7d7d"></div>
<div class="a" style="left:12.5px;top:245.8px;width:1.5px;height:38.0px;background:#fe9e03"></div>
<div class="a" style="left:77.9px;top:246.5px;width:114.9px;height:36.6px;background:#fe9e03;border-radius:4px;box-shadow:inset 0 0 0 1px rgba(0,0,0,0.120)"></div>
<div class="t" style="left:135.3px;top:265.3px;transform:translate(-50%,-50%);font-size:16.500px;color:#000">1</div>
<div class="a" style="left:194.0px;top:246.5px;width:117.0px;height:36.6px;background:#fe9e03;border-radius:4px;box-shadow:inset 0 0 0 1px rgba(0,0,0,0.120)"></div>
<div class="t" style="left:252.5px;top:265.3px;transform:translate(-50%,-50%);font-size:16.500px;color:#000">2</div>
<div class="a" style="left:352.3px;top:246.5px;width:115.7px;height:36.6px;background:#fe9e03;border-radius:4px;box-shadow:inset 0 0 0 1px rgba(0,0,0,0.120)"></div>
<div class="t" style="left:410.2px;top:265.3px;transform:translate(-50%,-50%);font-size:16.500px;color:#000">3</div>
<div class="a" style="left:708.6px;top:246.5px;width:116.5px;height:36.6px;background:#fe9e03;border-radius:4px;box-shadow:inset 0 0 0 1px rgba(0,0,0,0.120)"></div>
<div class="t" style="left:766.8px;top:265.3px;transform:translate(-50%,-50%);font-size:16.500px;color:#000">4</div>
<div class="a" style="left:829.9px;top:246.5px;width:117.2px;height:36.6px;background:#fe9e03;border-radius:4px;box-shadow:inset 0 0 0 1px rgba(0,0,0,0.120)"></div>
<div class="t" style="left:888.5px;top:265.3px;transform:translate(-50%,-50%);font-size:16.500px;color:#000">5</div>
<div class="a" style="left:1403.5px;top:246.5px;width:116.5px;height:36.6px;background:#fe9e03;border-radius:4px;box-shadow:inset 0 0 0 1px rgba(0,0,0,0.120)"></div>
<div class="t" style="left:1461.8px;top:265.3px;transform:translate(-50%,-50%);font-size:16.500px;color:#000">6</div>
<div class="a" style="left:13.0px;top:311.9px;width:1420.0px;height:2.0px;background:#7d7d7d"></div>
<div class="a" style="left:12.5px;top:293.9px;width:1.5px;height:38.0px;background:#fd5621"></div>
<div class="a" style="left:59.6px;top:294.6px;width:115.7px;height:36.6px;background:#fd5621;border-radius:4px;box-shadow:inset 0 0 0 1px rgba(0,0,0,0.120)"></div>
<div class="t" style="left:117.5px;top:313.4px;transform:translate(-50%,-50%);font-size:16.500px;color:#fff">1</div>
<div class="a" style="left:251.7px;top:294.6px;width:115.7px;height:36.6px;background:#fd5621;border-radius:4px;box-shadow:inset 0 0 0 1px rgba(0,0,0,0.120)"></div>
<div class="t" style="left:309.5px;top:313.4px;transform:translate(-50%,-50%);font-size:16.500px;color:#fff">2</div>
<div class="a" style="left:386.1px;top:294.6px;width:116.9px;height:36.6px;background:#fd5621;border-radius:4px;box-shadow:inset 0 0 0 1px rgba(0,0,0,0.120)"></div>
<div class="t" style="left:444.5px;top:313.4px;transform:translate(-50%,-50%);font-size:16.500px;color:#fff">3</div>
<div class="a" style="left:582.6px;top:294.6px;width:115.3px;height:36.6px;background:#fd5621;border-radius:4px;box-shadow:inset 0 0 0 1px rgba(0,0,0,0.120)"></div>
<div class="t" style="left:640.2px;top:313.4px;transform:translate(-50%,-50%);font-size:16.500px;color:#fff">4</div>
<div class="a" style="left:762.3px;top:294.6px;width:115.3px;height:36.6px;background:#fd5621;border-radius:4px;box-shadow:inset 0 0 0 1px rgba(0,0,0,0.120)"></div>
<div class="t" style="left:819.9px;top:313.4px;transform:translate(-50%,-50%);font-size:16.500px;color:#fff">5</div>
<div class="a" style="left:1151.1px;top:294.6px;width:116.5px;height:36.6px;background:#fd5621;border-radius:4px;box-shadow:inset 0 0 0 1px rgba(0,0,0,0.120)"></div>
<div class="t" style="left:1209.3px;top:313.4px;transform:translate(-50%,-50%);font-size:16.500px;color:#fff">6</div>
<div class="a" style="left:1300.6px;top:294.6px;width:115.3px;height:36.6px;background:#fd5621;border-radius:4px;box-shadow:inset 0 0 0 1px rgba(0,0,0,0.120)"></div>
<div class="t" style="left:1358.2px;top:313.4px;transform:translate(-50%,-50%);font-size:16.500px;color:#fff">7</div>
<div class="a" style="left:397.3px;top:55.0px;width:57.6px;height:36.0px;background:#cfe9fb;border:1.500px dashed #6fb5ea;border-radius:4px"></div>
</div>
<div class="a" style="left:432px;top:12px;width:756px;height:76px;background:#ebebeb;border-radius:10px"></div>
<div class="a" style="left:454px;top:27px;width:124px;height:47.5px;background:#efefef;border:2px solid #c9c9c9;border-radius:5px"></div>
<div class="t" style="left:516.0px;top:50.5px;font-size:19.7px;color:#b8b8b8;font-weight:bold;transform:translate(-50%,-50%);">Undo</div>
<div class="a" style="left:595px;top:27px;width:124px;height:47.5px;background:#ffffff;border:2px solid #1c1c1c;border-radius:5px"></div>
<div class="t" style="left:657.0px;top:50.5px;font-size:19.7px;color:#000;font-weight:bold;transform:translate(-50%,-50%);">Redo</div>
<div class="a" style="left:753px;top:27px;width:206.5px;height:47.5px;background:#ffffff;border:2px solid #1c1c1c;border-radius:5px"></div>
<div class="t" style="left:856.25px;top:50.5px;font-size:19.7px;color:#000;font-weight:bold;transform:translate(-50%,-50%);">Discard changes</div>
<div class="a" style="left:976px;top:27px;width:190px;height:47.5px;background:#1e8fff;border:2px solid #1e8fff;border-radius:5px"></div>
<div class="t" style="left:1071.0px;top:50.5px;font-size:19.7px;color:#fff;font-weight:bold;transform:translate(-50%,-50%);">Apply changes</div>
<div class="a" style="left:19px;top:457px;width:393px;height:710px;background:#fff;border-radius:15px 15px 0 0"></div>
<div class="t" style="left:41px;top:499.5px;font-size:19.5px;color:#0a0a0a;font-weight:bold;transform:translate(0,-50%);">Unscheduled orders (5)</div>
<svg style="left:320px;top:485.500px" width="25" height="25" viewBox="0 0 24 24" fill="none" stroke="#7a7a7a" stroke-width="1.350" stroke-linejoin="round"><circle cx="12" cy="12" r="3.700"/><path d="M10.07 4.24 L10.51 1.51 L13.49 1.51 L13.93 4.24 L16.13 5.15 L18.36 3.52 L20.48 5.64 L18.85 7.87 L19.76 10.07 L22.49 10.51 L22.49 13.49 L19.76 13.93 L18.85 16.13 L20.48 18.36 L18.36 20.48 L16.13 18.85 L13.93 19.76 L13.49 22.49 L10.51 22.49 L10.07 19.76 L7.87 18.85 L5.64 20.48 L3.52 18.36 L5.15 16.13 L4.24 13.93 L1.51 13.49 L1.51 10.51 L4.24 10.07 L5.15 7.87 L3.52 5.64 L5.64 3.52 L7.87 5.15 Z"/></svg>
<svg style="left:365px;top:492px" width="16" height="10" viewBox="0 0 16 10" fill="none" stroke="#8b98a8" stroke-width="2.200" stroke-linecap="round" stroke-linejoin="round"><path d="M2 2l6 6 6-6"/></svg>
<div class="a" style="left:41px;top:535.5px;width:299.5px;height:45px;background:#e9ecef;border-radius:23px"></div>
<svg style="left:54px;top:546px" width="24" height="24" viewBox="0 0 24 24" fill="none" stroke="#7b7b7b" stroke-width="1.600" stroke-linecap="round"><circle cx="10" cy="10" r="7.500"/><path d="M15.500 15.500L21 21"/></svg>
<div class="t" style="left:96.5px;top:558px;font-size:19.6px;color:#777;font-weight:normal;transform:translate(0,-50%);">Search...</div>
<div class="a" style="left:354.5px;top:541px;width:34px;height:34px;background:#1e8fff;border-radius:50%"></div>
<svg style="left:363px;top:549.500px" width="17" height="17" viewBox="0 0 17 17" stroke="#fff" stroke-width="2.600" stroke-linecap="round"><path d="M8.500 2v13M2 8.500h13"/></svg>
<div class="a" style="left:39px;top:586.5px;width:352.5px;height:574.5px;background:#ecedf0;border:1px dashed #c3cedb;border-radius:5px"></div>
<div class="a" style="left:403px;top:587px;width:9px;height:575px;background:#ededed;border-radius:4px 4px 4px 4px"></div>
<svg style="left:199px;top:827px" width="31" height="32" viewBox="0 0 31 32" fill="none" stroke="#3f5068" stroke-width="2.300" stroke-linecap="round" stroke-linejoin="round"><path d="M15.500 21V3M7.500 10.500l8-8 8 8M2.500 21v6.500a2 2 0 0 0 2 2h22a2 2 0 0 0 2-2V21"/></svg>
<div class="t" style="left:214.5px;top:888px;font-size:19.8px;color:#4b5b70;font-weight:normal;transform:translate(-50%,-50%);">Drop your order here to</div>
<div class="t" style="left:214.5px;top:912px;font-size:19.8px;color:#4b5b70;font-weight:normal;transform:translate(-50%,-50%);">unschedule it</div>
<div class="a" style="left:411px;top:1125px;width:12.5px;height:20px;border:1px solid #727a88;border-radius:0 4px 4px 0;border-left:none"></div>
<svg style="left:412px;top:1130px" width="7" height="11" viewBox="0 0 7 11" fill="none" stroke="#5c6575" stroke-width="1.400"><path d="M5.500 1L1.500 5.500l4 4.500"/></svg>
<div class="a" style="left:140px;top:707.5px;width:347.5px;height:100px;background:rgba(214,224,240,0.760);border:1px solid #8a94a3;border-radius:4px;box-shadow:0 3px 6px rgba(0,0,0,0.350)"></div>
<div class="t" style="left:164px;top:743px;font-size:19.8px;color:#2f3338;font-weight:bold;transform:translate(0,-50%);">Monument City Brewing Co</div>
<div class="t" style="left:164px;top:776.5px;font-size:15.5px;color:#3c4046;font-weight:normal;transform:translate(0,-50%);">5&#8201;min</div>
<div class="t" style="left:228px;top:776.5px;font-size:15.5px;color:#3c4046;font-weight:normal;transform:translate(0,-50%);">-</div>
</div></body></html>
